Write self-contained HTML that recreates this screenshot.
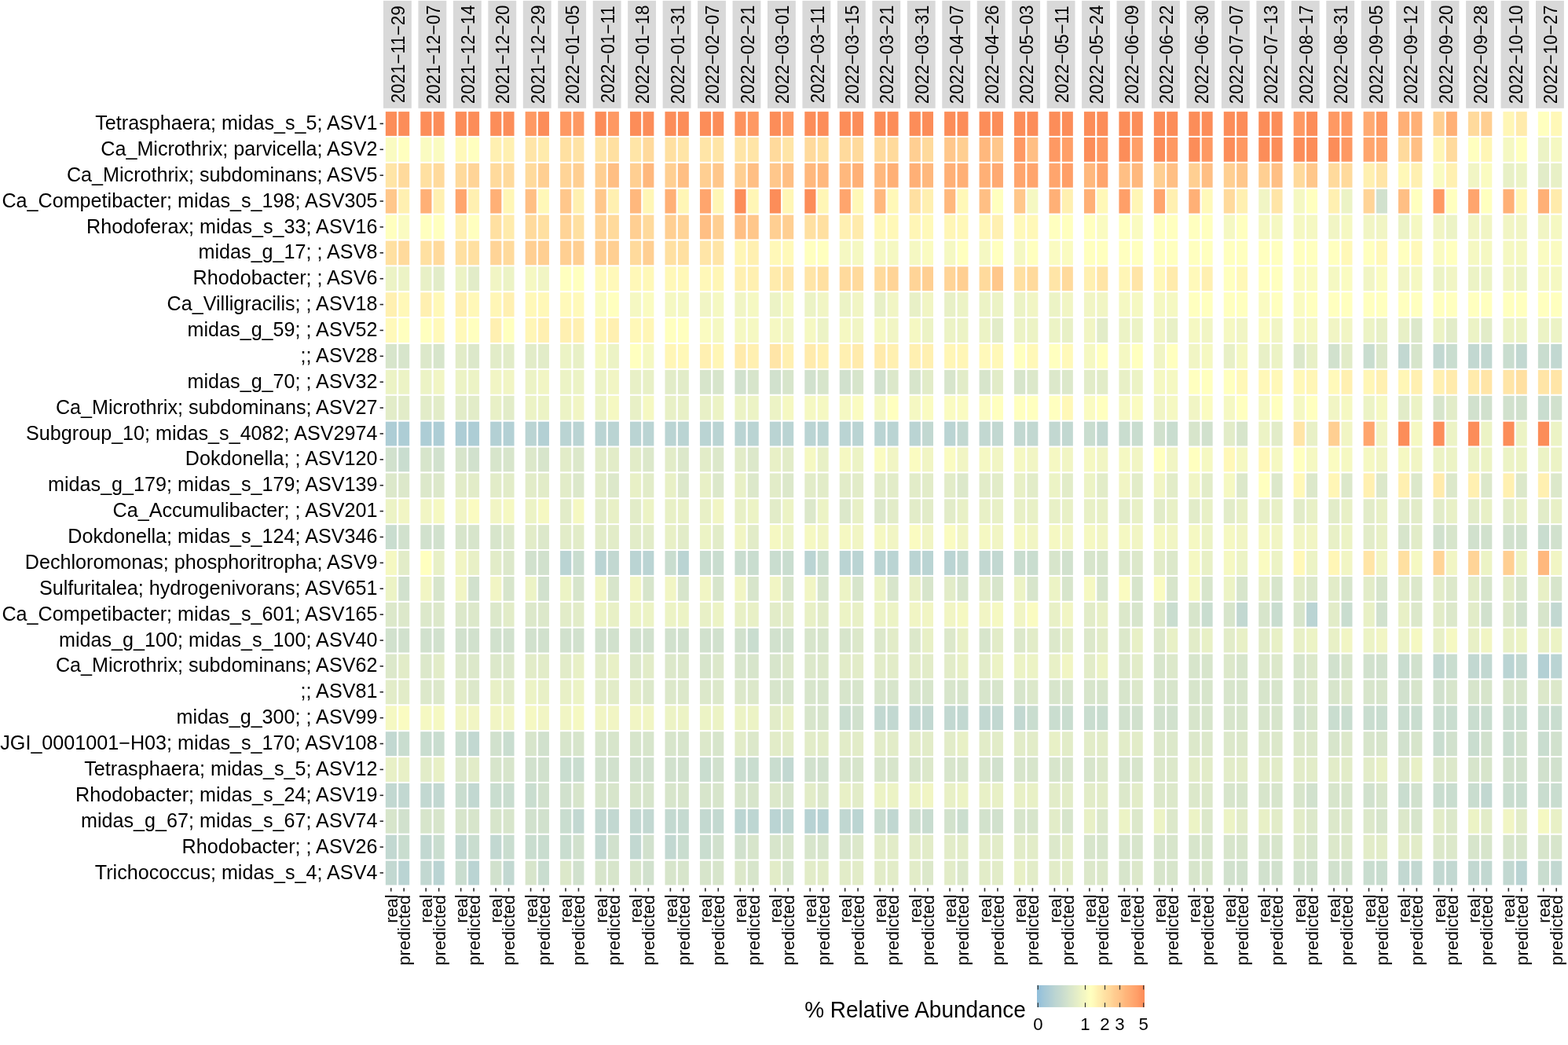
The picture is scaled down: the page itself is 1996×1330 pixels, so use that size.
<!DOCTYPE html><html><head><meta charset="utf-8"><title>Relative abundance heatmap</title><style>html,body{margin:0;padding:0;background:#fff;overflow:hidden;width:1996px;height:1330px;}svg{display:block;}text{font-family:"Liberation Sans",Arial,Helvetica,sans-serif;fill:#000;}</style></head><body>
<svg width="1996" height="1330" viewBox="0 0 1996 1330">
<rect x="0" y="0" width="1996" height="1330" fill="#fff"/>
<g fill="#d9d9d9">
<rect x="488" y="0.9" width="35.85" height="136.9"/>
<rect x="532.46" y="0.9" width="35.85" height="136.9"/>
<rect x="576.91" y="0.9" width="35.85" height="136.9"/>
<rect x="621.37" y="0.9" width="35.85" height="136.9"/>
<rect x="665.82" y="0.9" width="35.85" height="136.9"/>
<rect x="710.27" y="0.9" width="35.85" height="136.9"/>
<rect x="754.73" y="0.9" width="35.85" height="136.9"/>
<rect x="799.18" y="0.9" width="35.85" height="136.9"/>
<rect x="843.64" y="0.9" width="35.85" height="136.9"/>
<rect x="888.1" y="0.9" width="35.85" height="136.9"/>
<rect x="932.55" y="0.9" width="35.85" height="136.9"/>
<rect x="977" y="0.9" width="35.85" height="136.9"/>
<rect x="1021.46" y="0.9" width="35.85" height="136.9"/>
<rect x="1065.91" y="0.9" width="35.85" height="136.9"/>
<rect x="1110.37" y="0.9" width="35.85" height="136.9"/>
<rect x="1154.82" y="0.9" width="35.85" height="136.9"/>
<rect x="1199.28" y="0.9" width="35.85" height="136.9"/>
<rect x="1243.74" y="0.9" width="35.85" height="136.9"/>
<rect x="1288.19" y="0.9" width="35.85" height="136.9"/>
<rect x="1332.64" y="0.9" width="35.85" height="136.9"/>
<rect x="1377.1" y="0.9" width="35.85" height="136.9"/>
<rect x="1421.55" y="0.9" width="35.85" height="136.9"/>
<rect x="1466.01" y="0.9" width="35.85" height="136.9"/>
<rect x="1510.46" y="0.9" width="35.85" height="136.9"/>
<rect x="1554.92" y="0.9" width="35.85" height="136.9"/>
<rect x="1599.38" y="0.9" width="35.85" height="136.9"/>
<rect x="1643.83" y="0.9" width="35.85" height="136.9"/>
<rect x="1688.28" y="0.9" width="35.85" height="136.9"/>
<rect x="1732.74" y="0.9" width="35.85" height="136.9"/>
<rect x="1777.19" y="0.9" width="35.85" height="136.9"/>
<rect x="1821.65" y="0.9" width="35.85" height="136.9"/>
<rect x="1866.11" y="0.9" width="35.85" height="136.9"/>
<rect x="1910.56" y="0.9" width="35.85" height="136.9"/>
<rect x="1955.01" y="0.9" width="35.85" height="136.9"/>
</g>
<g font-size="22.4" text-anchor="middle">
<text transform="translate(515.1,69.3) rotate(-90) scale(1,1.035)">2021−11−29</text>
<text transform="translate(559.56,69.3) rotate(-90) scale(1,1.035)">2021−12−07</text>
<text transform="translate(604.01,69.3) rotate(-90) scale(1,1.035)">2021−12−14</text>
<text transform="translate(648.47,69.3) rotate(-90) scale(1,1.035)">2021−12−20</text>
<text transform="translate(692.92,69.3) rotate(-90) scale(1,1.035)">2021−12−29</text>
<text transform="translate(737.38,69.3) rotate(-90) scale(1,1.035)">2022−01−05</text>
<text transform="translate(781.83,69.3) rotate(-90) scale(1,1.035)">2022−01−11</text>
<text transform="translate(826.28,69.3) rotate(-90) scale(1,1.035)">2022−01−18</text>
<text transform="translate(870.74,69.3) rotate(-90) scale(1,1.035)">2022−01−31</text>
<text transform="translate(915.2,69.3) rotate(-90) scale(1,1.035)">2022−02−07</text>
<text transform="translate(959.65,69.3) rotate(-90) scale(1,1.035)">2022−02−21</text>
<text transform="translate(1004.11,69.3) rotate(-90) scale(1,1.035)">2022−03−01</text>
<text transform="translate(1048.56,69.3) rotate(-90) scale(1,1.035)">2022−03−11</text>
<text transform="translate(1093.01,69.3) rotate(-90) scale(1,1.035)">2022−03−15</text>
<text transform="translate(1137.47,69.3) rotate(-90) scale(1,1.035)">2022−03−21</text>
<text transform="translate(1181.92,69.3) rotate(-90) scale(1,1.035)">2022−03−31</text>
<text transform="translate(1226.38,69.3) rotate(-90) scale(1,1.035)">2022−04−07</text>
<text transform="translate(1270.84,69.3) rotate(-90) scale(1,1.035)">2022−04−26</text>
<text transform="translate(1315.29,69.3) rotate(-90) scale(1,1.035)">2022−05−03</text>
<text transform="translate(1359.74,69.3) rotate(-90) scale(1,1.035)">2022−05−11</text>
<text transform="translate(1404.2,69.3) rotate(-90) scale(1,1.035)">2022−05−24</text>
<text transform="translate(1448.65,69.3) rotate(-90) scale(1,1.035)">2022−06−09</text>
<text transform="translate(1493.11,69.3) rotate(-90) scale(1,1.035)">2022−06−22</text>
<text transform="translate(1537.57,69.3) rotate(-90) scale(1,1.035)">2022−06−30</text>
<text transform="translate(1582.02,69.3) rotate(-90) scale(1,1.035)">2022−07−07</text>
<text transform="translate(1626.47,69.3) rotate(-90) scale(1,1.035)">2022−07−13</text>
<text transform="translate(1670.93,69.3) rotate(-90) scale(1,1.035)">2022−08−17</text>
<text transform="translate(1715.38,69.3) rotate(-90) scale(1,1.035)">2022−08−31</text>
<text transform="translate(1759.84,69.3) rotate(-90) scale(1,1.035)">2022−09−05</text>
<text transform="translate(1804.3,69.3) rotate(-90) scale(1,1.035)">2022−09−12</text>
<text transform="translate(1848.75,69.3) rotate(-90) scale(1,1.035)">2022−09−20</text>
<text transform="translate(1893.2,69.3) rotate(-90) scale(1,1.035)">2022−09−28</text>
<text transform="translate(1937.66,69.3) rotate(-90) scale(1,1.035)">2022−10−10</text>
<text transform="translate(1982.11,69.3) rotate(-90) scale(1,1.035)">2022−10−27</text>
</g>
<g>
<rect x="490.85" y="142.1" width="14.15" height="30.8" fill="#fc8d59"/>
<rect x="507.25" y="142.1" width="13.95" height="30.8" fill="#fc8d59"/>
<rect x="535.31" y="142.1" width="14.15" height="30.8" fill="#fc8d59"/>
<rect x="551.71" y="142.1" width="13.95" height="30.8" fill="#fc8d59"/>
<rect x="579.76" y="142.1" width="14.15" height="30.8" fill="#fc8d59"/>
<rect x="596.16" y="142.1" width="13.95" height="30.8" fill="#fc8d59"/>
<rect x="624.22" y="142.1" width="14.15" height="30.8" fill="#fc8d59"/>
<rect x="640.62" y="142.1" width="13.95" height="30.8" fill="#fc8d59"/>
<rect x="668.67" y="142.1" width="14.15" height="30.8" fill="#fe9963"/>
<rect x="685.07" y="142.1" width="13.95" height="30.8" fill="#fc8d59"/>
<rect x="713.12" y="142.1" width="14.15" height="30.8" fill="#fe9963"/>
<rect x="729.52" y="142.1" width="13.95" height="30.8" fill="#fe9963"/>
<rect x="757.58" y="142.1" width="14.15" height="30.8" fill="#fc8d59"/>
<rect x="773.98" y="142.1" width="13.95" height="30.8" fill="#fe9963"/>
<rect x="802.03" y="142.1" width="14.15" height="30.8" fill="#fc8d59"/>
<rect x="818.43" y="142.1" width="13.95" height="30.8" fill="#fc8d59"/>
<rect x="846.49" y="142.1" width="14.15" height="30.8" fill="#fc8d59"/>
<rect x="862.89" y="142.1" width="13.95" height="30.8" fill="#fc8d59"/>
<rect x="890.95" y="142.1" width="14.15" height="30.8" fill="#fc8d59"/>
<rect x="907.35" y="142.1" width="13.95" height="30.8" fill="#fc8d59"/>
<rect x="935.4" y="142.1" width="14.15" height="30.8" fill="#fd935e"/>
<rect x="951.8" y="142.1" width="13.95" height="30.8" fill="#fe9963"/>
<rect x="979.86" y="142.1" width="14.15" height="30.8" fill="#fc8d59"/>
<rect x="996.25" y="142.1" width="13.95" height="30.8" fill="#fe9963"/>
<rect x="1024.31" y="142.1" width="14.15" height="30.8" fill="#fc8d59"/>
<rect x="1040.71" y="142.1" width="13.95" height="30.8" fill="#fc8d59"/>
<rect x="1068.76" y="142.1" width="14.15" height="30.8" fill="#fc8d59"/>
<rect x="1085.16" y="142.1" width="13.95" height="30.8" fill="#fc8d59"/>
<rect x="1113.22" y="142.1" width="14.15" height="30.8" fill="#fc8d59"/>
<rect x="1129.62" y="142.1" width="13.95" height="30.8" fill="#fc8d59"/>
<rect x="1157.67" y="142.1" width="14.15" height="30.8" fill="#fc8d59"/>
<rect x="1174.07" y="142.1" width="13.95" height="30.8" fill="#fc8d59"/>
<rect x="1202.13" y="142.1" width="14.15" height="30.8" fill="#fc8d59"/>
<rect x="1218.53" y="142.1" width="13.95" height="30.8" fill="#fc8d59"/>
<rect x="1246.59" y="142.1" width="14.15" height="30.8" fill="#fc8d59"/>
<rect x="1262.99" y="142.1" width="13.95" height="30.8" fill="#fc8d59"/>
<rect x="1291.04" y="142.1" width="14.15" height="30.8" fill="#fc8d59"/>
<rect x="1307.44" y="142.1" width="13.95" height="30.8" fill="#fc8d59"/>
<rect x="1335.49" y="142.1" width="14.15" height="30.8" fill="#fc8d59"/>
<rect x="1351.89" y="142.1" width="13.95" height="30.8" fill="#fc8d59"/>
<rect x="1379.95" y="142.1" width="14.15" height="30.8" fill="#fc8d59"/>
<rect x="1396.35" y="142.1" width="13.95" height="30.8" fill="#fc8d59"/>
<rect x="1424.4" y="142.1" width="14.15" height="30.8" fill="#fc8d59"/>
<rect x="1440.8" y="142.1" width="13.95" height="30.8" fill="#fc8d59"/>
<rect x="1468.86" y="142.1" width="14.15" height="30.8" fill="#fc8d59"/>
<rect x="1485.26" y="142.1" width="13.95" height="30.8" fill="#fc8d59"/>
<rect x="1513.31" y="142.1" width="14.15" height="30.8" fill="#fc8d59"/>
<rect x="1529.71" y="142.1" width="13.95" height="30.8" fill="#fc8d59"/>
<rect x="1557.77" y="142.1" width="14.15" height="30.8" fill="#fc8d59"/>
<rect x="1574.17" y="142.1" width="13.95" height="30.8" fill="#fc8d59"/>
<rect x="1602.22" y="142.1" width="14.15" height="30.8" fill="#fc8d59"/>
<rect x="1618.62" y="142.1" width="13.95" height="30.8" fill="#fc8d59"/>
<rect x="1646.68" y="142.1" width="14.15" height="30.8" fill="#fe9963"/>
<rect x="1663.08" y="142.1" width="13.95" height="30.8" fill="#fc8d59"/>
<rect x="1691.13" y="142.1" width="14.15" height="30.8" fill="#fe9963"/>
<rect x="1707.53" y="142.1" width="13.95" height="30.8" fill="#fe9963"/>
<rect x="1735.59" y="142.1" width="14.15" height="30.8" fill="#ffaa72"/>
<rect x="1751.99" y="142.1" width="13.95" height="30.8" fill="#fe9963"/>
<rect x="1780.04" y="142.1" width="14.15" height="30.8" fill="#ffb076"/>
<rect x="1796.44" y="142.1" width="13.95" height="30.8" fill="#ffb076"/>
<rect x="1824.5" y="142.1" width="14.15" height="30.8" fill="#ffcf92"/>
<rect x="1840.9" y="142.1" width="13.95" height="30.8" fill="#ffb076"/>
<rect x="1868.95" y="142.1" width="14.15" height="30.8" fill="#ffda9c"/>
<rect x="1885.36" y="142.1" width="13.95" height="30.8" fill="#ffcf92"/>
<rect x="1913.41" y="142.1" width="14.15" height="30.8" fill="#fff6b6"/>
<rect x="1929.81" y="142.1" width="13.95" height="30.8" fill="#ffebac"/>
<rect x="1957.86" y="142.1" width="14.15" height="30.8" fill="#ffffbf"/>
<rect x="1974.26" y="142.1" width="13.95" height="30.8" fill="#fff8b8"/>
<rect x="490.85" y="174.98" width="14.15" height="30.8" fill="#fafbc1"/>
<rect x="507.25" y="174.98" width="13.95" height="30.8" fill="#ffffbf"/>
<rect x="535.31" y="174.98" width="14.15" height="30.8" fill="#fafbc1"/>
<rect x="551.71" y="174.98" width="13.95" height="30.8" fill="#fafbc1"/>
<rect x="579.76" y="174.98" width="14.15" height="30.8" fill="#fff9ba"/>
<rect x="596.16" y="174.98" width="13.95" height="30.8" fill="#ffffbf"/>
<rect x="624.22" y="174.98" width="14.15" height="30.8" fill="#fff0b1"/>
<rect x="640.62" y="174.98" width="13.95" height="30.8" fill="#fff0b1"/>
<rect x="668.67" y="174.98" width="14.15" height="30.8" fill="#ffe5a7"/>
<rect x="685.07" y="174.98" width="13.95" height="30.8" fill="#ffebac"/>
<rect x="713.12" y="174.98" width="14.15" height="30.8" fill="#ffe0a1"/>
<rect x="729.52" y="174.98" width="13.95" height="30.8" fill="#ffe3a5"/>
<rect x="757.58" y="174.98" width="14.15" height="30.8" fill="#ffe5a7"/>
<rect x="773.98" y="174.98" width="13.95" height="30.8" fill="#ffe0a1"/>
<rect x="802.03" y="174.98" width="14.15" height="30.8" fill="#ffe5a7"/>
<rect x="818.43" y="174.98" width="13.95" height="30.8" fill="#ffda9c"/>
<rect x="846.49" y="174.98" width="14.15" height="30.8" fill="#ffe0a1"/>
<rect x="862.89" y="174.98" width="13.95" height="30.8" fill="#ffe5a7"/>
<rect x="890.95" y="174.98" width="14.15" height="30.8" fill="#ffe5a7"/>
<rect x="907.35" y="174.98" width="13.95" height="30.8" fill="#ffe5a7"/>
<rect x="935.4" y="174.98" width="14.15" height="30.8" fill="#ffe5a7"/>
<rect x="951.8" y="174.98" width="13.95" height="30.8" fill="#ffe5a7"/>
<rect x="979.86" y="174.98" width="14.15" height="30.8" fill="#ffda9c"/>
<rect x="996.25" y="174.98" width="13.95" height="30.8" fill="#ffe5a7"/>
<rect x="1024.31" y="174.98" width="14.15" height="30.8" fill="#ffda9c"/>
<rect x="1040.71" y="174.98" width="13.95" height="30.8" fill="#ffe0a1"/>
<rect x="1068.76" y="174.98" width="14.15" height="30.8" fill="#ffda9c"/>
<rect x="1085.16" y="174.98" width="13.95" height="30.8" fill="#ffda9c"/>
<rect x="1113.22" y="174.98" width="14.15" height="30.8" fill="#ffda9c"/>
<rect x="1129.62" y="174.98" width="13.95" height="30.8" fill="#ffda9c"/>
<rect x="1157.67" y="174.98" width="14.15" height="30.8" fill="#ffcf92"/>
<rect x="1174.07" y="174.98" width="13.95" height="30.8" fill="#ffda9c"/>
<rect x="1202.13" y="174.98" width="14.15" height="30.8" fill="#ffc78b"/>
<rect x="1218.53" y="174.98" width="13.95" height="30.8" fill="#ffcf92"/>
<rect x="1246.59" y="174.98" width="14.15" height="30.8" fill="#ffb87d"/>
<rect x="1262.99" y="174.98" width="13.95" height="30.8" fill="#ffc78b"/>
<rect x="1291.04" y="174.98" width="14.15" height="30.8" fill="#fe9963"/>
<rect x="1307.44" y="174.98" width="13.95" height="30.8" fill="#ffbf84"/>
<rect x="1335.49" y="174.98" width="14.15" height="30.8" fill="#fe9963"/>
<rect x="1351.89" y="174.98" width="13.95" height="30.8" fill="#ff9f68"/>
<rect x="1379.95" y="174.98" width="14.15" height="30.8" fill="#fc8d59"/>
<rect x="1396.35" y="174.98" width="13.95" height="30.8" fill="#fe9963"/>
<rect x="1424.4" y="174.98" width="14.15" height="30.8" fill="#fc8d59"/>
<rect x="1440.8" y="174.98" width="13.95" height="30.8" fill="#ff9f68"/>
<rect x="1468.86" y="174.98" width="14.15" height="30.8" fill="#fc8d59"/>
<rect x="1485.26" y="174.98" width="13.95" height="30.8" fill="#fe9963"/>
<rect x="1513.31" y="174.98" width="14.15" height="30.8" fill="#fc8d59"/>
<rect x="1529.71" y="174.98" width="13.95" height="30.8" fill="#fe9963"/>
<rect x="1557.77" y="174.98" width="14.15" height="30.8" fill="#fc8d59"/>
<rect x="1574.17" y="174.98" width="13.95" height="30.8" fill="#fe9963"/>
<rect x="1602.22" y="174.98" width="14.15" height="30.8" fill="#fc8d59"/>
<rect x="1618.62" y="174.98" width="13.95" height="30.8" fill="#fc8d59"/>
<rect x="1646.68" y="174.98" width="14.15" height="30.8" fill="#fc8d59"/>
<rect x="1663.08" y="174.98" width="13.95" height="30.8" fill="#fc8d59"/>
<rect x="1691.13" y="174.98" width="14.15" height="30.8" fill="#fc8d59"/>
<rect x="1707.53" y="174.98" width="13.95" height="30.8" fill="#fe9963"/>
<rect x="1735.59" y="174.98" width="14.15" height="30.8" fill="#ffa56d"/>
<rect x="1751.99" y="174.98" width="13.95" height="30.8" fill="#ffa56d"/>
<rect x="1780.04" y="174.98" width="14.15" height="30.8" fill="#ffda9c"/>
<rect x="1796.44" y="174.98" width="13.95" height="30.8" fill="#ffbf84"/>
<rect x="1824.5" y="174.98" width="14.15" height="30.8" fill="#fff6b6"/>
<rect x="1840.9" y="174.98" width="13.95" height="30.8" fill="#ffda9c"/>
<rect x="1868.95" y="174.98" width="14.15" height="30.8" fill="#ffffbf"/>
<rect x="1885.36" y="174.98" width="13.95" height="30.8" fill="#fff6b6"/>
<rect x="1913.41" y="174.98" width="14.15" height="30.8" fill="#f5f8c2"/>
<rect x="1929.81" y="174.98" width="13.95" height="30.8" fill="#ffffbf"/>
<rect x="1957.86" y="174.98" width="14.15" height="30.8" fill="#ecf3c5"/>
<rect x="1974.26" y="174.98" width="13.95" height="30.8" fill="#f5f8c2"/>
<rect x="490.85" y="207.86" width="14.15" height="30.8" fill="#ffe5a7"/>
<rect x="507.25" y="207.86" width="13.95" height="30.8" fill="#ffda9c"/>
<rect x="535.31" y="207.86" width="14.15" height="30.8" fill="#ffe0a1"/>
<rect x="551.71" y="207.86" width="13.95" height="30.8" fill="#ffda9c"/>
<rect x="579.76" y="207.86" width="14.15" height="30.8" fill="#ffda9c"/>
<rect x="596.16" y="207.86" width="13.95" height="30.8" fill="#ffd497"/>
<rect x="624.22" y="207.86" width="14.15" height="30.8" fill="#ffda9c"/>
<rect x="640.62" y="207.86" width="13.95" height="30.8" fill="#ffda9c"/>
<rect x="668.67" y="207.86" width="14.15" height="30.8" fill="#ffda9c"/>
<rect x="685.07" y="207.86" width="13.95" height="30.8" fill="#ffcf92"/>
<rect x="713.12" y="207.86" width="14.15" height="30.8" fill="#ffd497"/>
<rect x="729.52" y="207.86" width="13.95" height="30.8" fill="#ffcf92"/>
<rect x="757.58" y="207.86" width="14.15" height="30.8" fill="#ffcf92"/>
<rect x="773.98" y="207.86" width="13.95" height="30.8" fill="#ffbf84"/>
<rect x="802.03" y="207.86" width="14.15" height="30.8" fill="#ffcf92"/>
<rect x="818.43" y="207.86" width="13.95" height="30.8" fill="#ffb87d"/>
<rect x="846.49" y="207.86" width="14.15" height="30.8" fill="#ffcf92"/>
<rect x="862.89" y="207.86" width="13.95" height="30.8" fill="#ffbf84"/>
<rect x="890.95" y="207.86" width="14.15" height="30.8" fill="#ffcf92"/>
<rect x="907.35" y="207.86" width="13.95" height="30.8" fill="#ffc78b"/>
<rect x="935.4" y="207.86" width="14.15" height="30.8" fill="#ffcf92"/>
<rect x="951.8" y="207.86" width="13.95" height="30.8" fill="#ffbf84"/>
<rect x="979.86" y="207.86" width="14.15" height="30.8" fill="#ffc78b"/>
<rect x="996.25" y="207.86" width="13.95" height="30.8" fill="#ffbf84"/>
<rect x="1024.31" y="207.86" width="14.15" height="30.8" fill="#ffb87d"/>
<rect x="1040.71" y="207.86" width="13.95" height="30.8" fill="#ffb87d"/>
<rect x="1068.76" y="207.86" width="14.15" height="30.8" fill="#ffb87d"/>
<rect x="1085.16" y="207.86" width="13.95" height="30.8" fill="#ffb076"/>
<rect x="1113.22" y="207.86" width="14.15" height="30.8" fill="#ffb87d"/>
<rect x="1129.62" y="207.86" width="13.95" height="30.8" fill="#ffb076"/>
<rect x="1157.67" y="207.86" width="14.15" height="30.8" fill="#ffb076"/>
<rect x="1174.07" y="207.86" width="13.95" height="30.8" fill="#ffb87d"/>
<rect x="1202.13" y="207.86" width="14.15" height="30.8" fill="#ffb076"/>
<rect x="1218.53" y="207.86" width="13.95" height="30.8" fill="#ffb076"/>
<rect x="1246.59" y="207.86" width="14.15" height="30.8" fill="#ffb076"/>
<rect x="1262.99" y="207.86" width="13.95" height="30.8" fill="#ffaa72"/>
<rect x="1291.04" y="207.86" width="14.15" height="30.8" fill="#ffa56d"/>
<rect x="1307.44" y="207.86" width="13.95" height="30.8" fill="#ffa56d"/>
<rect x="1335.49" y="207.86" width="14.15" height="30.8" fill="#ffa56d"/>
<rect x="1351.89" y="207.86" width="13.95" height="30.8" fill="#ff9f68"/>
<rect x="1379.95" y="207.86" width="14.15" height="30.8" fill="#ffb87d"/>
<rect x="1396.35" y="207.86" width="13.95" height="30.8" fill="#ffa56d"/>
<rect x="1424.4" y="207.86" width="14.15" height="30.8" fill="#ffbf84"/>
<rect x="1440.8" y="207.86" width="13.95" height="30.8" fill="#ffb87d"/>
<rect x="1468.86" y="207.86" width="14.15" height="30.8" fill="#ffcf92"/>
<rect x="1485.26" y="207.86" width="13.95" height="30.8" fill="#ffbf84"/>
<rect x="1513.31" y="207.86" width="14.15" height="30.8" fill="#ffcf92"/>
<rect x="1529.71" y="207.86" width="13.95" height="30.8" fill="#ffbf84"/>
<rect x="1557.77" y="207.86" width="14.15" height="30.8" fill="#ffcf92"/>
<rect x="1574.17" y="207.86" width="13.95" height="30.8" fill="#ffc78b"/>
<rect x="1602.22" y="207.86" width="14.15" height="30.8" fill="#ffcf92"/>
<rect x="1618.62" y="207.86" width="13.95" height="30.8" fill="#ffbf84"/>
<rect x="1646.68" y="207.86" width="14.15" height="30.8" fill="#ffda9c"/>
<rect x="1663.08" y="207.86" width="13.95" height="30.8" fill="#ffc78b"/>
<rect x="1691.13" y="207.86" width="14.15" height="30.8" fill="#ffda9c"/>
<rect x="1707.53" y="207.86" width="13.95" height="30.8" fill="#ffda9c"/>
<rect x="1735.59" y="207.86" width="14.15" height="30.8" fill="#fff0b1"/>
<rect x="1751.99" y="207.86" width="13.95" height="30.8" fill="#ffe5a7"/>
<rect x="1780.04" y="207.86" width="14.15" height="30.8" fill="#fff8b8"/>
<rect x="1796.44" y="207.86" width="13.95" height="30.8" fill="#fff0b1"/>
<rect x="1824.5" y="207.86" width="14.15" height="30.8" fill="#fafbc1"/>
<rect x="1840.9" y="207.86" width="13.95" height="30.8" fill="#fff0b1"/>
<rect x="1868.95" y="207.86" width="14.15" height="30.8" fill="#f1f5c4"/>
<rect x="1885.36" y="207.86" width="13.95" height="30.8" fill="#fafbc1"/>
<rect x="1913.41" y="207.86" width="14.15" height="30.8" fill="#e8f0c6"/>
<rect x="1929.81" y="207.86" width="13.95" height="30.8" fill="#ecf3c5"/>
<rect x="1957.86" y="207.86" width="14.15" height="30.8" fill="#e2ecc8"/>
<rect x="1974.26" y="207.86" width="13.95" height="30.8" fill="#e8f0c6"/>
<rect x="490.85" y="240.74" width="14.15" height="30.8" fill="#ffc78b"/>
<rect x="507.25" y="240.74" width="13.95" height="30.8" fill="#fff0b1"/>
<rect x="535.31" y="240.74" width="14.15" height="30.8" fill="#ffb076"/>
<rect x="551.71" y="240.74" width="13.95" height="30.8" fill="#fff0b1"/>
<rect x="579.76" y="240.74" width="14.15" height="30.8" fill="#ffa56d"/>
<rect x="596.16" y="240.74" width="13.95" height="30.8" fill="#fff0b1"/>
<rect x="624.22" y="240.74" width="14.15" height="30.8" fill="#ffb076"/>
<rect x="640.62" y="240.74" width="13.95" height="30.8" fill="#fff6b6"/>
<rect x="668.67" y="240.74" width="14.15" height="30.8" fill="#ffbf84"/>
<rect x="685.07" y="240.74" width="13.95" height="30.8" fill="#fff8b8"/>
<rect x="713.12" y="240.74" width="14.15" height="30.8" fill="#ffc78b"/>
<rect x="729.52" y="240.74" width="13.95" height="30.8" fill="#fff0b1"/>
<rect x="757.58" y="240.74" width="14.15" height="30.8" fill="#ffc78b"/>
<rect x="773.98" y="240.74" width="13.95" height="30.8" fill="#fff0b1"/>
<rect x="802.03" y="240.74" width="14.15" height="30.8" fill="#ffb87d"/>
<rect x="818.43" y="240.74" width="13.95" height="30.8" fill="#fff6b6"/>
<rect x="846.49" y="240.74" width="14.15" height="30.8" fill="#ffb076"/>
<rect x="862.89" y="240.74" width="13.95" height="30.8" fill="#fff6b6"/>
<rect x="890.95" y="240.74" width="14.15" height="30.8" fill="#ffa56d"/>
<rect x="907.35" y="240.74" width="13.95" height="30.8" fill="#fff6b6"/>
<rect x="935.4" y="240.74" width="14.15" height="30.8" fill="#fc8d59"/>
<rect x="951.8" y="240.74" width="13.95" height="30.8" fill="#fff6b6"/>
<rect x="979.86" y="240.74" width="14.15" height="30.8" fill="#fc8d59"/>
<rect x="996.25" y="240.74" width="13.95" height="30.8" fill="#fff6b6"/>
<rect x="1024.31" y="240.74" width="14.15" height="30.8" fill="#fc8d59"/>
<rect x="1040.71" y="240.74" width="13.95" height="30.8" fill="#fff6b6"/>
<rect x="1068.76" y="240.74" width="14.15" height="30.8" fill="#ffa56d"/>
<rect x="1085.16" y="240.74" width="13.95" height="30.8" fill="#fff8b8"/>
<rect x="1113.22" y="240.74" width="14.15" height="30.8" fill="#ffb87d"/>
<rect x="1129.62" y="240.74" width="13.95" height="30.8" fill="#fff8b8"/>
<rect x="1157.67" y="240.74" width="14.15" height="30.8" fill="#ffe0a1"/>
<rect x="1174.07" y="240.74" width="13.95" height="30.8" fill="#fff0b1"/>
<rect x="1202.13" y="240.74" width="14.15" height="30.8" fill="#ffb87d"/>
<rect x="1218.53" y="240.74" width="13.95" height="30.8" fill="#fff8b8"/>
<rect x="1246.59" y="240.74" width="14.15" height="30.8" fill="#ffbf84"/>
<rect x="1262.99" y="240.74" width="13.95" height="30.8" fill="#ffffbf"/>
<rect x="1291.04" y="240.74" width="14.15" height="30.8" fill="#ffc78b"/>
<rect x="1307.44" y="240.74" width="13.95" height="30.8" fill="#f5f8c2"/>
<rect x="1335.49" y="240.74" width="14.15" height="30.8" fill="#ffb076"/>
<rect x="1351.89" y="240.74" width="13.95" height="30.8" fill="#fff0b1"/>
<rect x="1379.95" y="240.74" width="14.15" height="30.8" fill="#ffb076"/>
<rect x="1396.35" y="240.74" width="13.95" height="30.8" fill="#fff8b8"/>
<rect x="1424.4" y="240.74" width="14.15" height="30.8" fill="#ff9f68"/>
<rect x="1440.8" y="240.74" width="13.95" height="30.8" fill="#fff6b6"/>
<rect x="1468.86" y="240.74" width="14.15" height="30.8" fill="#ffa56d"/>
<rect x="1485.26" y="240.74" width="13.95" height="30.8" fill="#fff0b1"/>
<rect x="1513.31" y="240.74" width="14.15" height="30.8" fill="#ffb076"/>
<rect x="1529.71" y="240.74" width="13.95" height="30.8" fill="#fff9ba"/>
<rect x="1557.77" y="240.74" width="14.15" height="30.8" fill="#ffda9c"/>
<rect x="1574.17" y="240.74" width="13.95" height="30.8" fill="#fff0b1"/>
<rect x="1602.22" y="240.74" width="14.15" height="30.8" fill="#f1f5c4"/>
<rect x="1618.62" y="240.74" width="13.95" height="30.8" fill="#ffe5a7"/>
<rect x="1646.68" y="240.74" width="14.15" height="30.8" fill="#f5f8c2"/>
<rect x="1663.08" y="240.74" width="13.95" height="30.8" fill="#ffffbf"/>
<rect x="1691.13" y="240.74" width="14.15" height="30.8" fill="#fff0b1"/>
<rect x="1707.53" y="240.74" width="13.95" height="30.8" fill="#ecf3c5"/>
<rect x="1735.59" y="240.74" width="14.15" height="30.8" fill="#ffd497"/>
<rect x="1751.99" y="240.74" width="13.95" height="30.8" fill="#d1e1cd"/>
<rect x="1780.04" y="240.74" width="14.15" height="30.8" fill="#ffbf84"/>
<rect x="1796.44" y="240.74" width="13.95" height="30.8" fill="#ffffbf"/>
<rect x="1824.5" y="240.74" width="14.15" height="30.8" fill="#fe9963"/>
<rect x="1840.9" y="240.74" width="13.95" height="30.8" fill="#ffffbf"/>
<rect x="1868.95" y="240.74" width="14.15" height="30.8" fill="#ffa56d"/>
<rect x="1885.36" y="240.74" width="13.95" height="30.8" fill="#ffffbf"/>
<rect x="1913.41" y="240.74" width="14.15" height="30.8" fill="#ffb076"/>
<rect x="1929.81" y="240.74" width="13.95" height="30.8" fill="#fff8b8"/>
<rect x="1957.86" y="240.74" width="14.15" height="30.8" fill="#ffb076"/>
<rect x="1974.26" y="240.74" width="13.95" height="30.8" fill="#ffebac"/>
<rect x="490.85" y="273.62" width="14.15" height="30.8" fill="#ffffbf"/>
<rect x="507.25" y="273.62" width="13.95" height="30.8" fill="#fafbc1"/>
<rect x="535.31" y="273.62" width="14.15" height="30.8" fill="#ffffbf"/>
<rect x="551.71" y="273.62" width="13.95" height="30.8" fill="#ffffbf"/>
<rect x="579.76" y="273.62" width="14.15" height="30.8" fill="#fff0b1"/>
<rect x="596.16" y="273.62" width="13.95" height="30.8" fill="#ffffbf"/>
<rect x="624.22" y="273.62" width="14.15" height="30.8" fill="#ffe0a1"/>
<rect x="640.62" y="273.62" width="13.95" height="30.8" fill="#ffebac"/>
<rect x="668.67" y="273.62" width="14.15" height="30.8" fill="#ffda9c"/>
<rect x="685.07" y="273.62" width="13.95" height="30.8" fill="#ffe0a1"/>
<rect x="713.12" y="273.62" width="14.15" height="30.8" fill="#ffd497"/>
<rect x="729.52" y="273.62" width="13.95" height="30.8" fill="#ffe0a1"/>
<rect x="757.58" y="273.62" width="14.15" height="30.8" fill="#ffd497"/>
<rect x="773.98" y="273.62" width="13.95" height="30.8" fill="#ffda9c"/>
<rect x="802.03" y="273.62" width="14.15" height="30.8" fill="#ffcf92"/>
<rect x="818.43" y="273.62" width="13.95" height="30.8" fill="#ffda9c"/>
<rect x="846.49" y="273.62" width="14.15" height="30.8" fill="#ffcf92"/>
<rect x="862.89" y="273.62" width="13.95" height="30.8" fill="#ffd497"/>
<rect x="890.95" y="273.62" width="14.15" height="30.8" fill="#ffbf84"/>
<rect x="907.35" y="273.62" width="13.95" height="30.8" fill="#ffcf92"/>
<rect x="935.4" y="273.62" width="14.15" height="30.8" fill="#ffbf84"/>
<rect x="951.8" y="273.62" width="13.95" height="30.8" fill="#ffc78b"/>
<rect x="979.86" y="273.62" width="14.15" height="30.8" fill="#ffcf92"/>
<rect x="996.25" y="273.62" width="13.95" height="30.8" fill="#ffcf92"/>
<rect x="1024.31" y="273.62" width="14.15" height="30.8" fill="#ffe0a1"/>
<rect x="1040.71" y="273.62" width="13.95" height="30.8" fill="#ffe0a1"/>
<rect x="1068.76" y="273.62" width="14.15" height="30.8" fill="#fff0b1"/>
<rect x="1085.16" y="273.62" width="13.95" height="30.8" fill="#ffebac"/>
<rect x="1113.22" y="273.62" width="14.15" height="30.8" fill="#fff8b8"/>
<rect x="1129.62" y="273.62" width="13.95" height="30.8" fill="#fff8b8"/>
<rect x="1157.67" y="273.62" width="14.15" height="30.8" fill="#fff6b6"/>
<rect x="1174.07" y="273.62" width="13.95" height="30.8" fill="#fff9ba"/>
<rect x="1202.13" y="273.62" width="14.15" height="30.8" fill="#fff6b6"/>
<rect x="1218.53" y="273.62" width="13.95" height="30.8" fill="#fff8b8"/>
<rect x="1246.59" y="273.62" width="14.15" height="30.8" fill="#fff6b6"/>
<rect x="1262.99" y="273.62" width="13.95" height="30.8" fill="#fff0b1"/>
<rect x="1291.04" y="273.62" width="14.15" height="30.8" fill="#fff9ba"/>
<rect x="1307.44" y="273.62" width="13.95" height="30.8" fill="#fff8b8"/>
<rect x="1335.49" y="273.62" width="14.15" height="30.8" fill="#ffffbf"/>
<rect x="1351.89" y="273.62" width="13.95" height="30.8" fill="#ffffbf"/>
<rect x="1379.95" y="273.62" width="14.15" height="30.8" fill="#ffffbf"/>
<rect x="1396.35" y="273.62" width="13.95" height="30.8" fill="#fafbc1"/>
<rect x="1424.4" y="273.62" width="14.15" height="30.8" fill="#ffffbf"/>
<rect x="1440.8" y="273.62" width="13.95" height="30.8" fill="#fafbc1"/>
<rect x="1468.86" y="273.62" width="14.15" height="30.8" fill="#ffffbf"/>
<rect x="1485.26" y="273.62" width="13.95" height="30.8" fill="#ffffbf"/>
<rect x="1513.31" y="273.62" width="14.15" height="30.8" fill="#ffffbf"/>
<rect x="1529.71" y="273.62" width="13.95" height="30.8" fill="#ffffbf"/>
<rect x="1557.77" y="273.62" width="14.15" height="30.8" fill="#f5f8c2"/>
<rect x="1574.17" y="273.62" width="13.95" height="30.8" fill="#ffffbf"/>
<rect x="1602.22" y="273.62" width="14.15" height="30.8" fill="#f5f8c2"/>
<rect x="1618.62" y="273.62" width="13.95" height="30.8" fill="#f5f8c2"/>
<rect x="1646.68" y="273.62" width="14.15" height="30.8" fill="#f5f8c2"/>
<rect x="1663.08" y="273.62" width="13.95" height="30.8" fill="#f5f8c2"/>
<rect x="1691.13" y="273.62" width="14.15" height="30.8" fill="#f1f5c4"/>
<rect x="1707.53" y="273.62" width="13.95" height="30.8" fill="#f5f8c2"/>
<rect x="1735.59" y="273.62" width="14.15" height="30.8" fill="#f1f5c4"/>
<rect x="1751.99" y="273.62" width="13.95" height="30.8" fill="#f1f5c4"/>
<rect x="1780.04" y="273.62" width="14.15" height="30.8" fill="#ecf3c5"/>
<rect x="1796.44" y="273.62" width="13.95" height="30.8" fill="#f5f8c2"/>
<rect x="1824.5" y="273.62" width="14.15" height="30.8" fill="#f1f5c4"/>
<rect x="1840.9" y="273.62" width="13.95" height="30.8" fill="#ecf3c5"/>
<rect x="1868.95" y="273.62" width="14.15" height="30.8" fill="#f1f5c4"/>
<rect x="1885.36" y="273.62" width="13.95" height="30.8" fill="#f1f5c4"/>
<rect x="1913.41" y="273.62" width="14.15" height="30.8" fill="#f1f5c4"/>
<rect x="1929.81" y="273.62" width="13.95" height="30.8" fill="#f1f5c4"/>
<rect x="1957.86" y="273.62" width="14.15" height="30.8" fill="#f1f5c4"/>
<rect x="1974.26" y="273.62" width="13.95" height="30.8" fill="#f5f8c2"/>
<rect x="490.85" y="306.5" width="14.15" height="30.8" fill="#ffe0a1"/>
<rect x="507.25" y="306.5" width="13.95" height="30.8" fill="#ffda9c"/>
<rect x="535.31" y="306.5" width="14.15" height="30.8" fill="#ffe0a1"/>
<rect x="551.71" y="306.5" width="13.95" height="30.8" fill="#ffda9c"/>
<rect x="579.76" y="306.5" width="14.15" height="30.8" fill="#ffe0a1"/>
<rect x="596.16" y="306.5" width="13.95" height="30.8" fill="#ffe0a1"/>
<rect x="624.22" y="306.5" width="14.15" height="30.8" fill="#ffd497"/>
<rect x="640.62" y="306.5" width="13.95" height="30.8" fill="#ffda9c"/>
<rect x="668.67" y="306.5" width="14.15" height="30.8" fill="#ffcf92"/>
<rect x="685.07" y="306.5" width="13.95" height="30.8" fill="#ffcf92"/>
<rect x="713.12" y="306.5" width="14.15" height="30.8" fill="#ffcf92"/>
<rect x="729.52" y="306.5" width="13.95" height="30.8" fill="#ffcf92"/>
<rect x="757.58" y="306.5" width="14.15" height="30.8" fill="#ffcf92"/>
<rect x="773.98" y="306.5" width="13.95" height="30.8" fill="#ffcf92"/>
<rect x="802.03" y="306.5" width="14.15" height="30.8" fill="#ffda9c"/>
<rect x="818.43" y="306.5" width="13.95" height="30.8" fill="#ffcf92"/>
<rect x="846.49" y="306.5" width="14.15" height="30.8" fill="#ffe0a1"/>
<rect x="862.89" y="306.5" width="13.95" height="30.8" fill="#ffe0a1"/>
<rect x="890.95" y="306.5" width="14.15" height="30.8" fill="#ffe5a7"/>
<rect x="907.35" y="306.5" width="13.95" height="30.8" fill="#ffe5a7"/>
<rect x="935.4" y="306.5" width="14.15" height="30.8" fill="#fff6b6"/>
<rect x="951.8" y="306.5" width="13.95" height="30.8" fill="#fff0b1"/>
<rect x="979.86" y="306.5" width="14.15" height="30.8" fill="#fff8b8"/>
<rect x="996.25" y="306.5" width="13.95" height="30.8" fill="#fff9ba"/>
<rect x="1024.31" y="306.5" width="14.15" height="30.8" fill="#ffffbf"/>
<rect x="1040.71" y="306.5" width="13.95" height="30.8" fill="#ffffbf"/>
<rect x="1068.76" y="306.5" width="14.15" height="30.8" fill="#f5f8c2"/>
<rect x="1085.16" y="306.5" width="13.95" height="30.8" fill="#f5f8c2"/>
<rect x="1113.22" y="306.5" width="14.15" height="30.8" fill="#f5f8c2"/>
<rect x="1129.62" y="306.5" width="13.95" height="30.8" fill="#f5f8c2"/>
<rect x="1157.67" y="306.5" width="14.15" height="30.8" fill="#f5f8c2"/>
<rect x="1174.07" y="306.5" width="13.95" height="30.8" fill="#fafbc1"/>
<rect x="1202.13" y="306.5" width="14.15" height="30.8" fill="#f5f8c2"/>
<rect x="1218.53" y="306.5" width="13.95" height="30.8" fill="#ffffbf"/>
<rect x="1246.59" y="306.5" width="14.15" height="30.8" fill="#f5f8c2"/>
<rect x="1262.99" y="306.5" width="13.95" height="30.8" fill="#ffffbf"/>
<rect x="1291.04" y="306.5" width="14.15" height="30.8" fill="#f5f8c2"/>
<rect x="1307.44" y="306.5" width="13.95" height="30.8" fill="#ffffbf"/>
<rect x="1335.49" y="306.5" width="14.15" height="30.8" fill="#fafbc1"/>
<rect x="1351.89" y="306.5" width="13.95" height="30.8" fill="#fafbc1"/>
<rect x="1379.95" y="306.5" width="14.15" height="30.8" fill="#ffffbf"/>
<rect x="1396.35" y="306.5" width="13.95" height="30.8" fill="#ffffbf"/>
<rect x="1424.4" y="306.5" width="14.15" height="30.8" fill="#ffffbf"/>
<rect x="1440.8" y="306.5" width="13.95" height="30.8" fill="#ffffbf"/>
<rect x="1468.86" y="306.5" width="14.15" height="30.8" fill="#ffffbf"/>
<rect x="1485.26" y="306.5" width="13.95" height="30.8" fill="#ffffbf"/>
<rect x="1513.31" y="306.5" width="14.15" height="30.8" fill="#ffffbf"/>
<rect x="1529.71" y="306.5" width="13.95" height="30.8" fill="#ffffbf"/>
<rect x="1557.77" y="306.5" width="14.15" height="30.8" fill="#ffffbf"/>
<rect x="1574.17" y="306.5" width="13.95" height="30.8" fill="#ffffbf"/>
<rect x="1602.22" y="306.5" width="14.15" height="30.8" fill="#ffffbf"/>
<rect x="1618.62" y="306.5" width="13.95" height="30.8" fill="#ffffbf"/>
<rect x="1646.68" y="306.5" width="14.15" height="30.8" fill="#ffffbf"/>
<rect x="1663.08" y="306.5" width="13.95" height="30.8" fill="#ffffbf"/>
<rect x="1691.13" y="306.5" width="14.15" height="30.8" fill="#ffffbf"/>
<rect x="1707.53" y="306.5" width="13.95" height="30.8" fill="#fff8b8"/>
<rect x="1735.59" y="306.5" width="14.15" height="30.8" fill="#ffffbf"/>
<rect x="1751.99" y="306.5" width="13.95" height="30.8" fill="#fff8b8"/>
<rect x="1780.04" y="306.5" width="14.15" height="30.8" fill="#ffffbf"/>
<rect x="1796.44" y="306.5" width="13.95" height="30.8" fill="#fff9ba"/>
<rect x="1824.5" y="306.5" width="14.15" height="30.8" fill="#fafbc1"/>
<rect x="1840.9" y="306.5" width="13.95" height="30.8" fill="#ffffbf"/>
<rect x="1868.95" y="306.5" width="14.15" height="30.8" fill="#f5f8c2"/>
<rect x="1885.36" y="306.5" width="13.95" height="30.8" fill="#f5f8c2"/>
<rect x="1913.41" y="306.5" width="14.15" height="30.8" fill="#f5f8c2"/>
<rect x="1929.81" y="306.5" width="13.95" height="30.8" fill="#f5f8c2"/>
<rect x="1957.86" y="306.5" width="14.15" height="30.8" fill="#fafbc1"/>
<rect x="1974.26" y="306.5" width="13.95" height="30.8" fill="#fafbc1"/>
<rect x="490.85" y="339.38" width="14.15" height="30.8" fill="#ecf3c5"/>
<rect x="507.25" y="339.38" width="13.95" height="30.8" fill="#ecf3c5"/>
<rect x="535.31" y="339.38" width="14.15" height="30.8" fill="#e8f0c6"/>
<rect x="551.71" y="339.38" width="13.95" height="30.8" fill="#e2ecc8"/>
<rect x="579.76" y="339.38" width="14.15" height="30.8" fill="#ecf3c5"/>
<rect x="596.16" y="339.38" width="13.95" height="30.8" fill="#e2ecc8"/>
<rect x="624.22" y="339.38" width="14.15" height="30.8" fill="#f1f5c4"/>
<rect x="640.62" y="339.38" width="13.95" height="30.8" fill="#ecf3c5"/>
<rect x="668.67" y="339.38" width="14.15" height="30.8" fill="#f5f8c2"/>
<rect x="685.07" y="339.38" width="13.95" height="30.8" fill="#f1f5c4"/>
<rect x="713.12" y="339.38" width="14.15" height="30.8" fill="#ffffbf"/>
<rect x="729.52" y="339.38" width="13.95" height="30.8" fill="#ffffbf"/>
<rect x="757.58" y="339.38" width="14.15" height="30.8" fill="#fff9ba"/>
<rect x="773.98" y="339.38" width="13.95" height="30.8" fill="#fff9ba"/>
<rect x="802.03" y="339.38" width="14.15" height="30.8" fill="#fff8b8"/>
<rect x="818.43" y="339.38" width="13.95" height="30.8" fill="#fff8b8"/>
<rect x="846.49" y="339.38" width="14.15" height="30.8" fill="#fff8b8"/>
<rect x="862.89" y="339.38" width="13.95" height="30.8" fill="#fff8b8"/>
<rect x="890.95" y="339.38" width="14.15" height="30.8" fill="#fff8b8"/>
<rect x="907.35" y="339.38" width="13.95" height="30.8" fill="#fff6b6"/>
<rect x="935.4" y="339.38" width="14.15" height="30.8" fill="#fff0b1"/>
<rect x="951.8" y="339.38" width="13.95" height="30.8" fill="#fff0b1"/>
<rect x="979.86" y="339.38" width="14.15" height="30.8" fill="#ffebac"/>
<rect x="996.25" y="339.38" width="13.95" height="30.8" fill="#ffe5a7"/>
<rect x="1024.31" y="339.38" width="14.15" height="30.8" fill="#ffe5a7"/>
<rect x="1040.71" y="339.38" width="13.95" height="30.8" fill="#ffe0a1"/>
<rect x="1068.76" y="339.38" width="14.15" height="30.8" fill="#ffda9c"/>
<rect x="1085.16" y="339.38" width="13.95" height="30.8" fill="#ffda9c"/>
<rect x="1113.22" y="339.38" width="14.15" height="30.8" fill="#ffda9c"/>
<rect x="1129.62" y="339.38" width="13.95" height="30.8" fill="#ffd497"/>
<rect x="1157.67" y="339.38" width="14.15" height="30.8" fill="#ffd497"/>
<rect x="1174.07" y="339.38" width="13.95" height="30.8" fill="#ffcf92"/>
<rect x="1202.13" y="339.38" width="14.15" height="30.8" fill="#ffd497"/>
<rect x="1218.53" y="339.38" width="13.95" height="30.8" fill="#ffcf92"/>
<rect x="1246.59" y="339.38" width="14.15" height="30.8" fill="#ffda9c"/>
<rect x="1262.99" y="339.38" width="13.95" height="30.8" fill="#ffc78b"/>
<rect x="1291.04" y="339.38" width="14.15" height="30.8" fill="#ffe0a1"/>
<rect x="1307.44" y="339.38" width="13.95" height="30.8" fill="#ffda9c"/>
<rect x="1335.49" y="339.38" width="14.15" height="30.8" fill="#ffe5a7"/>
<rect x="1351.89" y="339.38" width="13.95" height="30.8" fill="#ffda9c"/>
<rect x="1379.95" y="339.38" width="14.15" height="30.8" fill="#fff0b1"/>
<rect x="1396.35" y="339.38" width="13.95" height="30.8" fill="#ffe5a7"/>
<rect x="1424.4" y="339.38" width="14.15" height="30.8" fill="#fff6b6"/>
<rect x="1440.8" y="339.38" width="13.95" height="30.8" fill="#ffe5a7"/>
<rect x="1468.86" y="339.38" width="14.15" height="30.8" fill="#fff8b8"/>
<rect x="1485.26" y="339.38" width="13.95" height="30.8" fill="#ffebac"/>
<rect x="1513.31" y="339.38" width="14.15" height="30.8" fill="#fff9ba"/>
<rect x="1529.71" y="339.38" width="13.95" height="30.8" fill="#fff0b1"/>
<rect x="1557.77" y="339.38" width="14.15" height="30.8" fill="#ffffbf"/>
<rect x="1574.17" y="339.38" width="13.95" height="30.8" fill="#fff8b8"/>
<rect x="1602.22" y="339.38" width="14.15" height="30.8" fill="#ffffbf"/>
<rect x="1618.62" y="339.38" width="13.95" height="30.8" fill="#ffffbf"/>
<rect x="1646.68" y="339.38" width="14.15" height="30.8" fill="#fafbc1"/>
<rect x="1663.08" y="339.38" width="13.95" height="30.8" fill="#fafbc1"/>
<rect x="1691.13" y="339.38" width="14.15" height="30.8" fill="#f5f8c2"/>
<rect x="1707.53" y="339.38" width="13.95" height="30.8" fill="#fafbc1"/>
<rect x="1735.59" y="339.38" width="14.15" height="30.8" fill="#f1f5c4"/>
<rect x="1751.99" y="339.38" width="13.95" height="30.8" fill="#fafbc1"/>
<rect x="1780.04" y="339.38" width="14.15" height="30.8" fill="#f1f5c4"/>
<rect x="1796.44" y="339.38" width="13.95" height="30.8" fill="#f5f8c2"/>
<rect x="1824.5" y="339.38" width="14.15" height="30.8" fill="#ecf3c5"/>
<rect x="1840.9" y="339.38" width="13.95" height="30.8" fill="#f1f5c4"/>
<rect x="1868.95" y="339.38" width="14.15" height="30.8" fill="#ecf3c5"/>
<rect x="1885.36" y="339.38" width="13.95" height="30.8" fill="#ecf3c5"/>
<rect x="1913.41" y="339.38" width="14.15" height="30.8" fill="#f1f5c4"/>
<rect x="1929.81" y="339.38" width="13.95" height="30.8" fill="#ecf3c5"/>
<rect x="1957.86" y="339.38" width="14.15" height="30.8" fill="#f5f8c2"/>
<rect x="1974.26" y="339.38" width="13.95" height="30.8" fill="#f5f8c2"/>
<rect x="490.85" y="372.26" width="14.15" height="30.8" fill="#fff0b1"/>
<rect x="507.25" y="372.26" width="13.95" height="30.8" fill="#fff8b8"/>
<rect x="535.31" y="372.26" width="14.15" height="30.8" fill="#fff0b1"/>
<rect x="551.71" y="372.26" width="13.95" height="30.8" fill="#fff8b8"/>
<rect x="579.76" y="372.26" width="14.15" height="30.8" fill="#fff0b1"/>
<rect x="596.16" y="372.26" width="13.95" height="30.8" fill="#fff8b8"/>
<rect x="624.22" y="372.26" width="14.15" height="30.8" fill="#fff6b6"/>
<rect x="640.62" y="372.26" width="13.95" height="30.8" fill="#fff0b1"/>
<rect x="668.67" y="372.26" width="14.15" height="30.8" fill="#fff8b8"/>
<rect x="685.07" y="372.26" width="13.95" height="30.8" fill="#fff8b8"/>
<rect x="713.12" y="372.26" width="14.15" height="30.8" fill="#fff9ba"/>
<rect x="729.52" y="372.26" width="13.95" height="30.8" fill="#fff9ba"/>
<rect x="757.58" y="372.26" width="14.15" height="30.8" fill="#fafbc1"/>
<rect x="773.98" y="372.26" width="13.95" height="30.8" fill="#ffffbf"/>
<rect x="802.03" y="372.26" width="14.15" height="30.8" fill="#f5f8c2"/>
<rect x="818.43" y="372.26" width="13.95" height="30.8" fill="#fafbc1"/>
<rect x="846.49" y="372.26" width="14.15" height="30.8" fill="#f5f8c2"/>
<rect x="862.89" y="372.26" width="13.95" height="30.8" fill="#f5f8c2"/>
<rect x="890.95" y="372.26" width="14.15" height="30.8" fill="#f1f5c4"/>
<rect x="907.35" y="372.26" width="13.95" height="30.8" fill="#f5f8c2"/>
<rect x="935.4" y="372.26" width="14.15" height="30.8" fill="#f1f5c4"/>
<rect x="951.8" y="372.26" width="13.95" height="30.8" fill="#f5f8c2"/>
<rect x="979.86" y="372.26" width="14.15" height="30.8" fill="#ecf3c5"/>
<rect x="996.25" y="372.26" width="13.95" height="30.8" fill="#f5f8c2"/>
<rect x="1024.31" y="372.26" width="14.15" height="30.8" fill="#ecf3c5"/>
<rect x="1040.71" y="372.26" width="13.95" height="30.8" fill="#f1f5c4"/>
<rect x="1068.76" y="372.26" width="14.15" height="30.8" fill="#ecf3c5"/>
<rect x="1085.16" y="372.26" width="13.95" height="30.8" fill="#f1f5c4"/>
<rect x="1113.22" y="372.26" width="14.15" height="30.8" fill="#e8f0c6"/>
<rect x="1129.62" y="372.26" width="13.95" height="30.8" fill="#f1f5c4"/>
<rect x="1157.67" y="372.26" width="14.15" height="30.8" fill="#e8f0c6"/>
<rect x="1174.07" y="372.26" width="13.95" height="30.8" fill="#f1f5c4"/>
<rect x="1202.13" y="372.26" width="14.15" height="30.8" fill="#e8f0c6"/>
<rect x="1218.53" y="372.26" width="13.95" height="30.8" fill="#ecf3c5"/>
<rect x="1246.59" y="372.26" width="14.15" height="30.8" fill="#ecf3c5"/>
<rect x="1262.99" y="372.26" width="13.95" height="30.8" fill="#ecf3c5"/>
<rect x="1291.04" y="372.26" width="14.15" height="30.8" fill="#ecf3c5"/>
<rect x="1307.44" y="372.26" width="13.95" height="30.8" fill="#f1f5c4"/>
<rect x="1335.49" y="372.26" width="14.15" height="30.8" fill="#ecf3c5"/>
<rect x="1351.89" y="372.26" width="13.95" height="30.8" fill="#f1f5c4"/>
<rect x="1379.95" y="372.26" width="14.15" height="30.8" fill="#f1f5c4"/>
<rect x="1396.35" y="372.26" width="13.95" height="30.8" fill="#f1f5c4"/>
<rect x="1424.4" y="372.26" width="14.15" height="30.8" fill="#f5f8c2"/>
<rect x="1440.8" y="372.26" width="13.95" height="30.8" fill="#f5f8c2"/>
<rect x="1468.86" y="372.26" width="14.15" height="30.8" fill="#f5f8c2"/>
<rect x="1485.26" y="372.26" width="13.95" height="30.8" fill="#f5f8c2"/>
<rect x="1513.31" y="372.26" width="14.15" height="30.8" fill="#ffffbf"/>
<rect x="1529.71" y="372.26" width="13.95" height="30.8" fill="#ffffbf"/>
<rect x="1557.77" y="372.26" width="14.15" height="30.8" fill="#ffffbf"/>
<rect x="1574.17" y="372.26" width="13.95" height="30.8" fill="#ffffbf"/>
<rect x="1602.22" y="372.26" width="14.15" height="30.8" fill="#fafbc1"/>
<rect x="1618.62" y="372.26" width="13.95" height="30.8" fill="#ffffbf"/>
<rect x="1646.68" y="372.26" width="14.15" height="30.8" fill="#fafbc1"/>
<rect x="1663.08" y="372.26" width="13.95" height="30.8" fill="#ffffbf"/>
<rect x="1691.13" y="372.26" width="14.15" height="30.8" fill="#ffffbf"/>
<rect x="1707.53" y="372.26" width="13.95" height="30.8" fill="#ffffbf"/>
<rect x="1735.59" y="372.26" width="14.15" height="30.8" fill="#ffffbf"/>
<rect x="1751.99" y="372.26" width="13.95" height="30.8" fill="#ffffbf"/>
<rect x="1780.04" y="372.26" width="14.15" height="30.8" fill="#ffffbf"/>
<rect x="1796.44" y="372.26" width="13.95" height="30.8" fill="#ffffbf"/>
<rect x="1824.5" y="372.26" width="14.15" height="30.8" fill="#ffffbf"/>
<rect x="1840.9" y="372.26" width="13.95" height="30.8" fill="#ffffbf"/>
<rect x="1868.95" y="372.26" width="14.15" height="30.8" fill="#ffffbf"/>
<rect x="1885.36" y="372.26" width="13.95" height="30.8" fill="#ffffbf"/>
<rect x="1913.41" y="372.26" width="14.15" height="30.8" fill="#ffffbf"/>
<rect x="1929.81" y="372.26" width="13.95" height="30.8" fill="#ffffbf"/>
<rect x="1957.86" y="372.26" width="14.15" height="30.8" fill="#ffffbf"/>
<rect x="1974.26" y="372.26" width="13.95" height="30.8" fill="#ffffbf"/>
<rect x="490.85" y="405.14" width="14.15" height="30.8" fill="#fff9ba"/>
<rect x="507.25" y="405.14" width="13.95" height="30.8" fill="#ffffbf"/>
<rect x="535.31" y="405.14" width="14.15" height="30.8" fill="#ffffbf"/>
<rect x="551.71" y="405.14" width="13.95" height="30.8" fill="#fff9ba"/>
<rect x="579.76" y="405.14" width="14.15" height="30.8" fill="#fff9ba"/>
<rect x="596.16" y="405.14" width="13.95" height="30.8" fill="#ffffbf"/>
<rect x="624.22" y="405.14" width="14.15" height="30.8" fill="#fff0b1"/>
<rect x="640.62" y="405.14" width="13.95" height="30.8" fill="#ffffbf"/>
<rect x="668.67" y="405.14" width="14.15" height="30.8" fill="#fff6b6"/>
<rect x="685.07" y="405.14" width="13.95" height="30.8" fill="#fff0b1"/>
<rect x="713.12" y="405.14" width="14.15" height="30.8" fill="#fff0b1"/>
<rect x="729.52" y="405.14" width="13.95" height="30.8" fill="#fff0b1"/>
<rect x="757.58" y="405.14" width="14.15" height="30.8" fill="#fff6b6"/>
<rect x="773.98" y="405.14" width="13.95" height="30.8" fill="#fff0b1"/>
<rect x="802.03" y="405.14" width="14.15" height="30.8" fill="#fff8b8"/>
<rect x="818.43" y="405.14" width="13.95" height="30.8" fill="#fff6b6"/>
<rect x="846.49" y="405.14" width="14.15" height="30.8" fill="#ffffbf"/>
<rect x="862.89" y="405.14" width="13.95" height="30.8" fill="#ffffbf"/>
<rect x="890.95" y="405.14" width="14.15" height="30.8" fill="#fafbc1"/>
<rect x="907.35" y="405.14" width="13.95" height="30.8" fill="#f5f8c2"/>
<rect x="935.4" y="405.14" width="14.15" height="30.8" fill="#f5f8c2"/>
<rect x="951.8" y="405.14" width="13.95" height="30.8" fill="#f5f8c2"/>
<rect x="979.86" y="405.14" width="14.15" height="30.8" fill="#f5f8c2"/>
<rect x="996.25" y="405.14" width="13.95" height="30.8" fill="#f1f5c4"/>
<rect x="1024.31" y="405.14" width="14.15" height="30.8" fill="#f5f8c2"/>
<rect x="1040.71" y="405.14" width="13.95" height="30.8" fill="#ecf3c5"/>
<rect x="1068.76" y="405.14" width="14.15" height="30.8" fill="#f5f8c2"/>
<rect x="1085.16" y="405.14" width="13.95" height="30.8" fill="#f1f5c4"/>
<rect x="1113.22" y="405.14" width="14.15" height="30.8" fill="#f5f8c2"/>
<rect x="1129.62" y="405.14" width="13.95" height="30.8" fill="#f1f5c4"/>
<rect x="1157.67" y="405.14" width="14.15" height="30.8" fill="#f5f8c2"/>
<rect x="1174.07" y="405.14" width="13.95" height="30.8" fill="#ecf3c5"/>
<rect x="1202.13" y="405.14" width="14.15" height="30.8" fill="#ecf3c5"/>
<rect x="1218.53" y="405.14" width="13.95" height="30.8" fill="#ecf3c5"/>
<rect x="1246.59" y="405.14" width="14.15" height="30.8" fill="#ecf3c5"/>
<rect x="1262.99" y="405.14" width="13.95" height="30.8" fill="#e2ecc8"/>
<rect x="1291.04" y="405.14" width="14.15" height="30.8" fill="#ecf3c5"/>
<rect x="1307.44" y="405.14" width="13.95" height="30.8" fill="#ecf3c5"/>
<rect x="1335.49" y="405.14" width="14.15" height="30.8" fill="#ecf3c5"/>
<rect x="1351.89" y="405.14" width="13.95" height="30.8" fill="#e8f0c6"/>
<rect x="1379.95" y="405.14" width="14.15" height="30.8" fill="#f1f5c4"/>
<rect x="1396.35" y="405.14" width="13.95" height="30.8" fill="#e2ecc8"/>
<rect x="1424.4" y="405.14" width="14.15" height="30.8" fill="#ecf3c5"/>
<rect x="1440.8" y="405.14" width="13.95" height="30.8" fill="#ecf3c5"/>
<rect x="1468.86" y="405.14" width="14.15" height="30.8" fill="#f1f5c4"/>
<rect x="1485.26" y="405.14" width="13.95" height="30.8" fill="#e8f0c6"/>
<rect x="1513.31" y="405.14" width="14.15" height="30.8" fill="#f5f8c2"/>
<rect x="1529.71" y="405.14" width="13.95" height="30.8" fill="#f1f5c4"/>
<rect x="1557.77" y="405.14" width="14.15" height="30.8" fill="#f5f8c2"/>
<rect x="1574.17" y="405.14" width="13.95" height="30.8" fill="#f1f5c4"/>
<rect x="1602.22" y="405.14" width="14.15" height="30.8" fill="#fafbc1"/>
<rect x="1618.62" y="405.14" width="13.95" height="30.8" fill="#f1f5c4"/>
<rect x="1646.68" y="405.14" width="14.15" height="30.8" fill="#f5f8c2"/>
<rect x="1663.08" y="405.14" width="13.95" height="30.8" fill="#f5f8c2"/>
<rect x="1691.13" y="405.14" width="14.15" height="30.8" fill="#f1f5c4"/>
<rect x="1707.53" y="405.14" width="13.95" height="30.8" fill="#f1f5c4"/>
<rect x="1735.59" y="405.14" width="14.15" height="30.8" fill="#ecf3c5"/>
<rect x="1751.99" y="405.14" width="13.95" height="30.8" fill="#e8f0c6"/>
<rect x="1780.04" y="405.14" width="14.15" height="30.8" fill="#e8f0c6"/>
<rect x="1796.44" y="405.14" width="13.95" height="30.8" fill="#dce8ca"/>
<rect x="1824.5" y="405.14" width="14.15" height="30.8" fill="#ecf3c5"/>
<rect x="1840.9" y="405.14" width="13.95" height="30.8" fill="#e2ecc8"/>
<rect x="1868.95" y="405.14" width="14.15" height="30.8" fill="#ecf3c5"/>
<rect x="1885.36" y="405.14" width="13.95" height="30.8" fill="#e2ecc8"/>
<rect x="1913.41" y="405.14" width="14.15" height="30.8" fill="#ecf3c5"/>
<rect x="1929.81" y="405.14" width="13.95" height="30.8" fill="#ecf3c5"/>
<rect x="1957.86" y="405.14" width="14.15" height="30.8" fill="#ecf3c5"/>
<rect x="1974.26" y="405.14" width="13.95" height="30.8" fill="#ecf3c5"/>
<rect x="490.85" y="438.02" width="14.15" height="30.8" fill="#d7e5cb"/>
<rect x="507.25" y="438.02" width="13.95" height="30.8" fill="#d7e5cb"/>
<rect x="535.31" y="438.02" width="14.15" height="30.8" fill="#dce8ca"/>
<rect x="551.71" y="438.02" width="13.95" height="30.8" fill="#d7e5cb"/>
<rect x="579.76" y="438.02" width="14.15" height="30.8" fill="#e2ecc8"/>
<rect x="596.16" y="438.02" width="13.95" height="30.8" fill="#dce8ca"/>
<rect x="624.22" y="438.02" width="14.15" height="30.8" fill="#e2ecc8"/>
<rect x="640.62" y="438.02" width="13.95" height="30.8" fill="#e2ecc8"/>
<rect x="668.67" y="438.02" width="14.15" height="30.8" fill="#e2ecc8"/>
<rect x="685.07" y="438.02" width="13.95" height="30.8" fill="#e2ecc8"/>
<rect x="713.12" y="438.02" width="14.15" height="30.8" fill="#ecf3c5"/>
<rect x="729.52" y="438.02" width="13.95" height="30.8" fill="#e8f0c6"/>
<rect x="757.58" y="438.02" width="14.15" height="30.8" fill="#f5f8c2"/>
<rect x="773.98" y="438.02" width="13.95" height="30.8" fill="#ecf3c5"/>
<rect x="802.03" y="438.02" width="14.15" height="30.8" fill="#ffffbf"/>
<rect x="818.43" y="438.02" width="13.95" height="30.8" fill="#f5f8c2"/>
<rect x="846.49" y="438.02" width="14.15" height="30.8" fill="#fff6b6"/>
<rect x="862.89" y="438.02" width="13.95" height="30.8" fill="#fff8b8"/>
<rect x="890.95" y="438.02" width="14.15" height="30.8" fill="#fff0b1"/>
<rect x="907.35" y="438.02" width="13.95" height="30.8" fill="#fff6b6"/>
<rect x="935.4" y="438.02" width="14.15" height="30.8" fill="#ffebac"/>
<rect x="951.8" y="438.02" width="13.95" height="30.8" fill="#fff0b1"/>
<rect x="979.86" y="438.02" width="14.15" height="30.8" fill="#ffe5a7"/>
<rect x="996.25" y="438.02" width="13.95" height="30.8" fill="#fff0b1"/>
<rect x="1024.31" y="438.02" width="14.15" height="30.8" fill="#ffebac"/>
<rect x="1040.71" y="438.02" width="13.95" height="30.8" fill="#fff0b1"/>
<rect x="1068.76" y="438.02" width="14.15" height="30.8" fill="#fff0b1"/>
<rect x="1085.16" y="438.02" width="13.95" height="30.8" fill="#ffebac"/>
<rect x="1113.22" y="438.02" width="14.15" height="30.8" fill="#ffebac"/>
<rect x="1129.62" y="438.02" width="13.95" height="30.8" fill="#fff0b1"/>
<rect x="1157.67" y="438.02" width="14.15" height="30.8" fill="#fff0b1"/>
<rect x="1174.07" y="438.02" width="13.95" height="30.8" fill="#fff0b1"/>
<rect x="1202.13" y="438.02" width="14.15" height="30.8" fill="#fff6b6"/>
<rect x="1218.53" y="438.02" width="13.95" height="30.8" fill="#fff6b6"/>
<rect x="1246.59" y="438.02" width="14.15" height="30.8" fill="#fff9ba"/>
<rect x="1262.99" y="438.02" width="13.95" height="30.8" fill="#fff8b8"/>
<rect x="1291.04" y="438.02" width="14.15" height="30.8" fill="#ffffbf"/>
<rect x="1307.44" y="438.02" width="13.95" height="30.8" fill="#fff8b8"/>
<rect x="1335.49" y="438.02" width="14.15" height="30.8" fill="#ffffbf"/>
<rect x="1351.89" y="438.02" width="13.95" height="30.8" fill="#fff9ba"/>
<rect x="1379.95" y="438.02" width="14.15" height="30.8" fill="#f5f8c2"/>
<rect x="1396.35" y="438.02" width="13.95" height="30.8" fill="#ffffbf"/>
<rect x="1424.4" y="438.02" width="14.15" height="30.8" fill="#f5f8c2"/>
<rect x="1440.8" y="438.02" width="13.95" height="30.8" fill="#ffffbf"/>
<rect x="1468.86" y="438.02" width="14.15" height="30.8" fill="#f1f5c4"/>
<rect x="1485.26" y="438.02" width="13.95" height="30.8" fill="#ffffbf"/>
<rect x="1513.31" y="438.02" width="14.15" height="30.8" fill="#f1f5c4"/>
<rect x="1529.71" y="438.02" width="13.95" height="30.8" fill="#f5f8c2"/>
<rect x="1557.77" y="438.02" width="14.15" height="30.8" fill="#e8f0c6"/>
<rect x="1574.17" y="438.02" width="13.95" height="30.8" fill="#f5f8c2"/>
<rect x="1602.22" y="438.02" width="14.15" height="30.8" fill="#e8f0c6"/>
<rect x="1618.62" y="438.02" width="13.95" height="30.8" fill="#ecf3c5"/>
<rect x="1646.68" y="438.02" width="14.15" height="30.8" fill="#dce8ca"/>
<rect x="1663.08" y="438.02" width="13.95" height="30.8" fill="#e8f0c6"/>
<rect x="1691.13" y="438.02" width="14.15" height="30.8" fill="#d1e1cd"/>
<rect x="1707.53" y="438.02" width="13.95" height="30.8" fill="#e2ecc8"/>
<rect x="1735.59" y="438.02" width="14.15" height="30.8" fill="#c9ddcf"/>
<rect x="1751.99" y="438.02" width="13.95" height="30.8" fill="#dce8ca"/>
<rect x="1780.04" y="438.02" width="14.15" height="30.8" fill="#c2d8d1"/>
<rect x="1796.44" y="438.02" width="13.95" height="30.8" fill="#d7e5cb"/>
<rect x="1824.5" y="438.02" width="14.15" height="30.8" fill="#c2d8d1"/>
<rect x="1840.9" y="438.02" width="13.95" height="30.8" fill="#c9ddcf"/>
<rect x="1868.95" y="438.02" width="14.15" height="30.8" fill="#c2d8d1"/>
<rect x="1885.36" y="438.02" width="13.95" height="30.8" fill="#c2d8d1"/>
<rect x="1913.41" y="438.02" width="14.15" height="30.8" fill="#c9ddcf"/>
<rect x="1929.81" y="438.02" width="13.95" height="30.8" fill="#c2d8d1"/>
<rect x="1957.86" y="438.02" width="14.15" height="30.8" fill="#c9ddcf"/>
<rect x="1974.26" y="438.02" width="13.95" height="30.8" fill="#c2d8d1"/>
<rect x="490.85" y="470.9" width="14.15" height="30.8" fill="#ecf3c5"/>
<rect x="507.25" y="470.9" width="13.95" height="30.8" fill="#ecf3c5"/>
<rect x="535.31" y="470.9" width="14.15" height="30.8" fill="#ecf3c5"/>
<rect x="551.71" y="470.9" width="13.95" height="30.8" fill="#f1f5c4"/>
<rect x="579.76" y="470.9" width="14.15" height="30.8" fill="#ecf3c5"/>
<rect x="596.16" y="470.9" width="13.95" height="30.8" fill="#ecf3c5"/>
<rect x="624.22" y="470.9" width="14.15" height="30.8" fill="#f1f5c4"/>
<rect x="640.62" y="470.9" width="13.95" height="30.8" fill="#f1f5c4"/>
<rect x="668.67" y="470.9" width="14.15" height="30.8" fill="#ecf3c5"/>
<rect x="685.07" y="470.9" width="13.95" height="30.8" fill="#f1f5c4"/>
<rect x="713.12" y="470.9" width="14.15" height="30.8" fill="#ecf3c5"/>
<rect x="729.52" y="470.9" width="13.95" height="30.8" fill="#ecf3c5"/>
<rect x="757.58" y="470.9" width="14.15" height="30.8" fill="#ecf3c5"/>
<rect x="773.98" y="470.9" width="13.95" height="30.8" fill="#f1f5c4"/>
<rect x="802.03" y="470.9" width="14.15" height="30.8" fill="#e8f0c6"/>
<rect x="818.43" y="470.9" width="13.95" height="30.8" fill="#e8f0c6"/>
<rect x="846.49" y="470.9" width="14.15" height="30.8" fill="#e2ecc8"/>
<rect x="862.89" y="470.9" width="13.95" height="30.8" fill="#e2ecc8"/>
<rect x="890.95" y="470.9" width="14.15" height="30.8" fill="#d7e5cb"/>
<rect x="907.35" y="470.9" width="13.95" height="30.8" fill="#d7e5cb"/>
<rect x="935.4" y="470.9" width="14.15" height="30.8" fill="#d1e1cd"/>
<rect x="951.8" y="470.9" width="13.95" height="30.8" fill="#d7e5cb"/>
<rect x="979.86" y="470.9" width="14.15" height="30.8" fill="#d1e1cd"/>
<rect x="996.25" y="470.9" width="13.95" height="30.8" fill="#d7e5cb"/>
<rect x="1024.31" y="470.9" width="14.15" height="30.8" fill="#d1e1cd"/>
<rect x="1040.71" y="470.9" width="13.95" height="30.8" fill="#d7e5cb"/>
<rect x="1068.76" y="470.9" width="14.15" height="30.8" fill="#d1e1cd"/>
<rect x="1085.16" y="470.9" width="13.95" height="30.8" fill="#d7e5cb"/>
<rect x="1113.22" y="470.9" width="14.15" height="30.8" fill="#d1e1cd"/>
<rect x="1129.62" y="470.9" width="13.95" height="30.8" fill="#dce8ca"/>
<rect x="1157.67" y="470.9" width="14.15" height="30.8" fill="#d7e5cb"/>
<rect x="1174.07" y="470.9" width="13.95" height="30.8" fill="#e2ecc8"/>
<rect x="1202.13" y="470.9" width="14.15" height="30.8" fill="#d7e5cb"/>
<rect x="1218.53" y="470.9" width="13.95" height="30.8" fill="#e2ecc8"/>
<rect x="1246.59" y="470.9" width="14.15" height="30.8" fill="#d7e5cb"/>
<rect x="1262.99" y="470.9" width="13.95" height="30.8" fill="#e2ecc8"/>
<rect x="1291.04" y="470.9" width="14.15" height="30.8" fill="#d7e5cb"/>
<rect x="1307.44" y="470.9" width="13.95" height="30.8" fill="#dce8ca"/>
<rect x="1335.49" y="470.9" width="14.15" height="30.8" fill="#dce8ca"/>
<rect x="1351.89" y="470.9" width="13.95" height="30.8" fill="#dce8ca"/>
<rect x="1379.95" y="470.9" width="14.15" height="30.8" fill="#e2ecc8"/>
<rect x="1396.35" y="470.9" width="13.95" height="30.8" fill="#e2ecc8"/>
<rect x="1424.4" y="470.9" width="14.15" height="30.8" fill="#e8f0c6"/>
<rect x="1440.8" y="470.9" width="13.95" height="30.8" fill="#ecf3c5"/>
<rect x="1468.86" y="470.9" width="14.15" height="30.8" fill="#f5f8c2"/>
<rect x="1485.26" y="470.9" width="13.95" height="30.8" fill="#f5f8c2"/>
<rect x="1513.31" y="470.9" width="14.15" height="30.8" fill="#ffffbf"/>
<rect x="1529.71" y="470.9" width="13.95" height="30.8" fill="#ffffbf"/>
<rect x="1557.77" y="470.9" width="14.15" height="30.8" fill="#ffffbf"/>
<rect x="1574.17" y="470.9" width="13.95" height="30.8" fill="#fff8b8"/>
<rect x="1602.22" y="470.9" width="14.15" height="30.8" fill="#fff8b8"/>
<rect x="1618.62" y="470.9" width="13.95" height="30.8" fill="#fff8b8"/>
<rect x="1646.68" y="470.9" width="14.15" height="30.8" fill="#fff8b8"/>
<rect x="1663.08" y="470.9" width="13.95" height="30.8" fill="#fff6b6"/>
<rect x="1691.13" y="470.9" width="14.15" height="30.8" fill="#fff9ba"/>
<rect x="1707.53" y="470.9" width="13.95" height="30.8" fill="#fff0b1"/>
<rect x="1735.59" y="470.9" width="14.15" height="30.8" fill="#fff6b6"/>
<rect x="1751.99" y="470.9" width="13.95" height="30.8" fill="#fff0b1"/>
<rect x="1780.04" y="470.9" width="14.15" height="30.8" fill="#fff6b6"/>
<rect x="1796.44" y="470.9" width="13.95" height="30.8" fill="#fff0b1"/>
<rect x="1824.5" y="470.9" width="14.15" height="30.8" fill="#fff0b1"/>
<rect x="1840.9" y="470.9" width="13.95" height="30.8" fill="#ffebac"/>
<rect x="1868.95" y="470.9" width="14.15" height="30.8" fill="#ffebac"/>
<rect x="1885.36" y="470.9" width="13.95" height="30.8" fill="#ffe5a7"/>
<rect x="1913.41" y="470.9" width="14.15" height="30.8" fill="#ffe5a7"/>
<rect x="1929.81" y="470.9" width="13.95" height="30.8" fill="#ffe0a1"/>
<rect x="1957.86" y="470.9" width="14.15" height="30.8" fill="#ffe5a7"/>
<rect x="1974.26" y="470.9" width="13.95" height="30.8" fill="#ffe5a7"/>
<rect x="490.85" y="503.78" width="14.15" height="30.8" fill="#e2ecc8"/>
<rect x="507.25" y="503.78" width="13.95" height="30.8" fill="#e2ecc8"/>
<rect x="535.31" y="503.78" width="14.15" height="30.8" fill="#e2ecc8"/>
<rect x="551.71" y="503.78" width="13.95" height="30.8" fill="#e2ecc8"/>
<rect x="579.76" y="503.78" width="14.15" height="30.8" fill="#e2ecc8"/>
<rect x="596.16" y="503.78" width="13.95" height="30.8" fill="#e2ecc8"/>
<rect x="624.22" y="503.78" width="14.15" height="30.8" fill="#e8f0c6"/>
<rect x="640.62" y="503.78" width="13.95" height="30.8" fill="#e2ecc8"/>
<rect x="668.67" y="503.78" width="14.15" height="30.8" fill="#ecf3c5"/>
<rect x="685.07" y="503.78" width="13.95" height="30.8" fill="#ecf3c5"/>
<rect x="713.12" y="503.78" width="14.15" height="30.8" fill="#ecf3c5"/>
<rect x="729.52" y="503.78" width="13.95" height="30.8" fill="#f1f5c4"/>
<rect x="757.58" y="503.78" width="14.15" height="30.8" fill="#ecf3c5"/>
<rect x="773.98" y="503.78" width="13.95" height="30.8" fill="#f5f8c2"/>
<rect x="802.03" y="503.78" width="14.15" height="30.8" fill="#e8f0c6"/>
<rect x="818.43" y="503.78" width="13.95" height="30.8" fill="#f5f8c2"/>
<rect x="846.49" y="503.78" width="14.15" height="30.8" fill="#e8f0c6"/>
<rect x="862.89" y="503.78" width="13.95" height="30.8" fill="#e8f0c6"/>
<rect x="890.95" y="503.78" width="14.15" height="30.8" fill="#e8f0c6"/>
<rect x="907.35" y="503.78" width="13.95" height="30.8" fill="#ecf3c5"/>
<rect x="935.4" y="503.78" width="14.15" height="30.8" fill="#ecf3c5"/>
<rect x="951.8" y="503.78" width="13.95" height="30.8" fill="#ecf3c5"/>
<rect x="979.86" y="503.78" width="14.15" height="30.8" fill="#ecf3c5"/>
<rect x="996.25" y="503.78" width="13.95" height="30.8" fill="#f5f8c2"/>
<rect x="1024.31" y="503.78" width="14.15" height="30.8" fill="#f5f8c2"/>
<rect x="1040.71" y="503.78" width="13.95" height="30.8" fill="#f5f8c2"/>
<rect x="1068.76" y="503.78" width="14.15" height="30.8" fill="#f5f8c2"/>
<rect x="1085.16" y="503.78" width="13.95" height="30.8" fill="#fafbc1"/>
<rect x="1113.22" y="503.78" width="14.15" height="30.8" fill="#f5f8c2"/>
<rect x="1129.62" y="503.78" width="13.95" height="30.8" fill="#ffffbf"/>
<rect x="1157.67" y="503.78" width="14.15" height="30.8" fill="#f5f8c2"/>
<rect x="1174.07" y="503.78" width="13.95" height="30.8" fill="#fafbc1"/>
<rect x="1202.13" y="503.78" width="14.15" height="30.8" fill="#fafbc1"/>
<rect x="1218.53" y="503.78" width="13.95" height="30.8" fill="#fafbc1"/>
<rect x="1246.59" y="503.78" width="14.15" height="30.8" fill="#fafbc1"/>
<rect x="1262.99" y="503.78" width="13.95" height="30.8" fill="#ffffbf"/>
<rect x="1291.04" y="503.78" width="14.15" height="30.8" fill="#ffffbf"/>
<rect x="1307.44" y="503.78" width="13.95" height="30.8" fill="#ffffbf"/>
<rect x="1335.49" y="503.78" width="14.15" height="30.8" fill="#ffffbf"/>
<rect x="1351.89" y="503.78" width="13.95" height="30.8" fill="#fff8b8"/>
<rect x="1379.95" y="503.78" width="14.15" height="30.8" fill="#fafbc1"/>
<rect x="1396.35" y="503.78" width="13.95" height="30.8" fill="#ffffbf"/>
<rect x="1424.4" y="503.78" width="14.15" height="30.8" fill="#f5f8c2"/>
<rect x="1440.8" y="503.78" width="13.95" height="30.8" fill="#fafbc1"/>
<rect x="1468.86" y="503.78" width="14.15" height="30.8" fill="#f1f5c4"/>
<rect x="1485.26" y="503.78" width="13.95" height="30.8" fill="#f5f8c2"/>
<rect x="1513.31" y="503.78" width="14.15" height="30.8" fill="#f1f5c4"/>
<rect x="1529.71" y="503.78" width="13.95" height="30.8" fill="#fafbc1"/>
<rect x="1557.77" y="503.78" width="14.15" height="30.8" fill="#f5f8c2"/>
<rect x="1574.17" y="503.78" width="13.95" height="30.8" fill="#ffffbf"/>
<rect x="1602.22" y="503.78" width="14.15" height="30.8" fill="#f5f8c2"/>
<rect x="1618.62" y="503.78" width="13.95" height="30.8" fill="#ffffbf"/>
<rect x="1646.68" y="503.78" width="14.15" height="30.8" fill="#f5f8c2"/>
<rect x="1663.08" y="503.78" width="13.95" height="30.8" fill="#ffffbf"/>
<rect x="1691.13" y="503.78" width="14.15" height="30.8" fill="#f1f5c4"/>
<rect x="1707.53" y="503.78" width="13.95" height="30.8" fill="#f5f8c2"/>
<rect x="1735.59" y="503.78" width="14.15" height="30.8" fill="#ecf3c5"/>
<rect x="1751.99" y="503.78" width="13.95" height="30.8" fill="#f5f8c2"/>
<rect x="1780.04" y="503.78" width="14.15" height="30.8" fill="#e2ecc8"/>
<rect x="1796.44" y="503.78" width="13.95" height="30.8" fill="#ecf3c5"/>
<rect x="1824.5" y="503.78" width="14.15" height="30.8" fill="#d7e5cb"/>
<rect x="1840.9" y="503.78" width="13.95" height="30.8" fill="#e2ecc8"/>
<rect x="1868.95" y="503.78" width="14.15" height="30.8" fill="#d1e1cd"/>
<rect x="1885.36" y="503.78" width="13.95" height="30.8" fill="#d1e1cd"/>
<rect x="1913.41" y="503.78" width="14.15" height="30.8" fill="#d1e1cd"/>
<rect x="1929.81" y="503.78" width="13.95" height="30.8" fill="#d1e1cd"/>
<rect x="1957.86" y="503.78" width="14.15" height="30.8" fill="#c9ddcf"/>
<rect x="1974.26" y="503.78" width="13.95" height="30.8" fill="#d1e1cd"/>
<rect x="490.85" y="536.66" width="14.15" height="30.8" fill="#adcdd5"/>
<rect x="507.25" y="536.66" width="13.95" height="30.8" fill="#adcdd5"/>
<rect x="535.31" y="536.66" width="14.15" height="30.8" fill="#adcdd5"/>
<rect x="551.71" y="536.66" width="13.95" height="30.8" fill="#adcdd5"/>
<rect x="579.76" y="536.66" width="14.15" height="30.8" fill="#adcdd5"/>
<rect x="596.16" y="536.66" width="13.95" height="30.8" fill="#adcdd5"/>
<rect x="624.22" y="536.66" width="14.15" height="30.8" fill="#b3d0d4"/>
<rect x="640.62" y="536.66" width="13.95" height="30.8" fill="#b3d0d4"/>
<rect x="668.67" y="536.66" width="14.15" height="30.8" fill="#bad4d3"/>
<rect x="685.07" y="536.66" width="13.95" height="30.8" fill="#b3d0d4"/>
<rect x="713.12" y="536.66" width="14.15" height="30.8" fill="#bad4d3"/>
<rect x="729.52" y="536.66" width="13.95" height="30.8" fill="#bad4d3"/>
<rect x="757.58" y="536.66" width="14.15" height="30.8" fill="#bad4d3"/>
<rect x="773.98" y="536.66" width="13.95" height="30.8" fill="#bad4d3"/>
<rect x="802.03" y="536.66" width="14.15" height="30.8" fill="#bad4d3"/>
<rect x="818.43" y="536.66" width="13.95" height="30.8" fill="#bad4d3"/>
<rect x="846.49" y="536.66" width="14.15" height="30.8" fill="#bad4d3"/>
<rect x="862.89" y="536.66" width="13.95" height="30.8" fill="#bad4d3"/>
<rect x="890.95" y="536.66" width="14.15" height="30.8" fill="#bad4d3"/>
<rect x="907.35" y="536.66" width="13.95" height="30.8" fill="#bad4d3"/>
<rect x="935.4" y="536.66" width="14.15" height="30.8" fill="#bad4d3"/>
<rect x="951.8" y="536.66" width="13.95" height="30.8" fill="#bad4d3"/>
<rect x="979.86" y="536.66" width="14.15" height="30.8" fill="#bad4d3"/>
<rect x="996.25" y="536.66" width="13.95" height="30.8" fill="#bad4d3"/>
<rect x="1024.31" y="536.66" width="14.15" height="30.8" fill="#bad4d3"/>
<rect x="1040.71" y="536.66" width="13.95" height="30.8" fill="#bad4d3"/>
<rect x="1068.76" y="536.66" width="14.15" height="30.8" fill="#bad4d3"/>
<rect x="1085.16" y="536.66" width="13.95" height="30.8" fill="#bad4d3"/>
<rect x="1113.22" y="536.66" width="14.15" height="30.8" fill="#bad4d3"/>
<rect x="1129.62" y="536.66" width="13.95" height="30.8" fill="#bad4d3"/>
<rect x="1157.67" y="536.66" width="14.15" height="30.8" fill="#bad4d3"/>
<rect x="1174.07" y="536.66" width="13.95" height="30.8" fill="#c2d8d1"/>
<rect x="1202.13" y="536.66" width="14.15" height="30.8" fill="#bad4d3"/>
<rect x="1218.53" y="536.66" width="13.95" height="30.8" fill="#c2d8d1"/>
<rect x="1246.59" y="536.66" width="14.15" height="30.8" fill="#c2d8d1"/>
<rect x="1262.99" y="536.66" width="13.95" height="30.8" fill="#c2d8d1"/>
<rect x="1291.04" y="536.66" width="14.15" height="30.8" fill="#c2d8d1"/>
<rect x="1307.44" y="536.66" width="13.95" height="30.8" fill="#c2d8d1"/>
<rect x="1335.49" y="536.66" width="14.15" height="30.8" fill="#c2d8d1"/>
<rect x="1351.89" y="536.66" width="13.95" height="30.8" fill="#c2d8d1"/>
<rect x="1379.95" y="536.66" width="14.15" height="30.8" fill="#c9ddcf"/>
<rect x="1396.35" y="536.66" width="13.95" height="30.8" fill="#c2d8d1"/>
<rect x="1424.4" y="536.66" width="14.15" height="30.8" fill="#c9ddcf"/>
<rect x="1440.8" y="536.66" width="13.95" height="30.8" fill="#c9ddcf"/>
<rect x="1468.86" y="536.66" width="14.15" height="30.8" fill="#d1e1cd"/>
<rect x="1485.26" y="536.66" width="13.95" height="30.8" fill="#c9ddcf"/>
<rect x="1513.31" y="536.66" width="14.15" height="30.8" fill="#d7e5cb"/>
<rect x="1529.71" y="536.66" width="13.95" height="30.8" fill="#d1e1cd"/>
<rect x="1557.77" y="536.66" width="14.15" height="30.8" fill="#e2ecc8"/>
<rect x="1574.17" y="536.66" width="13.95" height="30.8" fill="#d7e5cb"/>
<rect x="1602.22" y="536.66" width="14.15" height="30.8" fill="#ecf3c5"/>
<rect x="1618.62" y="536.66" width="13.95" height="30.8" fill="#e2ecc8"/>
<rect x="1646.68" y="536.66" width="14.15" height="30.8" fill="#ffe5a7"/>
<rect x="1663.08" y="536.66" width="13.95" height="30.8" fill="#e8f0c6"/>
<rect x="1691.13" y="536.66" width="14.15" height="30.8" fill="#ffcf92"/>
<rect x="1707.53" y="536.66" width="13.95" height="30.8" fill="#f1f5c4"/>
<rect x="1735.59" y="536.66" width="14.15" height="30.8" fill="#ffa56d"/>
<rect x="1751.99" y="536.66" width="13.95" height="30.8" fill="#f1f5c4"/>
<rect x="1780.04" y="536.66" width="14.15" height="30.8" fill="#fc8d59"/>
<rect x="1796.44" y="536.66" width="13.95" height="30.8" fill="#f5f8c2"/>
<rect x="1824.5" y="536.66" width="14.15" height="30.8" fill="#fc8d59"/>
<rect x="1840.9" y="536.66" width="13.95" height="30.8" fill="#ecf3c5"/>
<rect x="1868.95" y="536.66" width="14.15" height="30.8" fill="#fc8d59"/>
<rect x="1885.36" y="536.66" width="13.95" height="30.8" fill="#ecf3c5"/>
<rect x="1913.41" y="536.66" width="14.15" height="30.8" fill="#fc8d59"/>
<rect x="1929.81" y="536.66" width="13.95" height="30.8" fill="#ecf3c5"/>
<rect x="1957.86" y="536.66" width="14.15" height="30.8" fill="#fc8d59"/>
<rect x="1974.26" y="536.66" width="13.95" height="30.8" fill="#ecf3c5"/>
<rect x="490.85" y="569.54" width="14.15" height="30.8" fill="#d1e1cd"/>
<rect x="507.25" y="569.54" width="13.95" height="30.8" fill="#c9ddcf"/>
<rect x="535.31" y="569.54" width="14.15" height="30.8" fill="#d7e5cb"/>
<rect x="551.71" y="569.54" width="13.95" height="30.8" fill="#d1e1cd"/>
<rect x="579.76" y="569.54" width="14.15" height="30.8" fill="#d7e5cb"/>
<rect x="596.16" y="569.54" width="13.95" height="30.8" fill="#d1e1cd"/>
<rect x="624.22" y="569.54" width="14.15" height="30.8" fill="#d7e5cb"/>
<rect x="640.62" y="569.54" width="13.95" height="30.8" fill="#d7e5cb"/>
<rect x="668.67" y="569.54" width="14.15" height="30.8" fill="#dce8ca"/>
<rect x="685.07" y="569.54" width="13.95" height="30.8" fill="#d7e5cb"/>
<rect x="713.12" y="569.54" width="14.15" height="30.8" fill="#e2ecc8"/>
<rect x="729.52" y="569.54" width="13.95" height="30.8" fill="#dce8ca"/>
<rect x="757.58" y="569.54" width="14.15" height="30.8" fill="#e2ecc8"/>
<rect x="773.98" y="569.54" width="13.95" height="30.8" fill="#e2ecc8"/>
<rect x="802.03" y="569.54" width="14.15" height="30.8" fill="#e2ecc8"/>
<rect x="818.43" y="569.54" width="13.95" height="30.8" fill="#dce8ca"/>
<rect x="846.49" y="569.54" width="14.15" height="30.8" fill="#e2ecc8"/>
<rect x="862.89" y="569.54" width="13.95" height="30.8" fill="#dce8ca"/>
<rect x="890.95" y="569.54" width="14.15" height="30.8" fill="#e2ecc8"/>
<rect x="907.35" y="569.54" width="13.95" height="30.8" fill="#dce8ca"/>
<rect x="935.4" y="569.54" width="14.15" height="30.8" fill="#e2ecc8"/>
<rect x="951.8" y="569.54" width="13.95" height="30.8" fill="#dce8ca"/>
<rect x="979.86" y="569.54" width="14.15" height="30.8" fill="#e8f0c6"/>
<rect x="996.25" y="569.54" width="13.95" height="30.8" fill="#e2ecc8"/>
<rect x="1024.31" y="569.54" width="14.15" height="30.8" fill="#f5f8c2"/>
<rect x="1040.71" y="569.54" width="13.95" height="30.8" fill="#e8f0c6"/>
<rect x="1068.76" y="569.54" width="14.15" height="30.8" fill="#f5f8c2"/>
<rect x="1085.16" y="569.54" width="13.95" height="30.8" fill="#ecf3c5"/>
<rect x="1113.22" y="569.54" width="14.15" height="30.8" fill="#fafbc1"/>
<rect x="1129.62" y="569.54" width="13.95" height="30.8" fill="#f1f5c4"/>
<rect x="1157.67" y="569.54" width="14.15" height="30.8" fill="#fafbc1"/>
<rect x="1174.07" y="569.54" width="13.95" height="30.8" fill="#f1f5c4"/>
<rect x="1202.13" y="569.54" width="14.15" height="30.8" fill="#fafbc1"/>
<rect x="1218.53" y="569.54" width="13.95" height="30.8" fill="#f1f5c4"/>
<rect x="1246.59" y="569.54" width="14.15" height="30.8" fill="#f5f8c2"/>
<rect x="1262.99" y="569.54" width="13.95" height="30.8" fill="#f1f5c4"/>
<rect x="1291.04" y="569.54" width="14.15" height="30.8" fill="#f5f8c2"/>
<rect x="1307.44" y="569.54" width="13.95" height="30.8" fill="#f1f5c4"/>
<rect x="1335.49" y="569.54" width="14.15" height="30.8" fill="#f5f8c2"/>
<rect x="1351.89" y="569.54" width="13.95" height="30.8" fill="#f1f5c4"/>
<rect x="1379.95" y="569.54" width="14.15" height="30.8" fill="#f5f8c2"/>
<rect x="1396.35" y="569.54" width="13.95" height="30.8" fill="#f1f5c4"/>
<rect x="1424.4" y="569.54" width="14.15" height="30.8" fill="#f5f8c2"/>
<rect x="1440.8" y="569.54" width="13.95" height="30.8" fill="#f1f5c4"/>
<rect x="1468.86" y="569.54" width="14.15" height="30.8" fill="#ffffbf"/>
<rect x="1485.26" y="569.54" width="13.95" height="30.8" fill="#f1f5c4"/>
<rect x="1513.31" y="569.54" width="14.15" height="30.8" fill="#ffffbf"/>
<rect x="1529.71" y="569.54" width="13.95" height="30.8" fill="#f5f8c2"/>
<rect x="1557.77" y="569.54" width="14.15" height="30.8" fill="#fff8b8"/>
<rect x="1574.17" y="569.54" width="13.95" height="30.8" fill="#f5f8c2"/>
<rect x="1602.22" y="569.54" width="14.15" height="30.8" fill="#fff8b8"/>
<rect x="1618.62" y="569.54" width="13.95" height="30.8" fill="#f5f8c2"/>
<rect x="1646.68" y="569.54" width="14.15" height="30.8" fill="#ffffbf"/>
<rect x="1663.08" y="569.54" width="13.95" height="30.8" fill="#f5f8c2"/>
<rect x="1691.13" y="569.54" width="14.15" height="30.8" fill="#fafbc1"/>
<rect x="1707.53" y="569.54" width="13.95" height="30.8" fill="#f5f8c2"/>
<rect x="1735.59" y="569.54" width="14.15" height="30.8" fill="#f5f8c2"/>
<rect x="1751.99" y="569.54" width="13.95" height="30.8" fill="#f1f5c4"/>
<rect x="1780.04" y="569.54" width="14.15" height="30.8" fill="#f5f8c2"/>
<rect x="1796.44" y="569.54" width="13.95" height="30.8" fill="#f1f5c4"/>
<rect x="1824.5" y="569.54" width="14.15" height="30.8" fill="#ecf3c5"/>
<rect x="1840.9" y="569.54" width="13.95" height="30.8" fill="#ecf3c5"/>
<rect x="1868.95" y="569.54" width="14.15" height="30.8" fill="#ecf3c5"/>
<rect x="1885.36" y="569.54" width="13.95" height="30.8" fill="#ecf3c5"/>
<rect x="1913.41" y="569.54" width="14.15" height="30.8" fill="#ecf3c5"/>
<rect x="1929.81" y="569.54" width="13.95" height="30.8" fill="#ecf3c5"/>
<rect x="1957.86" y="569.54" width="14.15" height="30.8" fill="#ecf3c5"/>
<rect x="1974.26" y="569.54" width="13.95" height="30.8" fill="#ecf3c5"/>
<rect x="490.85" y="602.42" width="14.15" height="30.8" fill="#dce8ca"/>
<rect x="507.25" y="602.42" width="13.95" height="30.8" fill="#dce8ca"/>
<rect x="535.31" y="602.42" width="14.15" height="30.8" fill="#dce8ca"/>
<rect x="551.71" y="602.42" width="13.95" height="30.8" fill="#dce8ca"/>
<rect x="579.76" y="602.42" width="14.15" height="30.8" fill="#e2ecc8"/>
<rect x="596.16" y="602.42" width="13.95" height="30.8" fill="#e2ecc8"/>
<rect x="624.22" y="602.42" width="14.15" height="30.8" fill="#e2ecc8"/>
<rect x="640.62" y="602.42" width="13.95" height="30.8" fill="#e2ecc8"/>
<rect x="668.67" y="602.42" width="14.15" height="30.8" fill="#e2ecc8"/>
<rect x="685.07" y="602.42" width="13.95" height="30.8" fill="#e2ecc8"/>
<rect x="713.12" y="602.42" width="14.15" height="30.8" fill="#e2ecc8"/>
<rect x="729.52" y="602.42" width="13.95" height="30.8" fill="#dce8ca"/>
<rect x="757.58" y="602.42" width="14.15" height="30.8" fill="#e2ecc8"/>
<rect x="773.98" y="602.42" width="13.95" height="30.8" fill="#dce8ca"/>
<rect x="802.03" y="602.42" width="14.15" height="30.8" fill="#e8f0c6"/>
<rect x="818.43" y="602.42" width="13.95" height="30.8" fill="#e2ecc8"/>
<rect x="846.49" y="602.42" width="14.15" height="30.8" fill="#e8f0c6"/>
<rect x="862.89" y="602.42" width="13.95" height="30.8" fill="#dce8ca"/>
<rect x="890.95" y="602.42" width="14.15" height="30.8" fill="#e8f0c6"/>
<rect x="907.35" y="602.42" width="13.95" height="30.8" fill="#dce8ca"/>
<rect x="935.4" y="602.42" width="14.15" height="30.8" fill="#e8f0c6"/>
<rect x="951.8" y="602.42" width="13.95" height="30.8" fill="#dce8ca"/>
<rect x="979.86" y="602.42" width="14.15" height="30.8" fill="#e2ecc8"/>
<rect x="996.25" y="602.42" width="13.95" height="30.8" fill="#dce8ca"/>
<rect x="1024.31" y="602.42" width="14.15" height="30.8" fill="#e2ecc8"/>
<rect x="1040.71" y="602.42" width="13.95" height="30.8" fill="#e2ecc8"/>
<rect x="1068.76" y="602.42" width="14.15" height="30.8" fill="#e2ecc8"/>
<rect x="1085.16" y="602.42" width="13.95" height="30.8" fill="#e2ecc8"/>
<rect x="1113.22" y="602.42" width="14.15" height="30.8" fill="#e2ecc8"/>
<rect x="1129.62" y="602.42" width="13.95" height="30.8" fill="#e2ecc8"/>
<rect x="1157.67" y="602.42" width="14.15" height="30.8" fill="#e2ecc8"/>
<rect x="1174.07" y="602.42" width="13.95" height="30.8" fill="#e2ecc8"/>
<rect x="1202.13" y="602.42" width="14.15" height="30.8" fill="#e2ecc8"/>
<rect x="1218.53" y="602.42" width="13.95" height="30.8" fill="#dce8ca"/>
<rect x="1246.59" y="602.42" width="14.15" height="30.8" fill="#e2ecc8"/>
<rect x="1262.99" y="602.42" width="13.95" height="30.8" fill="#e2ecc8"/>
<rect x="1291.04" y="602.42" width="14.15" height="30.8" fill="#e8f0c6"/>
<rect x="1307.44" y="602.42" width="13.95" height="30.8" fill="#e2ecc8"/>
<rect x="1335.49" y="602.42" width="14.15" height="30.8" fill="#ecf3c5"/>
<rect x="1351.89" y="602.42" width="13.95" height="30.8" fill="#e2ecc8"/>
<rect x="1379.95" y="602.42" width="14.15" height="30.8" fill="#ecf3c5"/>
<rect x="1396.35" y="602.42" width="13.95" height="30.8" fill="#e2ecc8"/>
<rect x="1424.4" y="602.42" width="14.15" height="30.8" fill="#f1f5c4"/>
<rect x="1440.8" y="602.42" width="13.95" height="30.8" fill="#e2ecc8"/>
<rect x="1468.86" y="602.42" width="14.15" height="30.8" fill="#f1f5c4"/>
<rect x="1485.26" y="602.42" width="13.95" height="30.8" fill="#e2ecc8"/>
<rect x="1513.31" y="602.42" width="14.15" height="30.8" fill="#f1f5c4"/>
<rect x="1529.71" y="602.42" width="13.95" height="30.8" fill="#e2ecc8"/>
<rect x="1557.77" y="602.42" width="14.15" height="30.8" fill="#f5f8c2"/>
<rect x="1574.17" y="602.42" width="13.95" height="30.8" fill="#dce8ca"/>
<rect x="1602.22" y="602.42" width="14.15" height="30.8" fill="#ffffbf"/>
<rect x="1618.62" y="602.42" width="13.95" height="30.8" fill="#dce8ca"/>
<rect x="1646.68" y="602.42" width="14.15" height="30.8" fill="#fff8b8"/>
<rect x="1663.08" y="602.42" width="13.95" height="30.8" fill="#dce8ca"/>
<rect x="1691.13" y="602.42" width="14.15" height="30.8" fill="#fff6b6"/>
<rect x="1707.53" y="602.42" width="13.95" height="30.8" fill="#dce8ca"/>
<rect x="1735.59" y="602.42" width="14.15" height="30.8" fill="#fff0b1"/>
<rect x="1751.99" y="602.42" width="13.95" height="30.8" fill="#dce8ca"/>
<rect x="1780.04" y="602.42" width="14.15" height="30.8" fill="#fff0b1"/>
<rect x="1796.44" y="602.42" width="13.95" height="30.8" fill="#dce8ca"/>
<rect x="1824.5" y="602.42" width="14.15" height="30.8" fill="#ffebac"/>
<rect x="1840.9" y="602.42" width="13.95" height="30.8" fill="#dce8ca"/>
<rect x="1868.95" y="602.42" width="14.15" height="30.8" fill="#fff0b1"/>
<rect x="1885.36" y="602.42" width="13.95" height="30.8" fill="#dce8ca"/>
<rect x="1913.41" y="602.42" width="14.15" height="30.8" fill="#fff0b1"/>
<rect x="1929.81" y="602.42" width="13.95" height="30.8" fill="#dce8ca"/>
<rect x="1957.86" y="602.42" width="14.15" height="30.8" fill="#fff0b1"/>
<rect x="1974.26" y="602.42" width="13.95" height="30.8" fill="#dce8ca"/>
<rect x="490.85" y="635.3" width="14.15" height="30.8" fill="#ecf3c5"/>
<rect x="507.25" y="635.3" width="13.95" height="30.8" fill="#f1f5c4"/>
<rect x="535.31" y="635.3" width="14.15" height="30.8" fill="#f1f5c4"/>
<rect x="551.71" y="635.3" width="13.95" height="30.8" fill="#f5f8c2"/>
<rect x="579.76" y="635.3" width="14.15" height="30.8" fill="#f1f5c4"/>
<rect x="596.16" y="635.3" width="13.95" height="30.8" fill="#fafbc1"/>
<rect x="624.22" y="635.3" width="14.15" height="30.8" fill="#f1f5c4"/>
<rect x="640.62" y="635.3" width="13.95" height="30.8" fill="#f5f8c2"/>
<rect x="668.67" y="635.3" width="14.15" height="30.8" fill="#ecf3c5"/>
<rect x="685.07" y="635.3" width="13.95" height="30.8" fill="#f5f8c2"/>
<rect x="713.12" y="635.3" width="14.15" height="30.8" fill="#e2ecc8"/>
<rect x="729.52" y="635.3" width="13.95" height="30.8" fill="#f5f8c2"/>
<rect x="757.58" y="635.3" width="14.15" height="30.8" fill="#e2ecc8"/>
<rect x="773.98" y="635.3" width="13.95" height="30.8" fill="#e8f0c6"/>
<rect x="802.03" y="635.3" width="14.15" height="30.8" fill="#e2ecc8"/>
<rect x="818.43" y="635.3" width="13.95" height="30.8" fill="#ecf3c5"/>
<rect x="846.49" y="635.3" width="14.15" height="30.8" fill="#e8f0c6"/>
<rect x="862.89" y="635.3" width="13.95" height="30.8" fill="#e8f0c6"/>
<rect x="890.95" y="635.3" width="14.15" height="30.8" fill="#e8f0c6"/>
<rect x="907.35" y="635.3" width="13.95" height="30.8" fill="#f1f5c4"/>
<rect x="935.4" y="635.3" width="14.15" height="30.8" fill="#e8f0c6"/>
<rect x="951.8" y="635.3" width="13.95" height="30.8" fill="#ecf3c5"/>
<rect x="979.86" y="635.3" width="14.15" height="30.8" fill="#e2ecc8"/>
<rect x="996.25" y="635.3" width="13.95" height="30.8" fill="#ecf3c5"/>
<rect x="1024.31" y="635.3" width="14.15" height="30.8" fill="#dce8ca"/>
<rect x="1040.71" y="635.3" width="13.95" height="30.8" fill="#ecf3c5"/>
<rect x="1068.76" y="635.3" width="14.15" height="30.8" fill="#dce8ca"/>
<rect x="1085.16" y="635.3" width="13.95" height="30.8" fill="#e8f0c6"/>
<rect x="1113.22" y="635.3" width="14.15" height="30.8" fill="#dce8ca"/>
<rect x="1129.62" y="635.3" width="13.95" height="30.8" fill="#e2ecc8"/>
<rect x="1157.67" y="635.3" width="14.15" height="30.8" fill="#e2ecc8"/>
<rect x="1174.07" y="635.3" width="13.95" height="30.8" fill="#e2ecc8"/>
<rect x="1202.13" y="635.3" width="14.15" height="30.8" fill="#e2ecc8"/>
<rect x="1218.53" y="635.3" width="13.95" height="30.8" fill="#e8f0c6"/>
<rect x="1246.59" y="635.3" width="14.15" height="30.8" fill="#e8f0c6"/>
<rect x="1262.99" y="635.3" width="13.95" height="30.8" fill="#e8f0c6"/>
<rect x="1291.04" y="635.3" width="14.15" height="30.8" fill="#e8f0c6"/>
<rect x="1307.44" y="635.3" width="13.95" height="30.8" fill="#e8f0c6"/>
<rect x="1335.49" y="635.3" width="14.15" height="30.8" fill="#e8f0c6"/>
<rect x="1351.89" y="635.3" width="13.95" height="30.8" fill="#e8f0c6"/>
<rect x="1379.95" y="635.3" width="14.15" height="30.8" fill="#e8f0c6"/>
<rect x="1396.35" y="635.3" width="13.95" height="30.8" fill="#e8f0c6"/>
<rect x="1424.4" y="635.3" width="14.15" height="30.8" fill="#e2ecc8"/>
<rect x="1440.8" y="635.3" width="13.95" height="30.8" fill="#e8f0c6"/>
<rect x="1468.86" y="635.3" width="14.15" height="30.8" fill="#e2ecc8"/>
<rect x="1485.26" y="635.3" width="13.95" height="30.8" fill="#e8f0c6"/>
<rect x="1513.31" y="635.3" width="14.15" height="30.8" fill="#e2ecc8"/>
<rect x="1529.71" y="635.3" width="13.95" height="30.8" fill="#e8f0c6"/>
<rect x="1557.77" y="635.3" width="14.15" height="30.8" fill="#e2ecc8"/>
<rect x="1574.17" y="635.3" width="13.95" height="30.8" fill="#e8f0c6"/>
<rect x="1602.22" y="635.3" width="14.15" height="30.8" fill="#e8f0c6"/>
<rect x="1618.62" y="635.3" width="13.95" height="30.8" fill="#e8f0c6"/>
<rect x="1646.68" y="635.3" width="14.15" height="30.8" fill="#e2ecc8"/>
<rect x="1663.08" y="635.3" width="13.95" height="30.8" fill="#e8f0c6"/>
<rect x="1691.13" y="635.3" width="14.15" height="30.8" fill="#e2ecc8"/>
<rect x="1707.53" y="635.3" width="13.95" height="30.8" fill="#e8f0c6"/>
<rect x="1735.59" y="635.3" width="14.15" height="30.8" fill="#e2ecc8"/>
<rect x="1751.99" y="635.3" width="13.95" height="30.8" fill="#e8f0c6"/>
<rect x="1780.04" y="635.3" width="14.15" height="30.8" fill="#e2ecc8"/>
<rect x="1796.44" y="635.3" width="13.95" height="30.8" fill="#e2ecc8"/>
<rect x="1824.5" y="635.3" width="14.15" height="30.8" fill="#e2ecc8"/>
<rect x="1840.9" y="635.3" width="13.95" height="30.8" fill="#e8f0c6"/>
<rect x="1868.95" y="635.3" width="14.15" height="30.8" fill="#e2ecc8"/>
<rect x="1885.36" y="635.3" width="13.95" height="30.8" fill="#e8f0c6"/>
<rect x="1913.41" y="635.3" width="14.15" height="30.8" fill="#e2ecc8"/>
<rect x="1929.81" y="635.3" width="13.95" height="30.8" fill="#e8f0c6"/>
<rect x="1957.86" y="635.3" width="14.15" height="30.8" fill="#e2ecc8"/>
<rect x="1974.26" y="635.3" width="13.95" height="30.8" fill="#e8f0c6"/>
<rect x="490.85" y="668.18" width="14.15" height="30.8" fill="#c9ddcf"/>
<rect x="507.25" y="668.18" width="13.95" height="30.8" fill="#d1e1cd"/>
<rect x="535.31" y="668.18" width="14.15" height="30.8" fill="#d1e1cd"/>
<rect x="551.71" y="668.18" width="13.95" height="30.8" fill="#d1e1cd"/>
<rect x="579.76" y="668.18" width="14.15" height="30.8" fill="#d7e5cb"/>
<rect x="596.16" y="668.18" width="13.95" height="30.8" fill="#d7e5cb"/>
<rect x="624.22" y="668.18" width="14.15" height="30.8" fill="#d7e5cb"/>
<rect x="640.62" y="668.18" width="13.95" height="30.8" fill="#dce8ca"/>
<rect x="668.67" y="668.18" width="14.15" height="30.8" fill="#e2ecc8"/>
<rect x="685.07" y="668.18" width="13.95" height="30.8" fill="#dce8ca"/>
<rect x="713.12" y="668.18" width="14.15" height="30.8" fill="#e2ecc8"/>
<rect x="729.52" y="668.18" width="13.95" height="30.8" fill="#e2ecc8"/>
<rect x="757.58" y="668.18" width="14.15" height="30.8" fill="#e2ecc8"/>
<rect x="773.98" y="668.18" width="13.95" height="30.8" fill="#e2ecc8"/>
<rect x="802.03" y="668.18" width="14.15" height="30.8" fill="#e2ecc8"/>
<rect x="818.43" y="668.18" width="13.95" height="30.8" fill="#e2ecc8"/>
<rect x="846.49" y="668.18" width="14.15" height="30.8" fill="#e8f0c6"/>
<rect x="862.89" y="668.18" width="13.95" height="30.8" fill="#e2ecc8"/>
<rect x="890.95" y="668.18" width="14.15" height="30.8" fill="#ecf3c5"/>
<rect x="907.35" y="668.18" width="13.95" height="30.8" fill="#e2ecc8"/>
<rect x="935.4" y="668.18" width="14.15" height="30.8" fill="#f1f5c4"/>
<rect x="951.8" y="668.18" width="13.95" height="30.8" fill="#e2ecc8"/>
<rect x="979.86" y="668.18" width="14.15" height="30.8" fill="#f5f8c2"/>
<rect x="996.25" y="668.18" width="13.95" height="30.8" fill="#ecf3c5"/>
<rect x="1024.31" y="668.18" width="14.15" height="30.8" fill="#f5f8c2"/>
<rect x="1040.71" y="668.18" width="13.95" height="30.8" fill="#f1f5c4"/>
<rect x="1068.76" y="668.18" width="14.15" height="30.8" fill="#f5f8c2"/>
<rect x="1085.16" y="668.18" width="13.95" height="30.8" fill="#f1f5c4"/>
<rect x="1113.22" y="668.18" width="14.15" height="30.8" fill="#f5f8c2"/>
<rect x="1129.62" y="668.18" width="13.95" height="30.8" fill="#f1f5c4"/>
<rect x="1157.67" y="668.18" width="14.15" height="30.8" fill="#fafbc1"/>
<rect x="1174.07" y="668.18" width="13.95" height="30.8" fill="#f1f5c4"/>
<rect x="1202.13" y="668.18" width="14.15" height="30.8" fill="#fafbc1"/>
<rect x="1218.53" y="668.18" width="13.95" height="30.8" fill="#f1f5c4"/>
<rect x="1246.59" y="668.18" width="14.15" height="30.8" fill="#f5f8c2"/>
<rect x="1262.99" y="668.18" width="13.95" height="30.8" fill="#f1f5c4"/>
<rect x="1291.04" y="668.18" width="14.15" height="30.8" fill="#f5f8c2"/>
<rect x="1307.44" y="668.18" width="13.95" height="30.8" fill="#f1f5c4"/>
<rect x="1335.49" y="668.18" width="14.15" height="30.8" fill="#f5f8c2"/>
<rect x="1351.89" y="668.18" width="13.95" height="30.8" fill="#f1f5c4"/>
<rect x="1379.95" y="668.18" width="14.15" height="30.8" fill="#f5f8c2"/>
<rect x="1396.35" y="668.18" width="13.95" height="30.8" fill="#f1f5c4"/>
<rect x="1424.4" y="668.18" width="14.15" height="30.8" fill="#f5f8c2"/>
<rect x="1440.8" y="668.18" width="13.95" height="30.8" fill="#f1f5c4"/>
<rect x="1468.86" y="668.18" width="14.15" height="30.8" fill="#f5f8c2"/>
<rect x="1485.26" y="668.18" width="13.95" height="30.8" fill="#f1f5c4"/>
<rect x="1513.31" y="668.18" width="14.15" height="30.8" fill="#f5f8c2"/>
<rect x="1529.71" y="668.18" width="13.95" height="30.8" fill="#ecf3c5"/>
<rect x="1557.77" y="668.18" width="14.15" height="30.8" fill="#f5f8c2"/>
<rect x="1574.17" y="668.18" width="13.95" height="30.8" fill="#f1f5c4"/>
<rect x="1602.22" y="668.18" width="14.15" height="30.8" fill="#f5f8c2"/>
<rect x="1618.62" y="668.18" width="13.95" height="30.8" fill="#f1f5c4"/>
<rect x="1646.68" y="668.18" width="14.15" height="30.8" fill="#f1f5c4"/>
<rect x="1663.08" y="668.18" width="13.95" height="30.8" fill="#f1f5c4"/>
<rect x="1691.13" y="668.18" width="14.15" height="30.8" fill="#e8f0c6"/>
<rect x="1707.53" y="668.18" width="13.95" height="30.8" fill="#ecf3c5"/>
<rect x="1735.59" y="668.18" width="14.15" height="30.8" fill="#e2ecc8"/>
<rect x="1751.99" y="668.18" width="13.95" height="30.8" fill="#e8f0c6"/>
<rect x="1780.04" y="668.18" width="14.15" height="30.8" fill="#d7e5cb"/>
<rect x="1796.44" y="668.18" width="13.95" height="30.8" fill="#e2ecc8"/>
<rect x="1824.5" y="668.18" width="14.15" height="30.8" fill="#d1e1cd"/>
<rect x="1840.9" y="668.18" width="13.95" height="30.8" fill="#d7e5cb"/>
<rect x="1868.95" y="668.18" width="14.15" height="30.8" fill="#d1e1cd"/>
<rect x="1885.36" y="668.18" width="13.95" height="30.8" fill="#d1e1cd"/>
<rect x="1913.41" y="668.18" width="14.15" height="30.8" fill="#d1e1cd"/>
<rect x="1929.81" y="668.18" width="13.95" height="30.8" fill="#d1e1cd"/>
<rect x="1957.86" y="668.18" width="14.15" height="30.8" fill="#c9ddcf"/>
<rect x="1974.26" y="668.18" width="13.95" height="30.8" fill="#d1e1cd"/>
<rect x="490.85" y="701.06" width="14.15" height="30.8" fill="#f5f8c2"/>
<rect x="507.25" y="701.06" width="13.95" height="30.8" fill="#e2ecc8"/>
<rect x="535.31" y="701.06" width="14.15" height="30.8" fill="#ffffbf"/>
<rect x="551.71" y="701.06" width="13.95" height="30.8" fill="#e8f0c6"/>
<rect x="579.76" y="701.06" width="14.15" height="30.8" fill="#f1f5c4"/>
<rect x="596.16" y="701.06" width="13.95" height="30.8" fill="#e8f0c6"/>
<rect x="624.22" y="701.06" width="14.15" height="30.8" fill="#e2ecc8"/>
<rect x="640.62" y="701.06" width="13.95" height="30.8" fill="#dce8ca"/>
<rect x="668.67" y="701.06" width="14.15" height="30.8" fill="#d1e1cd"/>
<rect x="685.07" y="701.06" width="13.95" height="30.8" fill="#d1e1cd"/>
<rect x="713.12" y="701.06" width="14.15" height="30.8" fill="#bad4d3"/>
<rect x="729.52" y="701.06" width="13.95" height="30.8" fill="#c9ddcf"/>
<rect x="757.58" y="701.06" width="14.15" height="30.8" fill="#bad4d3"/>
<rect x="773.98" y="701.06" width="13.95" height="30.8" fill="#c2d8d1"/>
<rect x="802.03" y="701.06" width="14.15" height="30.8" fill="#bad4d3"/>
<rect x="818.43" y="701.06" width="13.95" height="30.8" fill="#bad4d3"/>
<rect x="846.49" y="701.06" width="14.15" height="30.8" fill="#c9ddcf"/>
<rect x="862.89" y="701.06" width="13.95" height="30.8" fill="#bad4d3"/>
<rect x="890.95" y="701.06" width="14.15" height="30.8" fill="#c9ddcf"/>
<rect x="907.35" y="701.06" width="13.95" height="30.8" fill="#c9ddcf"/>
<rect x="935.4" y="701.06" width="14.15" height="30.8" fill="#c9ddcf"/>
<rect x="951.8" y="701.06" width="13.95" height="30.8" fill="#c9ddcf"/>
<rect x="979.86" y="701.06" width="14.15" height="30.8" fill="#c9ddcf"/>
<rect x="996.25" y="701.06" width="13.95" height="30.8" fill="#c9ddcf"/>
<rect x="1024.31" y="701.06" width="14.15" height="30.8" fill="#bad4d3"/>
<rect x="1040.71" y="701.06" width="13.95" height="30.8" fill="#c9ddcf"/>
<rect x="1068.76" y="701.06" width="14.15" height="30.8" fill="#bad4d3"/>
<rect x="1085.16" y="701.06" width="13.95" height="30.8" fill="#bad4d3"/>
<rect x="1113.22" y="701.06" width="14.15" height="30.8" fill="#bad4d3"/>
<rect x="1129.62" y="701.06" width="13.95" height="30.8" fill="#bad4d3"/>
<rect x="1157.67" y="701.06" width="14.15" height="30.8" fill="#bad4d3"/>
<rect x="1174.07" y="701.06" width="13.95" height="30.8" fill="#bad4d3"/>
<rect x="1202.13" y="701.06" width="14.15" height="30.8" fill="#bad4d3"/>
<rect x="1218.53" y="701.06" width="13.95" height="30.8" fill="#c2d8d1"/>
<rect x="1246.59" y="701.06" width="14.15" height="30.8" fill="#c2d8d1"/>
<rect x="1262.99" y="701.06" width="13.95" height="30.8" fill="#c2d8d1"/>
<rect x="1291.04" y="701.06" width="14.15" height="30.8" fill="#c9ddcf"/>
<rect x="1307.44" y="701.06" width="13.95" height="30.8" fill="#c9ddcf"/>
<rect x="1335.49" y="701.06" width="14.15" height="30.8" fill="#d7e5cb"/>
<rect x="1351.89" y="701.06" width="13.95" height="30.8" fill="#d1e1cd"/>
<rect x="1379.95" y="701.06" width="14.15" height="30.8" fill="#d7e5cb"/>
<rect x="1396.35" y="701.06" width="13.95" height="30.8" fill="#d7e5cb"/>
<rect x="1424.4" y="701.06" width="14.15" height="30.8" fill="#dce8ca"/>
<rect x="1440.8" y="701.06" width="13.95" height="30.8" fill="#dce8ca"/>
<rect x="1468.86" y="701.06" width="14.15" height="30.8" fill="#e2ecc8"/>
<rect x="1485.26" y="701.06" width="13.95" height="30.8" fill="#dce8ca"/>
<rect x="1513.31" y="701.06" width="14.15" height="30.8" fill="#f5f8c2"/>
<rect x="1529.71" y="701.06" width="13.95" height="30.8" fill="#e8f0c6"/>
<rect x="1557.77" y="701.06" width="14.15" height="30.8" fill="#f5f8c2"/>
<rect x="1574.17" y="701.06" width="13.95" height="30.8" fill="#ecf3c5"/>
<rect x="1602.22" y="701.06" width="14.15" height="30.8" fill="#fafbc1"/>
<rect x="1618.62" y="701.06" width="13.95" height="30.8" fill="#ecf3c5"/>
<rect x="1646.68" y="701.06" width="14.15" height="30.8" fill="#fff8b8"/>
<rect x="1663.08" y="701.06" width="13.95" height="30.8" fill="#ecf3c5"/>
<rect x="1691.13" y="701.06" width="14.15" height="30.8" fill="#fff6b6"/>
<rect x="1707.53" y="701.06" width="13.95" height="30.8" fill="#f1f5c4"/>
<rect x="1735.59" y="701.06" width="14.15" height="30.8" fill="#ffe5a7"/>
<rect x="1751.99" y="701.06" width="13.95" height="30.8" fill="#f1f5c4"/>
<rect x="1780.04" y="701.06" width="14.15" height="30.8" fill="#ffe0a1"/>
<rect x="1796.44" y="701.06" width="13.95" height="30.8" fill="#f5f8c2"/>
<rect x="1824.5" y="701.06" width="14.15" height="30.8" fill="#ffd497"/>
<rect x="1840.9" y="701.06" width="13.95" height="30.8" fill="#f1f5c4"/>
<rect x="1868.95" y="701.06" width="14.15" height="30.8" fill="#ffd497"/>
<rect x="1885.36" y="701.06" width="13.95" height="30.8" fill="#ecf3c5"/>
<rect x="1913.41" y="701.06" width="14.15" height="30.8" fill="#ffcf92"/>
<rect x="1929.81" y="701.06" width="13.95" height="30.8" fill="#ecf3c5"/>
<rect x="1957.86" y="701.06" width="14.15" height="30.8" fill="#ffb87d"/>
<rect x="1974.26" y="701.06" width="13.95" height="30.8" fill="#f1f5c4"/>
<rect x="490.85" y="733.94" width="14.15" height="30.8" fill="#ecf3c5"/>
<rect x="507.25" y="733.94" width="13.95" height="30.8" fill="#d1e1cd"/>
<rect x="535.31" y="733.94" width="14.15" height="30.8" fill="#f1f5c4"/>
<rect x="551.71" y="733.94" width="13.95" height="30.8" fill="#d7e5cb"/>
<rect x="579.76" y="733.94" width="14.15" height="30.8" fill="#f1f5c4"/>
<rect x="596.16" y="733.94" width="13.95" height="30.8" fill="#d1e1cd"/>
<rect x="624.22" y="733.94" width="14.15" height="30.8" fill="#f1f5c4"/>
<rect x="640.62" y="733.94" width="13.95" height="30.8" fill="#d7e5cb"/>
<rect x="668.67" y="733.94" width="14.15" height="30.8" fill="#ecf3c5"/>
<rect x="685.07" y="733.94" width="13.95" height="30.8" fill="#d1e1cd"/>
<rect x="713.12" y="733.94" width="14.15" height="30.8" fill="#ecf3c5"/>
<rect x="729.52" y="733.94" width="13.95" height="30.8" fill="#d7e5cb"/>
<rect x="757.58" y="733.94" width="14.15" height="30.8" fill="#f1f5c4"/>
<rect x="773.98" y="733.94" width="13.95" height="30.8" fill="#d7e5cb"/>
<rect x="802.03" y="733.94" width="14.15" height="30.8" fill="#f1f5c4"/>
<rect x="818.43" y="733.94" width="13.95" height="30.8" fill="#d7e5cb"/>
<rect x="846.49" y="733.94" width="14.15" height="30.8" fill="#f1f5c4"/>
<rect x="862.89" y="733.94" width="13.95" height="30.8" fill="#d7e5cb"/>
<rect x="890.95" y="733.94" width="14.15" height="30.8" fill="#f1f5c4"/>
<rect x="907.35" y="733.94" width="13.95" height="30.8" fill="#d7e5cb"/>
<rect x="935.4" y="733.94" width="14.15" height="30.8" fill="#f1f5c4"/>
<rect x="951.8" y="733.94" width="13.95" height="30.8" fill="#d7e5cb"/>
<rect x="979.86" y="733.94" width="14.15" height="30.8" fill="#f1f5c4"/>
<rect x="996.25" y="733.94" width="13.95" height="30.8" fill="#d7e5cb"/>
<rect x="1024.31" y="733.94" width="14.15" height="30.8" fill="#f1f5c4"/>
<rect x="1040.71" y="733.94" width="13.95" height="30.8" fill="#d7e5cb"/>
<rect x="1068.76" y="733.94" width="14.15" height="30.8" fill="#ecf3c5"/>
<rect x="1085.16" y="733.94" width="13.95" height="30.8" fill="#d7e5cb"/>
<rect x="1113.22" y="733.94" width="14.15" height="30.8" fill="#ecf3c5"/>
<rect x="1129.62" y="733.94" width="13.95" height="30.8" fill="#d7e5cb"/>
<rect x="1157.67" y="733.94" width="14.15" height="30.8" fill="#e8f0c6"/>
<rect x="1174.07" y="733.94" width="13.95" height="30.8" fill="#d7e5cb"/>
<rect x="1202.13" y="733.94" width="14.15" height="30.8" fill="#e2ecc8"/>
<rect x="1218.53" y="733.94" width="13.95" height="30.8" fill="#d7e5cb"/>
<rect x="1246.59" y="733.94" width="14.15" height="30.8" fill="#e2ecc8"/>
<rect x="1262.99" y="733.94" width="13.95" height="30.8" fill="#d7e5cb"/>
<rect x="1291.04" y="733.94" width="14.15" height="30.8" fill="#ecf3c5"/>
<rect x="1307.44" y="733.94" width="13.95" height="30.8" fill="#d7e5cb"/>
<rect x="1335.49" y="733.94" width="14.15" height="30.8" fill="#ecf3c5"/>
<rect x="1351.89" y="733.94" width="13.95" height="30.8" fill="#d7e5cb"/>
<rect x="1379.95" y="733.94" width="14.15" height="30.8" fill="#f5f8c2"/>
<rect x="1396.35" y="733.94" width="13.95" height="30.8" fill="#d7e5cb"/>
<rect x="1424.4" y="733.94" width="14.15" height="30.8" fill="#fafbc1"/>
<rect x="1440.8" y="733.94" width="13.95" height="30.8" fill="#d7e5cb"/>
<rect x="1468.86" y="733.94" width="14.15" height="30.8" fill="#fafbc1"/>
<rect x="1485.26" y="733.94" width="13.95" height="30.8" fill="#d7e5cb"/>
<rect x="1513.31" y="733.94" width="14.15" height="30.8" fill="#f5f8c2"/>
<rect x="1529.71" y="733.94" width="13.95" height="30.8" fill="#d7e5cb"/>
<rect x="1557.77" y="733.94" width="14.15" height="30.8" fill="#ecf3c5"/>
<rect x="1574.17" y="733.94" width="13.95" height="30.8" fill="#d7e5cb"/>
<rect x="1602.22" y="733.94" width="14.15" height="30.8" fill="#e8f0c6"/>
<rect x="1618.62" y="733.94" width="13.95" height="30.8" fill="#d7e5cb"/>
<rect x="1646.68" y="733.94" width="14.15" height="30.8" fill="#e2ecc8"/>
<rect x="1663.08" y="733.94" width="13.95" height="30.8" fill="#dce8ca"/>
<rect x="1691.13" y="733.94" width="14.15" height="30.8" fill="#e2ecc8"/>
<rect x="1707.53" y="733.94" width="13.95" height="30.8" fill="#d7e5cb"/>
<rect x="1735.59" y="733.94" width="14.15" height="30.8" fill="#e2ecc8"/>
<rect x="1751.99" y="733.94" width="13.95" height="30.8" fill="#d7e5cb"/>
<rect x="1780.04" y="733.94" width="14.15" height="30.8" fill="#e2ecc8"/>
<rect x="1796.44" y="733.94" width="13.95" height="30.8" fill="#dce8ca"/>
<rect x="1824.5" y="733.94" width="14.15" height="30.8" fill="#e2ecc8"/>
<rect x="1840.9" y="733.94" width="13.95" height="30.8" fill="#dce8ca"/>
<rect x="1868.95" y="733.94" width="14.15" height="30.8" fill="#e2ecc8"/>
<rect x="1885.36" y="733.94" width="13.95" height="30.8" fill="#d7e5cb"/>
<rect x="1913.41" y="733.94" width="14.15" height="30.8" fill="#e2ecc8"/>
<rect x="1929.81" y="733.94" width="13.95" height="30.8" fill="#d7e5cb"/>
<rect x="1957.86" y="733.94" width="14.15" height="30.8" fill="#e8f0c6"/>
<rect x="1974.26" y="733.94" width="13.95" height="30.8" fill="#d7e5cb"/>
<rect x="490.85" y="766.82" width="14.15" height="30.8" fill="#dce8ca"/>
<rect x="507.25" y="766.82" width="13.95" height="30.8" fill="#dce8ca"/>
<rect x="535.31" y="766.82" width="14.15" height="30.8" fill="#dce8ca"/>
<rect x="551.71" y="766.82" width="13.95" height="30.8" fill="#dce8ca"/>
<rect x="579.76" y="766.82" width="14.15" height="30.8" fill="#dce8ca"/>
<rect x="596.16" y="766.82" width="13.95" height="30.8" fill="#dce8ca"/>
<rect x="624.22" y="766.82" width="14.15" height="30.8" fill="#dce8ca"/>
<rect x="640.62" y="766.82" width="13.95" height="30.8" fill="#e2ecc8"/>
<rect x="668.67" y="766.82" width="14.15" height="30.8" fill="#dce8ca"/>
<rect x="685.07" y="766.82" width="13.95" height="30.8" fill="#dce8ca"/>
<rect x="713.12" y="766.82" width="14.15" height="30.8" fill="#e2ecc8"/>
<rect x="729.52" y="766.82" width="13.95" height="30.8" fill="#e2ecc8"/>
<rect x="757.58" y="766.82" width="14.15" height="30.8" fill="#ecf3c5"/>
<rect x="773.98" y="766.82" width="13.95" height="30.8" fill="#e8f0c6"/>
<rect x="802.03" y="766.82" width="14.15" height="30.8" fill="#ecf3c5"/>
<rect x="818.43" y="766.82" width="13.95" height="30.8" fill="#ecf3c5"/>
<rect x="846.49" y="766.82" width="14.15" height="30.8" fill="#ecf3c5"/>
<rect x="862.89" y="766.82" width="13.95" height="30.8" fill="#ecf3c5"/>
<rect x="890.95" y="766.82" width="14.15" height="30.8" fill="#e8f0c6"/>
<rect x="907.35" y="766.82" width="13.95" height="30.8" fill="#ecf3c5"/>
<rect x="935.4" y="766.82" width="14.15" height="30.8" fill="#e8f0c6"/>
<rect x="951.8" y="766.82" width="13.95" height="30.8" fill="#e8f0c6"/>
<rect x="979.86" y="766.82" width="14.15" height="30.8" fill="#e2ecc8"/>
<rect x="996.25" y="766.82" width="13.95" height="30.8" fill="#e2ecc8"/>
<rect x="1024.31" y="766.82" width="14.15" height="30.8" fill="#e8f0c6"/>
<rect x="1040.71" y="766.82" width="13.95" height="30.8" fill="#e2ecc8"/>
<rect x="1068.76" y="766.82" width="14.15" height="30.8" fill="#ecf3c5"/>
<rect x="1085.16" y="766.82" width="13.95" height="30.8" fill="#e8f0c6"/>
<rect x="1113.22" y="766.82" width="14.15" height="30.8" fill="#ecf3c5"/>
<rect x="1129.62" y="766.82" width="13.95" height="30.8" fill="#ecf3c5"/>
<rect x="1157.67" y="766.82" width="14.15" height="30.8" fill="#f1f5c4"/>
<rect x="1174.07" y="766.82" width="13.95" height="30.8" fill="#f1f5c4"/>
<rect x="1202.13" y="766.82" width="14.15" height="30.8" fill="#f1f5c4"/>
<rect x="1218.53" y="766.82" width="13.95" height="30.8" fill="#f5f8c2"/>
<rect x="1246.59" y="766.82" width="14.15" height="30.8" fill="#f1f5c4"/>
<rect x="1262.99" y="766.82" width="13.95" height="30.8" fill="#f5f8c2"/>
<rect x="1291.04" y="766.82" width="14.15" height="30.8" fill="#f1f5c4"/>
<rect x="1307.44" y="766.82" width="13.95" height="30.8" fill="#fafbc1"/>
<rect x="1335.49" y="766.82" width="14.15" height="30.8" fill="#e8f0c6"/>
<rect x="1351.89" y="766.82" width="13.95" height="30.8" fill="#f1f5c4"/>
<rect x="1379.95" y="766.82" width="14.15" height="30.8" fill="#e2ecc8"/>
<rect x="1396.35" y="766.82" width="13.95" height="30.8" fill="#e8f0c6"/>
<rect x="1424.4" y="766.82" width="14.15" height="30.8" fill="#dce8ca"/>
<rect x="1440.8" y="766.82" width="13.95" height="30.8" fill="#d7e5cb"/>
<rect x="1468.86" y="766.82" width="14.15" height="30.8" fill="#dce8ca"/>
<rect x="1485.26" y="766.82" width="13.95" height="30.8" fill="#c9ddcf"/>
<rect x="1513.31" y="766.82" width="14.15" height="30.8" fill="#d7e5cb"/>
<rect x="1529.71" y="766.82" width="13.95" height="30.8" fill="#c9ddcf"/>
<rect x="1557.77" y="766.82" width="14.15" height="30.8" fill="#d7e5cb"/>
<rect x="1574.17" y="766.82" width="13.95" height="30.8" fill="#c2d8d1"/>
<rect x="1602.22" y="766.82" width="14.15" height="30.8" fill="#d7e5cb"/>
<rect x="1618.62" y="766.82" width="13.95" height="30.8" fill="#c9ddcf"/>
<rect x="1646.68" y="766.82" width="14.15" height="30.8" fill="#d7e5cb"/>
<rect x="1663.08" y="766.82" width="13.95" height="30.8" fill="#bad4d3"/>
<rect x="1691.13" y="766.82" width="14.15" height="30.8" fill="#e2ecc8"/>
<rect x="1707.53" y="766.82" width="13.95" height="30.8" fill="#c9ddcf"/>
<rect x="1735.59" y="766.82" width="14.15" height="30.8" fill="#e8f0c6"/>
<rect x="1751.99" y="766.82" width="13.95" height="30.8" fill="#d1e1cd"/>
<rect x="1780.04" y="766.82" width="14.15" height="30.8" fill="#e8f0c6"/>
<rect x="1796.44" y="766.82" width="13.95" height="30.8" fill="#dce8ca"/>
<rect x="1824.5" y="766.82" width="14.15" height="30.8" fill="#e2ecc8"/>
<rect x="1840.9" y="766.82" width="13.95" height="30.8" fill="#dce8ca"/>
<rect x="1868.95" y="766.82" width="14.15" height="30.8" fill="#e2ecc8"/>
<rect x="1885.36" y="766.82" width="13.95" height="30.8" fill="#d1e1cd"/>
<rect x="1913.41" y="766.82" width="14.15" height="30.8" fill="#dce8ca"/>
<rect x="1929.81" y="766.82" width="13.95" height="30.8" fill="#d1e1cd"/>
<rect x="1957.86" y="766.82" width="14.15" height="30.8" fill="#d7e5cb"/>
<rect x="1974.26" y="766.82" width="13.95" height="30.8" fill="#c2d8d1"/>
<rect x="490.85" y="799.7" width="14.15" height="30.8" fill="#d1e1cd"/>
<rect x="507.25" y="799.7" width="13.95" height="30.8" fill="#d1e1cd"/>
<rect x="535.31" y="799.7" width="14.15" height="30.8" fill="#d1e1cd"/>
<rect x="551.71" y="799.7" width="13.95" height="30.8" fill="#d1e1cd"/>
<rect x="579.76" y="799.7" width="14.15" height="30.8" fill="#d1e1cd"/>
<rect x="596.16" y="799.7" width="13.95" height="30.8" fill="#d1e1cd"/>
<rect x="624.22" y="799.7" width="14.15" height="30.8" fill="#d1e1cd"/>
<rect x="640.62" y="799.7" width="13.95" height="30.8" fill="#d1e1cd"/>
<rect x="668.67" y="799.7" width="14.15" height="30.8" fill="#d1e1cd"/>
<rect x="685.07" y="799.7" width="13.95" height="30.8" fill="#d1e1cd"/>
<rect x="713.12" y="799.7" width="14.15" height="30.8" fill="#d1e1cd"/>
<rect x="729.52" y="799.7" width="13.95" height="30.8" fill="#d1e1cd"/>
<rect x="757.58" y="799.7" width="14.15" height="30.8" fill="#d1e1cd"/>
<rect x="773.98" y="799.7" width="13.95" height="30.8" fill="#d1e1cd"/>
<rect x="802.03" y="799.7" width="14.15" height="30.8" fill="#d1e1cd"/>
<rect x="818.43" y="799.7" width="13.95" height="30.8" fill="#d1e1cd"/>
<rect x="846.49" y="799.7" width="14.15" height="30.8" fill="#d1e1cd"/>
<rect x="862.89" y="799.7" width="13.95" height="30.8" fill="#d1e1cd"/>
<rect x="890.95" y="799.7" width="14.15" height="30.8" fill="#d1e1cd"/>
<rect x="907.35" y="799.7" width="13.95" height="30.8" fill="#d1e1cd"/>
<rect x="935.4" y="799.7" width="14.15" height="30.8" fill="#d1e1cd"/>
<rect x="951.8" y="799.7" width="13.95" height="30.8" fill="#c9ddcf"/>
<rect x="979.86" y="799.7" width="14.15" height="30.8" fill="#d1e1cd"/>
<rect x="996.25" y="799.7" width="13.95" height="30.8" fill="#d1e1cd"/>
<rect x="1024.31" y="799.7" width="14.15" height="30.8" fill="#d7e5cb"/>
<rect x="1040.71" y="799.7" width="13.95" height="30.8" fill="#d7e5cb"/>
<rect x="1068.76" y="799.7" width="14.15" height="30.8" fill="#d7e5cb"/>
<rect x="1085.16" y="799.7" width="13.95" height="30.8" fill="#dce8ca"/>
<rect x="1113.22" y="799.7" width="14.15" height="30.8" fill="#dce8ca"/>
<rect x="1129.62" y="799.7" width="13.95" height="30.8" fill="#e2ecc8"/>
<rect x="1157.67" y="799.7" width="14.15" height="30.8" fill="#dce8ca"/>
<rect x="1174.07" y="799.7" width="13.95" height="30.8" fill="#e8f0c6"/>
<rect x="1202.13" y="799.7" width="14.15" height="30.8" fill="#dce8ca"/>
<rect x="1218.53" y="799.7" width="13.95" height="30.8" fill="#e8f0c6"/>
<rect x="1246.59" y="799.7" width="14.15" height="30.8" fill="#d7e5cb"/>
<rect x="1262.99" y="799.7" width="13.95" height="30.8" fill="#e2ecc8"/>
<rect x="1291.04" y="799.7" width="14.15" height="30.8" fill="#dce8ca"/>
<rect x="1307.44" y="799.7" width="13.95" height="30.8" fill="#e2ecc8"/>
<rect x="1335.49" y="799.7" width="14.15" height="30.8" fill="#dce8ca"/>
<rect x="1351.89" y="799.7" width="13.95" height="30.8" fill="#e2ecc8"/>
<rect x="1379.95" y="799.7" width="14.15" height="30.8" fill="#dce8ca"/>
<rect x="1396.35" y="799.7" width="13.95" height="30.8" fill="#e2ecc8"/>
<rect x="1424.4" y="799.7" width="14.15" height="30.8" fill="#dce8ca"/>
<rect x="1440.8" y="799.7" width="13.95" height="30.8" fill="#e8f0c6"/>
<rect x="1468.86" y="799.7" width="14.15" height="30.8" fill="#dce8ca"/>
<rect x="1485.26" y="799.7" width="13.95" height="30.8" fill="#e8f0c6"/>
<rect x="1513.31" y="799.7" width="14.15" height="30.8" fill="#e2ecc8"/>
<rect x="1529.71" y="799.7" width="13.95" height="30.8" fill="#e8f0c6"/>
<rect x="1557.77" y="799.7" width="14.15" height="30.8" fill="#e2ecc8"/>
<rect x="1574.17" y="799.7" width="13.95" height="30.8" fill="#e8f0c6"/>
<rect x="1602.22" y="799.7" width="14.15" height="30.8" fill="#e2ecc8"/>
<rect x="1618.62" y="799.7" width="13.95" height="30.8" fill="#e8f0c6"/>
<rect x="1646.68" y="799.7" width="14.15" height="30.8" fill="#e8f0c6"/>
<rect x="1663.08" y="799.7" width="13.95" height="30.8" fill="#ecf3c5"/>
<rect x="1691.13" y="799.7" width="14.15" height="30.8" fill="#e8f0c6"/>
<rect x="1707.53" y="799.7" width="13.95" height="30.8" fill="#f1f5c4"/>
<rect x="1735.59" y="799.7" width="14.15" height="30.8" fill="#ecf3c5"/>
<rect x="1751.99" y="799.7" width="13.95" height="30.8" fill="#f1f5c4"/>
<rect x="1780.04" y="799.7" width="14.15" height="30.8" fill="#ecf3c5"/>
<rect x="1796.44" y="799.7" width="13.95" height="30.8" fill="#f5f8c2"/>
<rect x="1824.5" y="799.7" width="14.15" height="30.8" fill="#e8f0c6"/>
<rect x="1840.9" y="799.7" width="13.95" height="30.8" fill="#f5f8c2"/>
<rect x="1868.95" y="799.7" width="14.15" height="30.8" fill="#e8f0c6"/>
<rect x="1885.36" y="799.7" width="13.95" height="30.8" fill="#f1f5c4"/>
<rect x="1913.41" y="799.7" width="14.15" height="30.8" fill="#e8f0c6"/>
<rect x="1929.81" y="799.7" width="13.95" height="30.8" fill="#ecf3c5"/>
<rect x="1957.86" y="799.7" width="14.15" height="30.8" fill="#e8f0c6"/>
<rect x="1974.26" y="799.7" width="13.95" height="30.8" fill="#ecf3c5"/>
<rect x="490.85" y="832.58" width="14.15" height="30.8" fill="#dce8ca"/>
<rect x="507.25" y="832.58" width="13.95" height="30.8" fill="#e2ecc8"/>
<rect x="535.31" y="832.58" width="14.15" height="30.8" fill="#dce8ca"/>
<rect x="551.71" y="832.58" width="13.95" height="30.8" fill="#e2ecc8"/>
<rect x="579.76" y="832.58" width="14.15" height="30.8" fill="#dce8ca"/>
<rect x="596.16" y="832.58" width="13.95" height="30.8" fill="#dce8ca"/>
<rect x="624.22" y="832.58" width="14.15" height="30.8" fill="#dce8ca"/>
<rect x="640.62" y="832.58" width="13.95" height="30.8" fill="#dce8ca"/>
<rect x="668.67" y="832.58" width="14.15" height="30.8" fill="#e2ecc8"/>
<rect x="685.07" y="832.58" width="13.95" height="30.8" fill="#e2ecc8"/>
<rect x="713.12" y="832.58" width="14.15" height="30.8" fill="#e2ecc8"/>
<rect x="729.52" y="832.58" width="13.95" height="30.8" fill="#e8f0c6"/>
<rect x="757.58" y="832.58" width="14.15" height="30.8" fill="#e2ecc8"/>
<rect x="773.98" y="832.58" width="13.95" height="30.8" fill="#e8f0c6"/>
<rect x="802.03" y="832.58" width="14.15" height="30.8" fill="#dce8ca"/>
<rect x="818.43" y="832.58" width="13.95" height="30.8" fill="#e2ecc8"/>
<rect x="846.49" y="832.58" width="14.15" height="30.8" fill="#dce8ca"/>
<rect x="862.89" y="832.58" width="13.95" height="30.8" fill="#dce8ca"/>
<rect x="890.95" y="832.58" width="14.15" height="30.8" fill="#d7e5cb"/>
<rect x="907.35" y="832.58" width="13.95" height="30.8" fill="#dce8ca"/>
<rect x="935.4" y="832.58" width="14.15" height="30.8" fill="#d7e5cb"/>
<rect x="951.8" y="832.58" width="13.95" height="30.8" fill="#d7e5cb"/>
<rect x="979.86" y="832.58" width="14.15" height="30.8" fill="#d7e5cb"/>
<rect x="996.25" y="832.58" width="13.95" height="30.8" fill="#dce8ca"/>
<rect x="1024.31" y="832.58" width="14.15" height="30.8" fill="#dce8ca"/>
<rect x="1040.71" y="832.58" width="13.95" height="30.8" fill="#dce8ca"/>
<rect x="1068.76" y="832.58" width="14.15" height="30.8" fill="#e2ecc8"/>
<rect x="1085.16" y="832.58" width="13.95" height="30.8" fill="#e2ecc8"/>
<rect x="1113.22" y="832.58" width="14.15" height="30.8" fill="#e2ecc8"/>
<rect x="1129.62" y="832.58" width="13.95" height="30.8" fill="#e2ecc8"/>
<rect x="1157.67" y="832.58" width="14.15" height="30.8" fill="#e2ecc8"/>
<rect x="1174.07" y="832.58" width="13.95" height="30.8" fill="#e2ecc8"/>
<rect x="1202.13" y="832.58" width="14.15" height="30.8" fill="#e2ecc8"/>
<rect x="1218.53" y="832.58" width="13.95" height="30.8" fill="#e8f0c6"/>
<rect x="1246.59" y="832.58" width="14.15" height="30.8" fill="#e2ecc8"/>
<rect x="1262.99" y="832.58" width="13.95" height="30.8" fill="#ecf3c5"/>
<rect x="1291.04" y="832.58" width="14.15" height="30.8" fill="#ecf3c5"/>
<rect x="1307.44" y="832.58" width="13.95" height="30.8" fill="#ecf3c5"/>
<rect x="1335.49" y="832.58" width="14.15" height="30.8" fill="#e8f0c6"/>
<rect x="1351.89" y="832.58" width="13.95" height="30.8" fill="#f1f5c4"/>
<rect x="1379.95" y="832.58" width="14.15" height="30.8" fill="#e2ecc8"/>
<rect x="1396.35" y="832.58" width="13.95" height="30.8" fill="#ecf3c5"/>
<rect x="1424.4" y="832.58" width="14.15" height="30.8" fill="#dce8ca"/>
<rect x="1440.8" y="832.58" width="13.95" height="30.8" fill="#e2ecc8"/>
<rect x="1468.86" y="832.58" width="14.15" height="30.8" fill="#d7e5cb"/>
<rect x="1485.26" y="832.58" width="13.95" height="30.8" fill="#dce8ca"/>
<rect x="1513.31" y="832.58" width="14.15" height="30.8" fill="#d7e5cb"/>
<rect x="1529.71" y="832.58" width="13.95" height="30.8" fill="#d7e5cb"/>
<rect x="1557.77" y="832.58" width="14.15" height="30.8" fill="#dce8ca"/>
<rect x="1574.17" y="832.58" width="13.95" height="30.8" fill="#d7e5cb"/>
<rect x="1602.22" y="832.58" width="14.15" height="30.8" fill="#dce8ca"/>
<rect x="1618.62" y="832.58" width="13.95" height="30.8" fill="#dce8ca"/>
<rect x="1646.68" y="832.58" width="14.15" height="30.8" fill="#d7e5cb"/>
<rect x="1663.08" y="832.58" width="13.95" height="30.8" fill="#dce8ca"/>
<rect x="1691.13" y="832.58" width="14.15" height="30.8" fill="#d1e1cd"/>
<rect x="1707.53" y="832.58" width="13.95" height="30.8" fill="#d7e5cb"/>
<rect x="1735.59" y="832.58" width="14.15" height="30.8" fill="#d1e1cd"/>
<rect x="1751.99" y="832.58" width="13.95" height="30.8" fill="#d1e1cd"/>
<rect x="1780.04" y="832.58" width="14.15" height="30.8" fill="#c9ddcf"/>
<rect x="1796.44" y="832.58" width="13.95" height="30.8" fill="#d1e1cd"/>
<rect x="1824.5" y="832.58" width="14.15" height="30.8" fill="#c2d8d1"/>
<rect x="1840.9" y="832.58" width="13.95" height="30.8" fill="#c9ddcf"/>
<rect x="1868.95" y="832.58" width="14.15" height="30.8" fill="#c2d8d1"/>
<rect x="1885.36" y="832.58" width="13.95" height="30.8" fill="#c2d8d1"/>
<rect x="1913.41" y="832.58" width="14.15" height="30.8" fill="#bad4d3"/>
<rect x="1929.81" y="832.58" width="13.95" height="30.8" fill="#c2d8d1"/>
<rect x="1957.86" y="832.58" width="14.15" height="30.8" fill="#b3d0d4"/>
<rect x="1974.26" y="832.58" width="13.95" height="30.8" fill="#bad4d3"/>
<rect x="490.85" y="865.46" width="14.15" height="30.8" fill="#e2ecc8"/>
<rect x="507.25" y="865.46" width="13.95" height="30.8" fill="#e2ecc8"/>
<rect x="535.31" y="865.46" width="14.15" height="30.8" fill="#dce8ca"/>
<rect x="551.71" y="865.46" width="13.95" height="30.8" fill="#dce8ca"/>
<rect x="579.76" y="865.46" width="14.15" height="30.8" fill="#e2ecc8"/>
<rect x="596.16" y="865.46" width="13.95" height="30.8" fill="#dce8ca"/>
<rect x="624.22" y="865.46" width="14.15" height="30.8" fill="#e8f0c6"/>
<rect x="640.62" y="865.46" width="13.95" height="30.8" fill="#e2ecc8"/>
<rect x="668.67" y="865.46" width="14.15" height="30.8" fill="#ecf3c5"/>
<rect x="685.07" y="865.46" width="13.95" height="30.8" fill="#e8f0c6"/>
<rect x="713.12" y="865.46" width="14.15" height="30.8" fill="#e8f0c6"/>
<rect x="729.52" y="865.46" width="13.95" height="30.8" fill="#ecf3c5"/>
<rect x="757.58" y="865.46" width="14.15" height="30.8" fill="#e2ecc8"/>
<rect x="773.98" y="865.46" width="13.95" height="30.8" fill="#e2ecc8"/>
<rect x="802.03" y="865.46" width="14.15" height="30.8" fill="#e2ecc8"/>
<rect x="818.43" y="865.46" width="13.95" height="30.8" fill="#dce8ca"/>
<rect x="846.49" y="865.46" width="14.15" height="30.8" fill="#dce8ca"/>
<rect x="862.89" y="865.46" width="13.95" height="30.8" fill="#dce8ca"/>
<rect x="890.95" y="865.46" width="14.15" height="30.8" fill="#dce8ca"/>
<rect x="907.35" y="865.46" width="13.95" height="30.8" fill="#dce8ca"/>
<rect x="935.4" y="865.46" width="14.15" height="30.8" fill="#dce8ca"/>
<rect x="951.8" y="865.46" width="13.95" height="30.8" fill="#dce8ca"/>
<rect x="979.86" y="865.46" width="14.15" height="30.8" fill="#d7e5cb"/>
<rect x="996.25" y="865.46" width="13.95" height="30.8" fill="#d7e5cb"/>
<rect x="1024.31" y="865.46" width="14.15" height="30.8" fill="#d7e5cb"/>
<rect x="1040.71" y="865.46" width="13.95" height="30.8" fill="#d7e5cb"/>
<rect x="1068.76" y="865.46" width="14.15" height="30.8" fill="#d7e5cb"/>
<rect x="1085.16" y="865.46" width="13.95" height="30.8" fill="#d7e5cb"/>
<rect x="1113.22" y="865.46" width="14.15" height="30.8" fill="#d7e5cb"/>
<rect x="1129.62" y="865.46" width="13.95" height="30.8" fill="#d7e5cb"/>
<rect x="1157.67" y="865.46" width="14.15" height="30.8" fill="#d7e5cb"/>
<rect x="1174.07" y="865.46" width="13.95" height="30.8" fill="#d7e5cb"/>
<rect x="1202.13" y="865.46" width="14.15" height="30.8" fill="#d7e5cb"/>
<rect x="1218.53" y="865.46" width="13.95" height="30.8" fill="#d7e5cb"/>
<rect x="1246.59" y="865.46" width="14.15" height="30.8" fill="#d7e5cb"/>
<rect x="1262.99" y="865.46" width="13.95" height="30.8" fill="#d7e5cb"/>
<rect x="1291.04" y="865.46" width="14.15" height="30.8" fill="#d7e5cb"/>
<rect x="1307.44" y="865.46" width="13.95" height="30.8" fill="#dce8ca"/>
<rect x="1335.49" y="865.46" width="14.15" height="30.8" fill="#d7e5cb"/>
<rect x="1351.89" y="865.46" width="13.95" height="30.8" fill="#d7e5cb"/>
<rect x="1379.95" y="865.46" width="14.15" height="30.8" fill="#d7e5cb"/>
<rect x="1396.35" y="865.46" width="13.95" height="30.8" fill="#d7e5cb"/>
<rect x="1424.4" y="865.46" width="14.15" height="30.8" fill="#d7e5cb"/>
<rect x="1440.8" y="865.46" width="13.95" height="30.8" fill="#dce8ca"/>
<rect x="1468.86" y="865.46" width="14.15" height="30.8" fill="#d7e5cb"/>
<rect x="1485.26" y="865.46" width="13.95" height="30.8" fill="#d7e5cb"/>
<rect x="1513.31" y="865.46" width="14.15" height="30.8" fill="#d7e5cb"/>
<rect x="1529.71" y="865.46" width="13.95" height="30.8" fill="#d7e5cb"/>
<rect x="1557.77" y="865.46" width="14.15" height="30.8" fill="#d7e5cb"/>
<rect x="1574.17" y="865.46" width="13.95" height="30.8" fill="#d7e5cb"/>
<rect x="1602.22" y="865.46" width="14.15" height="30.8" fill="#d7e5cb"/>
<rect x="1618.62" y="865.46" width="13.95" height="30.8" fill="#d7e5cb"/>
<rect x="1646.68" y="865.46" width="14.15" height="30.8" fill="#d7e5cb"/>
<rect x="1663.08" y="865.46" width="13.95" height="30.8" fill="#dce8ca"/>
<rect x="1691.13" y="865.46" width="14.15" height="30.8" fill="#d7e5cb"/>
<rect x="1707.53" y="865.46" width="13.95" height="30.8" fill="#dce8ca"/>
<rect x="1735.59" y="865.46" width="14.15" height="30.8" fill="#d7e5cb"/>
<rect x="1751.99" y="865.46" width="13.95" height="30.8" fill="#d7e5cb"/>
<rect x="1780.04" y="865.46" width="14.15" height="30.8" fill="#d1e1cd"/>
<rect x="1796.44" y="865.46" width="13.95" height="30.8" fill="#d7e5cb"/>
<rect x="1824.5" y="865.46" width="14.15" height="30.8" fill="#d1e1cd"/>
<rect x="1840.9" y="865.46" width="13.95" height="30.8" fill="#d7e5cb"/>
<rect x="1868.95" y="865.46" width="14.15" height="30.8" fill="#d7e5cb"/>
<rect x="1885.36" y="865.46" width="13.95" height="30.8" fill="#d7e5cb"/>
<rect x="1913.41" y="865.46" width="14.15" height="30.8" fill="#d7e5cb"/>
<rect x="1929.81" y="865.46" width="13.95" height="30.8" fill="#d7e5cb"/>
<rect x="1957.86" y="865.46" width="14.15" height="30.8" fill="#dce8ca"/>
<rect x="1974.26" y="865.46" width="13.95" height="30.8" fill="#dce8ca"/>
<rect x="490.85" y="898.34" width="14.15" height="30.8" fill="#f5f8c2"/>
<rect x="507.25" y="898.34" width="13.95" height="30.8" fill="#fafbc1"/>
<rect x="535.31" y="898.34" width="14.15" height="30.8" fill="#f5f8c2"/>
<rect x="551.71" y="898.34" width="13.95" height="30.8" fill="#f5f8c2"/>
<rect x="579.76" y="898.34" width="14.15" height="30.8" fill="#f1f5c4"/>
<rect x="596.16" y="898.34" width="13.95" height="30.8" fill="#f1f5c4"/>
<rect x="624.22" y="898.34" width="14.15" height="30.8" fill="#f1f5c4"/>
<rect x="640.62" y="898.34" width="13.95" height="30.8" fill="#f1f5c4"/>
<rect x="668.67" y="898.34" width="14.15" height="30.8" fill="#f5f8c2"/>
<rect x="685.07" y="898.34" width="13.95" height="30.8" fill="#f1f5c4"/>
<rect x="713.12" y="898.34" width="14.15" height="30.8" fill="#f1f5c4"/>
<rect x="729.52" y="898.34" width="13.95" height="30.8" fill="#f5f8c2"/>
<rect x="757.58" y="898.34" width="14.15" height="30.8" fill="#f1f5c4"/>
<rect x="773.98" y="898.34" width="13.95" height="30.8" fill="#f1f5c4"/>
<rect x="802.03" y="898.34" width="14.15" height="30.8" fill="#f1f5c4"/>
<rect x="818.43" y="898.34" width="13.95" height="30.8" fill="#f1f5c4"/>
<rect x="846.49" y="898.34" width="14.15" height="30.8" fill="#ecf3c5"/>
<rect x="862.89" y="898.34" width="13.95" height="30.8" fill="#ecf3c5"/>
<rect x="890.95" y="898.34" width="14.15" height="30.8" fill="#ecf3c5"/>
<rect x="907.35" y="898.34" width="13.95" height="30.8" fill="#ecf3c5"/>
<rect x="935.4" y="898.34" width="14.15" height="30.8" fill="#ecf3c5"/>
<rect x="951.8" y="898.34" width="13.95" height="30.8" fill="#ecf3c5"/>
<rect x="979.86" y="898.34" width="14.15" height="30.8" fill="#e2ecc8"/>
<rect x="996.25" y="898.34" width="13.95" height="30.8" fill="#e8f0c6"/>
<rect x="1024.31" y="898.34" width="14.15" height="30.8" fill="#d7e5cb"/>
<rect x="1040.71" y="898.34" width="13.95" height="30.8" fill="#d7e5cb"/>
<rect x="1068.76" y="898.34" width="14.15" height="30.8" fill="#c9ddcf"/>
<rect x="1085.16" y="898.34" width="13.95" height="30.8" fill="#d1e1cd"/>
<rect x="1113.22" y="898.34" width="14.15" height="30.8" fill="#c2d8d1"/>
<rect x="1129.62" y="898.34" width="13.95" height="30.8" fill="#c2d8d1"/>
<rect x="1157.67" y="898.34" width="14.15" height="30.8" fill="#c2d8d1"/>
<rect x="1174.07" y="898.34" width="13.95" height="30.8" fill="#c2d8d1"/>
<rect x="1202.13" y="898.34" width="14.15" height="30.8" fill="#c2d8d1"/>
<rect x="1218.53" y="898.34" width="13.95" height="30.8" fill="#c2d8d1"/>
<rect x="1246.59" y="898.34" width="14.15" height="30.8" fill="#c2d8d1"/>
<rect x="1262.99" y="898.34" width="13.95" height="30.8" fill="#c2d8d1"/>
<rect x="1291.04" y="898.34" width="14.15" height="30.8" fill="#c2d8d1"/>
<rect x="1307.44" y="898.34" width="13.95" height="30.8" fill="#c9ddcf"/>
<rect x="1335.49" y="898.34" width="14.15" height="30.8" fill="#c9ddcf"/>
<rect x="1351.89" y="898.34" width="13.95" height="30.8" fill="#c9ddcf"/>
<rect x="1379.95" y="898.34" width="14.15" height="30.8" fill="#c9ddcf"/>
<rect x="1396.35" y="898.34" width="13.95" height="30.8" fill="#c9ddcf"/>
<rect x="1424.4" y="898.34" width="14.15" height="30.8" fill="#d1e1cd"/>
<rect x="1440.8" y="898.34" width="13.95" height="30.8" fill="#d1e1cd"/>
<rect x="1468.86" y="898.34" width="14.15" height="30.8" fill="#d1e1cd"/>
<rect x="1485.26" y="898.34" width="13.95" height="30.8" fill="#d1e1cd"/>
<rect x="1513.31" y="898.34" width="14.15" height="30.8" fill="#d7e5cb"/>
<rect x="1529.71" y="898.34" width="13.95" height="30.8" fill="#d7e5cb"/>
<rect x="1557.77" y="898.34" width="14.15" height="30.8" fill="#d7e5cb"/>
<rect x="1574.17" y="898.34" width="13.95" height="30.8" fill="#d7e5cb"/>
<rect x="1602.22" y="898.34" width="14.15" height="30.8" fill="#d7e5cb"/>
<rect x="1618.62" y="898.34" width="13.95" height="30.8" fill="#d7e5cb"/>
<rect x="1646.68" y="898.34" width="14.15" height="30.8" fill="#d1e1cd"/>
<rect x="1663.08" y="898.34" width="13.95" height="30.8" fill="#d7e5cb"/>
<rect x="1691.13" y="898.34" width="14.15" height="30.8" fill="#c9ddcf"/>
<rect x="1707.53" y="898.34" width="13.95" height="30.8" fill="#c9ddcf"/>
<rect x="1735.59" y="898.34" width="14.15" height="30.8" fill="#c9ddcf"/>
<rect x="1751.99" y="898.34" width="13.95" height="30.8" fill="#c9ddcf"/>
<rect x="1780.04" y="898.34" width="14.15" height="30.8" fill="#c9ddcf"/>
<rect x="1796.44" y="898.34" width="13.95" height="30.8" fill="#c9ddcf"/>
<rect x="1824.5" y="898.34" width="14.15" height="30.8" fill="#c9ddcf"/>
<rect x="1840.9" y="898.34" width="13.95" height="30.8" fill="#c9ddcf"/>
<rect x="1868.95" y="898.34" width="14.15" height="30.8" fill="#c9ddcf"/>
<rect x="1885.36" y="898.34" width="13.95" height="30.8" fill="#c9ddcf"/>
<rect x="1913.41" y="898.34" width="14.15" height="30.8" fill="#c9ddcf"/>
<rect x="1929.81" y="898.34" width="13.95" height="30.8" fill="#c9ddcf"/>
<rect x="1957.86" y="898.34" width="14.15" height="30.8" fill="#c9ddcf"/>
<rect x="1974.26" y="898.34" width="13.95" height="30.8" fill="#c9ddcf"/>
<rect x="490.85" y="931.22" width="14.15" height="30.8" fill="#c2d8d1"/>
<rect x="507.25" y="931.22" width="13.95" height="30.8" fill="#c9ddcf"/>
<rect x="535.31" y="931.22" width="14.15" height="30.8" fill="#c9ddcf"/>
<rect x="551.71" y="931.22" width="13.95" height="30.8" fill="#c9ddcf"/>
<rect x="579.76" y="931.22" width="14.15" height="30.8" fill="#c9ddcf"/>
<rect x="596.16" y="931.22" width="13.95" height="30.8" fill="#c2d8d1"/>
<rect x="624.22" y="931.22" width="14.15" height="30.8" fill="#d1e1cd"/>
<rect x="640.62" y="931.22" width="13.95" height="30.8" fill="#c9ddcf"/>
<rect x="668.67" y="931.22" width="14.15" height="30.8" fill="#d7e5cb"/>
<rect x="685.07" y="931.22" width="13.95" height="30.8" fill="#d1e1cd"/>
<rect x="713.12" y="931.22" width="14.15" height="30.8" fill="#d7e5cb"/>
<rect x="729.52" y="931.22" width="13.95" height="30.8" fill="#d7e5cb"/>
<rect x="757.58" y="931.22" width="14.15" height="30.8" fill="#d7e5cb"/>
<rect x="773.98" y="931.22" width="13.95" height="30.8" fill="#d7e5cb"/>
<rect x="802.03" y="931.22" width="14.15" height="30.8" fill="#d7e5cb"/>
<rect x="818.43" y="931.22" width="13.95" height="30.8" fill="#d7e5cb"/>
<rect x="846.49" y="931.22" width="14.15" height="30.8" fill="#d7e5cb"/>
<rect x="862.89" y="931.22" width="13.95" height="30.8" fill="#d7e5cb"/>
<rect x="890.95" y="931.22" width="14.15" height="30.8" fill="#dce8ca"/>
<rect x="907.35" y="931.22" width="13.95" height="30.8" fill="#d7e5cb"/>
<rect x="935.4" y="931.22" width="14.15" height="30.8" fill="#e2ecc8"/>
<rect x="951.8" y="931.22" width="13.95" height="30.8" fill="#dce8ca"/>
<rect x="979.86" y="931.22" width="14.15" height="30.8" fill="#e2ecc8"/>
<rect x="996.25" y="931.22" width="13.95" height="30.8" fill="#e2ecc8"/>
<rect x="1024.31" y="931.22" width="14.15" height="30.8" fill="#e2ecc8"/>
<rect x="1040.71" y="931.22" width="13.95" height="30.8" fill="#e2ecc8"/>
<rect x="1068.76" y="931.22" width="14.15" height="30.8" fill="#e2ecc8"/>
<rect x="1085.16" y="931.22" width="13.95" height="30.8" fill="#e2ecc8"/>
<rect x="1113.22" y="931.22" width="14.15" height="30.8" fill="#e2ecc8"/>
<rect x="1129.62" y="931.22" width="13.95" height="30.8" fill="#e2ecc8"/>
<rect x="1157.67" y="931.22" width="14.15" height="30.8" fill="#e2ecc8"/>
<rect x="1174.07" y="931.22" width="13.95" height="30.8" fill="#e2ecc8"/>
<rect x="1202.13" y="931.22" width="14.15" height="30.8" fill="#e2ecc8"/>
<rect x="1218.53" y="931.22" width="13.95" height="30.8" fill="#e8f0c6"/>
<rect x="1246.59" y="931.22" width="14.15" height="30.8" fill="#e2ecc8"/>
<rect x="1262.99" y="931.22" width="13.95" height="30.8" fill="#e2ecc8"/>
<rect x="1291.04" y="931.22" width="14.15" height="30.8" fill="#e2ecc8"/>
<rect x="1307.44" y="931.22" width="13.95" height="30.8" fill="#e2ecc8"/>
<rect x="1335.49" y="931.22" width="14.15" height="30.8" fill="#e8f0c6"/>
<rect x="1351.89" y="931.22" width="13.95" height="30.8" fill="#e2ecc8"/>
<rect x="1379.95" y="931.22" width="14.15" height="30.8" fill="#e2ecc8"/>
<rect x="1396.35" y="931.22" width="13.95" height="30.8" fill="#e2ecc8"/>
<rect x="1424.4" y="931.22" width="14.15" height="30.8" fill="#e2ecc8"/>
<rect x="1440.8" y="931.22" width="13.95" height="30.8" fill="#e2ecc8"/>
<rect x="1468.86" y="931.22" width="14.15" height="30.8" fill="#dce8ca"/>
<rect x="1485.26" y="931.22" width="13.95" height="30.8" fill="#dce8ca"/>
<rect x="1513.31" y="931.22" width="14.15" height="30.8" fill="#dce8ca"/>
<rect x="1529.71" y="931.22" width="13.95" height="30.8" fill="#dce8ca"/>
<rect x="1557.77" y="931.22" width="14.15" height="30.8" fill="#dce8ca"/>
<rect x="1574.17" y="931.22" width="13.95" height="30.8" fill="#dce8ca"/>
<rect x="1602.22" y="931.22" width="14.15" height="30.8" fill="#dce8ca"/>
<rect x="1618.62" y="931.22" width="13.95" height="30.8" fill="#dce8ca"/>
<rect x="1646.68" y="931.22" width="14.15" height="30.8" fill="#dce8ca"/>
<rect x="1663.08" y="931.22" width="13.95" height="30.8" fill="#dce8ca"/>
<rect x="1691.13" y="931.22" width="14.15" height="30.8" fill="#d7e5cb"/>
<rect x="1707.53" y="931.22" width="13.95" height="30.8" fill="#dce8ca"/>
<rect x="1735.59" y="931.22" width="14.15" height="30.8" fill="#d7e5cb"/>
<rect x="1751.99" y="931.22" width="13.95" height="30.8" fill="#d7e5cb"/>
<rect x="1780.04" y="931.22" width="14.15" height="30.8" fill="#d1e1cd"/>
<rect x="1796.44" y="931.22" width="13.95" height="30.8" fill="#d7e5cb"/>
<rect x="1824.5" y="931.22" width="14.15" height="30.8" fill="#c9ddcf"/>
<rect x="1840.9" y="931.22" width="13.95" height="30.8" fill="#d1e1cd"/>
<rect x="1868.95" y="931.22" width="14.15" height="30.8" fill="#c9ddcf"/>
<rect x="1885.36" y="931.22" width="13.95" height="30.8" fill="#d1e1cd"/>
<rect x="1913.41" y="931.22" width="14.15" height="30.8" fill="#c9ddcf"/>
<rect x="1929.81" y="931.22" width="13.95" height="30.8" fill="#d1e1cd"/>
<rect x="1957.86" y="931.22" width="14.15" height="30.8" fill="#c9ddcf"/>
<rect x="1974.26" y="931.22" width="13.95" height="30.8" fill="#d1e1cd"/>
<rect x="490.85" y="964.1" width="14.15" height="30.8" fill="#e8f0c6"/>
<rect x="507.25" y="964.1" width="13.95" height="30.8" fill="#e8f0c6"/>
<rect x="535.31" y="964.1" width="14.15" height="30.8" fill="#e2ecc8"/>
<rect x="551.71" y="964.1" width="13.95" height="30.8" fill="#e8f0c6"/>
<rect x="579.76" y="964.1" width="14.15" height="30.8" fill="#dce8ca"/>
<rect x="596.16" y="964.1" width="13.95" height="30.8" fill="#e2ecc8"/>
<rect x="624.22" y="964.1" width="14.15" height="30.8" fill="#d7e5cb"/>
<rect x="640.62" y="964.1" width="13.95" height="30.8" fill="#d7e5cb"/>
<rect x="668.67" y="964.1" width="14.15" height="30.8" fill="#d1e1cd"/>
<rect x="685.07" y="964.1" width="13.95" height="30.8" fill="#d1e1cd"/>
<rect x="713.12" y="964.1" width="14.15" height="30.8" fill="#c9ddcf"/>
<rect x="729.52" y="964.1" width="13.95" height="30.8" fill="#c9ddcf"/>
<rect x="757.58" y="964.1" width="14.15" height="30.8" fill="#d1e1cd"/>
<rect x="773.98" y="964.1" width="13.95" height="30.8" fill="#d1e1cd"/>
<rect x="802.03" y="964.1" width="14.15" height="30.8" fill="#d1e1cd"/>
<rect x="818.43" y="964.1" width="13.95" height="30.8" fill="#d1e1cd"/>
<rect x="846.49" y="964.1" width="14.15" height="30.8" fill="#d1e1cd"/>
<rect x="862.89" y="964.1" width="13.95" height="30.8" fill="#d1e1cd"/>
<rect x="890.95" y="964.1" width="14.15" height="30.8" fill="#c9ddcf"/>
<rect x="907.35" y="964.1" width="13.95" height="30.8" fill="#d1e1cd"/>
<rect x="935.4" y="964.1" width="14.15" height="30.8" fill="#c9ddcf"/>
<rect x="951.8" y="964.1" width="13.95" height="30.8" fill="#c9ddcf"/>
<rect x="979.86" y="964.1" width="14.15" height="30.8" fill="#c9ddcf"/>
<rect x="996.25" y="964.1" width="13.95" height="30.8" fill="#c2d8d1"/>
<rect x="1024.31" y="964.1" width="14.15" height="30.8" fill="#d1e1cd"/>
<rect x="1040.71" y="964.1" width="13.95" height="30.8" fill="#d1e1cd"/>
<rect x="1068.76" y="964.1" width="14.15" height="30.8" fill="#d7e5cb"/>
<rect x="1085.16" y="964.1" width="13.95" height="30.8" fill="#d7e5cb"/>
<rect x="1113.22" y="964.1" width="14.15" height="30.8" fill="#d7e5cb"/>
<rect x="1129.62" y="964.1" width="13.95" height="30.8" fill="#d7e5cb"/>
<rect x="1157.67" y="964.1" width="14.15" height="30.8" fill="#d7e5cb"/>
<rect x="1174.07" y="964.1" width="13.95" height="30.8" fill="#dce8ca"/>
<rect x="1202.13" y="964.1" width="14.15" height="30.8" fill="#d7e5cb"/>
<rect x="1218.53" y="964.1" width="13.95" height="30.8" fill="#d7e5cb"/>
<rect x="1246.59" y="964.1" width="14.15" height="30.8" fill="#d7e5cb"/>
<rect x="1262.99" y="964.1" width="13.95" height="30.8" fill="#d1e1cd"/>
<rect x="1291.04" y="964.1" width="14.15" height="30.8" fill="#d7e5cb"/>
<rect x="1307.44" y="964.1" width="13.95" height="30.8" fill="#d7e5cb"/>
<rect x="1335.49" y="964.1" width="14.15" height="30.8" fill="#d7e5cb"/>
<rect x="1351.89" y="964.1" width="13.95" height="30.8" fill="#d7e5cb"/>
<rect x="1379.95" y="964.1" width="14.15" height="30.8" fill="#d7e5cb"/>
<rect x="1396.35" y="964.1" width="13.95" height="30.8" fill="#dce8ca"/>
<rect x="1424.4" y="964.1" width="14.15" height="30.8" fill="#d7e5cb"/>
<rect x="1440.8" y="964.1" width="13.95" height="30.8" fill="#d7e5cb"/>
<rect x="1468.86" y="964.1" width="14.15" height="30.8" fill="#dce8ca"/>
<rect x="1485.26" y="964.1" width="13.95" height="30.8" fill="#dce8ca"/>
<rect x="1513.31" y="964.1" width="14.15" height="30.8" fill="#e2ecc8"/>
<rect x="1529.71" y="964.1" width="13.95" height="30.8" fill="#e2ecc8"/>
<rect x="1557.77" y="964.1" width="14.15" height="30.8" fill="#e2ecc8"/>
<rect x="1574.17" y="964.1" width="13.95" height="30.8" fill="#e2ecc8"/>
<rect x="1602.22" y="964.1" width="14.15" height="30.8" fill="#e2ecc8"/>
<rect x="1618.62" y="964.1" width="13.95" height="30.8" fill="#e2ecc8"/>
<rect x="1646.68" y="964.1" width="14.15" height="30.8" fill="#e2ecc8"/>
<rect x="1663.08" y="964.1" width="13.95" height="30.8" fill="#e2ecc8"/>
<rect x="1691.13" y="964.1" width="14.15" height="30.8" fill="#e2ecc8"/>
<rect x="1707.53" y="964.1" width="13.95" height="30.8" fill="#e2ecc8"/>
<rect x="1735.59" y="964.1" width="14.15" height="30.8" fill="#e2ecc8"/>
<rect x="1751.99" y="964.1" width="13.95" height="30.8" fill="#e8f0c6"/>
<rect x="1780.04" y="964.1" width="14.15" height="30.8" fill="#dce8ca"/>
<rect x="1796.44" y="964.1" width="13.95" height="30.8" fill="#e8f0c6"/>
<rect x="1824.5" y="964.1" width="14.15" height="30.8" fill="#dce8ca"/>
<rect x="1840.9" y="964.1" width="13.95" height="30.8" fill="#dce8ca"/>
<rect x="1868.95" y="964.1" width="14.15" height="30.8" fill="#d7e5cb"/>
<rect x="1885.36" y="964.1" width="13.95" height="30.8" fill="#d7e5cb"/>
<rect x="1913.41" y="964.1" width="14.15" height="30.8" fill="#d1e1cd"/>
<rect x="1929.81" y="964.1" width="13.95" height="30.8" fill="#d1e1cd"/>
<rect x="1957.86" y="964.1" width="14.15" height="30.8" fill="#d1e1cd"/>
<rect x="1974.26" y="964.1" width="13.95" height="30.8" fill="#d1e1cd"/>
<rect x="490.85" y="996.98" width="14.15" height="30.8" fill="#c2d8d1"/>
<rect x="507.25" y="996.98" width="13.95" height="30.8" fill="#c2d8d1"/>
<rect x="535.31" y="996.98" width="14.15" height="30.8" fill="#c2d8d1"/>
<rect x="551.71" y="996.98" width="13.95" height="30.8" fill="#c2d8d1"/>
<rect x="579.76" y="996.98" width="14.15" height="30.8" fill="#c9ddcf"/>
<rect x="596.16" y="996.98" width="13.95" height="30.8" fill="#c2d8d1"/>
<rect x="624.22" y="996.98" width="14.15" height="30.8" fill="#c9ddcf"/>
<rect x="640.62" y="996.98" width="13.95" height="30.8" fill="#c9ddcf"/>
<rect x="668.67" y="996.98" width="14.15" height="30.8" fill="#c9ddcf"/>
<rect x="685.07" y="996.98" width="13.95" height="30.8" fill="#d1e1cd"/>
<rect x="713.12" y="996.98" width="14.15" height="30.8" fill="#d1e1cd"/>
<rect x="729.52" y="996.98" width="13.95" height="30.8" fill="#d7e5cb"/>
<rect x="757.58" y="996.98" width="14.15" height="30.8" fill="#d7e5cb"/>
<rect x="773.98" y="996.98" width="13.95" height="30.8" fill="#d7e5cb"/>
<rect x="802.03" y="996.98" width="14.15" height="30.8" fill="#d7e5cb"/>
<rect x="818.43" y="996.98" width="13.95" height="30.8" fill="#d7e5cb"/>
<rect x="846.49" y="996.98" width="14.15" height="30.8" fill="#d7e5cb"/>
<rect x="862.89" y="996.98" width="13.95" height="30.8" fill="#d7e5cb"/>
<rect x="890.95" y="996.98" width="14.15" height="30.8" fill="#d7e5cb"/>
<rect x="907.35" y="996.98" width="13.95" height="30.8" fill="#d7e5cb"/>
<rect x="935.4" y="996.98" width="14.15" height="30.8" fill="#d7e5cb"/>
<rect x="951.8" y="996.98" width="13.95" height="30.8" fill="#d7e5cb"/>
<rect x="979.86" y="996.98" width="14.15" height="30.8" fill="#dce8ca"/>
<rect x="996.25" y="996.98" width="13.95" height="30.8" fill="#d7e5cb"/>
<rect x="1024.31" y="996.98" width="14.15" height="30.8" fill="#e2ecc8"/>
<rect x="1040.71" y="996.98" width="13.95" height="30.8" fill="#dce8ca"/>
<rect x="1068.76" y="996.98" width="14.15" height="30.8" fill="#e8f0c6"/>
<rect x="1085.16" y="996.98" width="13.95" height="30.8" fill="#e2ecc8"/>
<rect x="1113.22" y="996.98" width="14.15" height="30.8" fill="#ecf3c5"/>
<rect x="1129.62" y="996.98" width="13.95" height="30.8" fill="#ecf3c5"/>
<rect x="1157.67" y="996.98" width="14.15" height="30.8" fill="#ecf3c5"/>
<rect x="1174.07" y="996.98" width="13.95" height="30.8" fill="#f1f5c4"/>
<rect x="1202.13" y="996.98" width="14.15" height="30.8" fill="#e8f0c6"/>
<rect x="1218.53" y="996.98" width="13.95" height="30.8" fill="#ecf3c5"/>
<rect x="1246.59" y="996.98" width="14.15" height="30.8" fill="#e8f0c6"/>
<rect x="1262.99" y="996.98" width="13.95" height="30.8" fill="#e8f0c6"/>
<rect x="1291.04" y="996.98" width="14.15" height="30.8" fill="#e8f0c6"/>
<rect x="1307.44" y="996.98" width="13.95" height="30.8" fill="#e8f0c6"/>
<rect x="1335.49" y="996.98" width="14.15" height="30.8" fill="#e2ecc8"/>
<rect x="1351.89" y="996.98" width="13.95" height="30.8" fill="#e2ecc8"/>
<rect x="1379.95" y="996.98" width="14.15" height="30.8" fill="#e2ecc8"/>
<rect x="1396.35" y="996.98" width="13.95" height="30.8" fill="#e2ecc8"/>
<rect x="1424.4" y="996.98" width="14.15" height="30.8" fill="#dce8ca"/>
<rect x="1440.8" y="996.98" width="13.95" height="30.8" fill="#e2ecc8"/>
<rect x="1468.86" y="996.98" width="14.15" height="30.8" fill="#dce8ca"/>
<rect x="1485.26" y="996.98" width="13.95" height="30.8" fill="#dce8ca"/>
<rect x="1513.31" y="996.98" width="14.15" height="30.8" fill="#dce8ca"/>
<rect x="1529.71" y="996.98" width="13.95" height="30.8" fill="#dce8ca"/>
<rect x="1557.77" y="996.98" width="14.15" height="30.8" fill="#d7e5cb"/>
<rect x="1574.17" y="996.98" width="13.95" height="30.8" fill="#d7e5cb"/>
<rect x="1602.22" y="996.98" width="14.15" height="30.8" fill="#d7e5cb"/>
<rect x="1618.62" y="996.98" width="13.95" height="30.8" fill="#d7e5cb"/>
<rect x="1646.68" y="996.98" width="14.15" height="30.8" fill="#d7e5cb"/>
<rect x="1663.08" y="996.98" width="13.95" height="30.8" fill="#d1e1cd"/>
<rect x="1691.13" y="996.98" width="14.15" height="30.8" fill="#d7e5cb"/>
<rect x="1707.53" y="996.98" width="13.95" height="30.8" fill="#d7e5cb"/>
<rect x="1735.59" y="996.98" width="14.15" height="30.8" fill="#d1e1cd"/>
<rect x="1751.99" y="996.98" width="13.95" height="30.8" fill="#d7e5cb"/>
<rect x="1780.04" y="996.98" width="14.15" height="30.8" fill="#c9ddcf"/>
<rect x="1796.44" y="996.98" width="13.95" height="30.8" fill="#d1e1cd"/>
<rect x="1824.5" y="996.98" width="14.15" height="30.8" fill="#c9ddcf"/>
<rect x="1840.9" y="996.98" width="13.95" height="30.8" fill="#c9ddcf"/>
<rect x="1868.95" y="996.98" width="14.15" height="30.8" fill="#c9ddcf"/>
<rect x="1885.36" y="996.98" width="13.95" height="30.8" fill="#c2d8d1"/>
<rect x="1913.41" y="996.98" width="14.15" height="30.8" fill="#c9ddcf"/>
<rect x="1929.81" y="996.98" width="13.95" height="30.8" fill="#c9ddcf"/>
<rect x="1957.86" y="996.98" width="14.15" height="30.8" fill="#c9ddcf"/>
<rect x="1974.26" y="996.98" width="13.95" height="30.8" fill="#c9ddcf"/>
<rect x="490.85" y="1029.86" width="14.15" height="30.8" fill="#d7e5cb"/>
<rect x="507.25" y="1029.86" width="13.95" height="30.8" fill="#d1e1cd"/>
<rect x="535.31" y="1029.86" width="14.15" height="30.8" fill="#d7e5cb"/>
<rect x="551.71" y="1029.86" width="13.95" height="30.8" fill="#d7e5cb"/>
<rect x="579.76" y="1029.86" width="14.15" height="30.8" fill="#d7e5cb"/>
<rect x="596.16" y="1029.86" width="13.95" height="30.8" fill="#d7e5cb"/>
<rect x="624.22" y="1029.86" width="14.15" height="30.8" fill="#d7e5cb"/>
<rect x="640.62" y="1029.86" width="13.95" height="30.8" fill="#d7e5cb"/>
<rect x="668.67" y="1029.86" width="14.15" height="30.8" fill="#d1e1cd"/>
<rect x="685.07" y="1029.86" width="13.95" height="30.8" fill="#d1e1cd"/>
<rect x="713.12" y="1029.86" width="14.15" height="30.8" fill="#c9ddcf"/>
<rect x="729.52" y="1029.86" width="13.95" height="30.8" fill="#c2d8d1"/>
<rect x="757.58" y="1029.86" width="14.15" height="30.8" fill="#c2d8d1"/>
<rect x="773.98" y="1029.86" width="13.95" height="30.8" fill="#c2d8d1"/>
<rect x="802.03" y="1029.86" width="14.15" height="30.8" fill="#c2d8d1"/>
<rect x="818.43" y="1029.86" width="13.95" height="30.8" fill="#c2d8d1"/>
<rect x="846.49" y="1029.86" width="14.15" height="30.8" fill="#c3d9d0"/>
<rect x="862.89" y="1029.86" width="13.95" height="30.8" fill="#c5dad0"/>
<rect x="890.95" y="1029.86" width="14.15" height="30.8" fill="#c3d9d0"/>
<rect x="907.35" y="1029.86" width="13.95" height="30.8" fill="#c3d9d0"/>
<rect x="935.4" y="1029.86" width="14.15" height="30.8" fill="#bbd5d2"/>
<rect x="951.8" y="1029.86" width="13.95" height="30.8" fill="#bdd6d2"/>
<rect x="979.86" y="1029.86" width="14.15" height="30.8" fill="#bad4d3"/>
<rect x="996.25" y="1029.86" width="13.95" height="30.8" fill="#bdd6d2"/>
<rect x="1024.31" y="1029.86" width="14.15" height="30.8" fill="#b7d2d3"/>
<rect x="1040.71" y="1029.86" width="13.95" height="30.8" fill="#b7d2d3"/>
<rect x="1068.76" y="1029.86" width="14.15" height="30.8" fill="#c0d7d1"/>
<rect x="1085.16" y="1029.86" width="13.95" height="30.8" fill="#bbd5d2"/>
<rect x="1113.22" y="1029.86" width="14.15" height="30.8" fill="#c8dccf"/>
<rect x="1129.62" y="1029.86" width="13.95" height="30.8" fill="#c0d7d1"/>
<rect x="1157.67" y="1029.86" width="14.15" height="30.8" fill="#ccdece"/>
<rect x="1174.07" y="1029.86" width="13.95" height="30.8" fill="#c8dccf"/>
<rect x="1202.13" y="1029.86" width="14.15" height="30.8" fill="#d2e2cc"/>
<rect x="1218.53" y="1029.86" width="13.95" height="30.8" fill="#cbdece"/>
<rect x="1246.59" y="1029.86" width="14.15" height="30.8" fill="#d2e2cc"/>
<rect x="1262.99" y="1029.86" width="13.95" height="30.8" fill="#d1e1cd"/>
<rect x="1291.04" y="1029.86" width="14.15" height="30.8" fill="#d7e5cb"/>
<rect x="1307.44" y="1029.86" width="13.95" height="30.8" fill="#d7e5cb"/>
<rect x="1335.49" y="1029.86" width="14.15" height="30.8" fill="#e2ecc8"/>
<rect x="1351.89" y="1029.86" width="13.95" height="30.8" fill="#d7e5cb"/>
<rect x="1379.95" y="1029.86" width="14.15" height="30.8" fill="#e8f0c6"/>
<rect x="1396.35" y="1029.86" width="13.95" height="30.8" fill="#dce8ca"/>
<rect x="1424.4" y="1029.86" width="14.15" height="30.8" fill="#ecf3c5"/>
<rect x="1440.8" y="1029.86" width="13.95" height="30.8" fill="#dce8ca"/>
<rect x="1468.86" y="1029.86" width="14.15" height="30.8" fill="#ecf3c5"/>
<rect x="1485.26" y="1029.86" width="13.95" height="30.8" fill="#dce8ca"/>
<rect x="1513.31" y="1029.86" width="14.15" height="30.8" fill="#ecf3c5"/>
<rect x="1529.71" y="1029.86" width="13.95" height="30.8" fill="#dce8ca"/>
<rect x="1557.77" y="1029.86" width="14.15" height="30.8" fill="#ecf3c5"/>
<rect x="1574.17" y="1029.86" width="13.95" height="30.8" fill="#e2ecc8"/>
<rect x="1602.22" y="1029.86" width="14.15" height="30.8" fill="#e8f0c6"/>
<rect x="1618.62" y="1029.86" width="13.95" height="30.8" fill="#e2ecc8"/>
<rect x="1646.68" y="1029.86" width="14.15" height="30.8" fill="#e2ecc8"/>
<rect x="1663.08" y="1029.86" width="13.95" height="30.8" fill="#dce8ca"/>
<rect x="1691.13" y="1029.86" width="14.15" height="30.8" fill="#dce8ca"/>
<rect x="1707.53" y="1029.86" width="13.95" height="30.8" fill="#dce8ca"/>
<rect x="1735.59" y="1029.86" width="14.15" height="30.8" fill="#dce8ca"/>
<rect x="1751.99" y="1029.86" width="13.95" height="30.8" fill="#d7e5cb"/>
<rect x="1780.04" y="1029.86" width="14.15" height="30.8" fill="#dce8ca"/>
<rect x="1796.44" y="1029.86" width="13.95" height="30.8" fill="#d7e5cb"/>
<rect x="1824.5" y="1029.86" width="14.15" height="30.8" fill="#e2ecc8"/>
<rect x="1840.9" y="1029.86" width="13.95" height="30.8" fill="#dce8ca"/>
<rect x="1868.95" y="1029.86" width="14.15" height="30.8" fill="#ecf3c5"/>
<rect x="1885.36" y="1029.86" width="13.95" height="30.8" fill="#e2ecc8"/>
<rect x="1913.41" y="1029.86" width="14.15" height="30.8" fill="#f1f5c4"/>
<rect x="1929.81" y="1029.86" width="13.95" height="30.8" fill="#e2ecc8"/>
<rect x="1957.86" y="1029.86" width="14.15" height="30.8" fill="#f5f8c2"/>
<rect x="1974.26" y="1029.86" width="13.95" height="30.8" fill="#e8f0c6"/>
<rect x="490.85" y="1062.74" width="14.15" height="30.8" fill="#c2d8d1"/>
<rect x="507.25" y="1062.74" width="13.95" height="30.8" fill="#c9ddcf"/>
<rect x="535.31" y="1062.74" width="14.15" height="30.8" fill="#c2d8d1"/>
<rect x="551.71" y="1062.74" width="13.95" height="30.8" fill="#c9ddcf"/>
<rect x="579.76" y="1062.74" width="14.15" height="30.8" fill="#c2d8d1"/>
<rect x="596.16" y="1062.74" width="13.95" height="30.8" fill="#c9ddcf"/>
<rect x="624.22" y="1062.74" width="14.15" height="30.8" fill="#c2d8d1"/>
<rect x="640.62" y="1062.74" width="13.95" height="30.8" fill="#c9ddcf"/>
<rect x="668.67" y="1062.74" width="14.15" height="30.8" fill="#c9ddcf"/>
<rect x="685.07" y="1062.74" width="13.95" height="30.8" fill="#c9ddcf"/>
<rect x="713.12" y="1062.74" width="14.15" height="30.8" fill="#c9ddcf"/>
<rect x="729.52" y="1062.74" width="13.95" height="30.8" fill="#d1e1cd"/>
<rect x="757.58" y="1062.74" width="14.15" height="30.8" fill="#c2d8d1"/>
<rect x="773.98" y="1062.74" width="13.95" height="30.8" fill="#d1e1cd"/>
<rect x="802.03" y="1062.74" width="14.15" height="30.8" fill="#c2d8d1"/>
<rect x="818.43" y="1062.74" width="13.95" height="30.8" fill="#d1e1cd"/>
<rect x="846.49" y="1062.74" width="14.15" height="30.8" fill="#c2d8d1"/>
<rect x="862.89" y="1062.74" width="13.95" height="30.8" fill="#c9ddcf"/>
<rect x="890.95" y="1062.74" width="14.15" height="30.8" fill="#c9ddcf"/>
<rect x="907.35" y="1062.74" width="13.95" height="30.8" fill="#d1e1cd"/>
<rect x="935.4" y="1062.74" width="14.15" height="30.8" fill="#d1e1cd"/>
<rect x="951.8" y="1062.74" width="13.95" height="30.8" fill="#d7e5cb"/>
<rect x="979.86" y="1062.74" width="14.15" height="30.8" fill="#d7e5cb"/>
<rect x="996.25" y="1062.74" width="13.95" height="30.8" fill="#d7e5cb"/>
<rect x="1024.31" y="1062.74" width="14.15" height="30.8" fill="#d7e5cb"/>
<rect x="1040.71" y="1062.74" width="13.95" height="30.8" fill="#d7e5cb"/>
<rect x="1068.76" y="1062.74" width="14.15" height="30.8" fill="#d7e5cb"/>
<rect x="1085.16" y="1062.74" width="13.95" height="30.8" fill="#dce8ca"/>
<rect x="1113.22" y="1062.74" width="14.15" height="30.8" fill="#e2ecc8"/>
<rect x="1129.62" y="1062.74" width="13.95" height="30.8" fill="#e2ecc8"/>
<rect x="1157.67" y="1062.74" width="14.15" height="30.8" fill="#e2ecc8"/>
<rect x="1174.07" y="1062.74" width="13.95" height="30.8" fill="#e2ecc8"/>
<rect x="1202.13" y="1062.74" width="14.15" height="30.8" fill="#e2ecc8"/>
<rect x="1218.53" y="1062.74" width="13.95" height="30.8" fill="#e2ecc8"/>
<rect x="1246.59" y="1062.74" width="14.15" height="30.8" fill="#e2ecc8"/>
<rect x="1262.99" y="1062.74" width="13.95" height="30.8" fill="#e2ecc8"/>
<rect x="1291.04" y="1062.74" width="14.15" height="30.8" fill="#e2ecc8"/>
<rect x="1307.44" y="1062.74" width="13.95" height="30.8" fill="#e2ecc8"/>
<rect x="1335.49" y="1062.74" width="14.15" height="30.8" fill="#dce8ca"/>
<rect x="1351.89" y="1062.74" width="13.95" height="30.8" fill="#e2ecc8"/>
<rect x="1379.95" y="1062.74" width="14.15" height="30.8" fill="#d7e5cb"/>
<rect x="1396.35" y="1062.74" width="13.95" height="30.8" fill="#d7e5cb"/>
<rect x="1424.4" y="1062.74" width="14.15" height="30.8" fill="#d7e5cb"/>
<rect x="1440.8" y="1062.74" width="13.95" height="30.8" fill="#d7e5cb"/>
<rect x="1468.86" y="1062.74" width="14.15" height="30.8" fill="#d7e5cb"/>
<rect x="1485.26" y="1062.74" width="13.95" height="30.8" fill="#d7e5cb"/>
<rect x="1513.31" y="1062.74" width="14.15" height="30.8" fill="#d7e5cb"/>
<rect x="1529.71" y="1062.74" width="13.95" height="30.8" fill="#d7e5cb"/>
<rect x="1557.77" y="1062.74" width="14.15" height="30.8" fill="#d7e5cb"/>
<rect x="1574.17" y="1062.74" width="13.95" height="30.8" fill="#d7e5cb"/>
<rect x="1602.22" y="1062.74" width="14.15" height="30.8" fill="#d7e5cb"/>
<rect x="1618.62" y="1062.74" width="13.95" height="30.8" fill="#d7e5cb"/>
<rect x="1646.68" y="1062.74" width="14.15" height="30.8" fill="#dce8ca"/>
<rect x="1663.08" y="1062.74" width="13.95" height="30.8" fill="#d7e5cb"/>
<rect x="1691.13" y="1062.74" width="14.15" height="30.8" fill="#dce8ca"/>
<rect x="1707.53" y="1062.74" width="13.95" height="30.8" fill="#dce8ca"/>
<rect x="1735.59" y="1062.74" width="14.15" height="30.8" fill="#e2ecc8"/>
<rect x="1751.99" y="1062.74" width="13.95" height="30.8" fill="#e2ecc8"/>
<rect x="1780.04" y="1062.74" width="14.15" height="30.8" fill="#e2ecc8"/>
<rect x="1796.44" y="1062.74" width="13.95" height="30.8" fill="#e2ecc8"/>
<rect x="1824.5" y="1062.74" width="14.15" height="30.8" fill="#dce8ca"/>
<rect x="1840.9" y="1062.74" width="13.95" height="30.8" fill="#dce8ca"/>
<rect x="1868.95" y="1062.74" width="14.15" height="30.8" fill="#d7e5cb"/>
<rect x="1885.36" y="1062.74" width="13.95" height="30.8" fill="#d7e5cb"/>
<rect x="1913.41" y="1062.74" width="14.15" height="30.8" fill="#d7e5cb"/>
<rect x="1929.81" y="1062.74" width="13.95" height="30.8" fill="#d7e5cb"/>
<rect x="1957.86" y="1062.74" width="14.15" height="30.8" fill="#d7e5cb"/>
<rect x="1974.26" y="1062.74" width="13.95" height="30.8" fill="#d7e5cb"/>
<rect x="490.85" y="1095.62" width="14.15" height="30.8" fill="#c2d8d1"/>
<rect x="507.25" y="1095.62" width="13.95" height="30.8" fill="#bad4d3"/>
<rect x="535.31" y="1095.62" width="14.15" height="30.8" fill="#c2d8d1"/>
<rect x="551.71" y="1095.62" width="13.95" height="30.8" fill="#bad4d3"/>
<rect x="579.76" y="1095.62" width="14.15" height="30.8" fill="#c9ddcf"/>
<rect x="596.16" y="1095.62" width="13.95" height="30.8" fill="#bad4d3"/>
<rect x="624.22" y="1095.62" width="14.15" height="30.8" fill="#d1e1cd"/>
<rect x="640.62" y="1095.62" width="13.95" height="30.8" fill="#c2d8d1"/>
<rect x="668.67" y="1095.62" width="14.15" height="30.8" fill="#d7e5cb"/>
<rect x="685.07" y="1095.62" width="13.95" height="30.8" fill="#c9ddcf"/>
<rect x="713.12" y="1095.62" width="14.15" height="30.8" fill="#dce8ca"/>
<rect x="729.52" y="1095.62" width="13.95" height="30.8" fill="#d1e1cd"/>
<rect x="757.58" y="1095.62" width="14.15" height="30.8" fill="#d7e5cb"/>
<rect x="773.98" y="1095.62" width="13.95" height="30.8" fill="#d7e5cb"/>
<rect x="802.03" y="1095.62" width="14.15" height="30.8" fill="#d7e5cb"/>
<rect x="818.43" y="1095.62" width="13.95" height="30.8" fill="#d1e1cd"/>
<rect x="846.49" y="1095.62" width="14.15" height="30.8" fill="#d7e5cb"/>
<rect x="862.89" y="1095.62" width="13.95" height="30.8" fill="#d7e5cb"/>
<rect x="890.95" y="1095.62" width="14.15" height="30.8" fill="#d7e5cb"/>
<rect x="907.35" y="1095.62" width="13.95" height="30.8" fill="#d7e5cb"/>
<rect x="935.4" y="1095.62" width="14.15" height="30.8" fill="#dce8ca"/>
<rect x="951.8" y="1095.62" width="13.95" height="30.8" fill="#d7e5cb"/>
<rect x="979.86" y="1095.62" width="14.15" height="30.8" fill="#e2ecc8"/>
<rect x="996.25" y="1095.62" width="13.95" height="30.8" fill="#d7e5cb"/>
<rect x="1024.31" y="1095.62" width="14.15" height="30.8" fill="#e2ecc8"/>
<rect x="1040.71" y="1095.62" width="13.95" height="30.8" fill="#e2ecc8"/>
<rect x="1068.76" y="1095.62" width="14.15" height="30.8" fill="#e2ecc8"/>
<rect x="1085.16" y="1095.62" width="13.95" height="30.8" fill="#e2ecc8"/>
<rect x="1113.22" y="1095.62" width="14.15" height="30.8" fill="#e2ecc8"/>
<rect x="1129.62" y="1095.62" width="13.95" height="30.8" fill="#e2ecc8"/>
<rect x="1157.67" y="1095.62" width="14.15" height="30.8" fill="#e2ecc8"/>
<rect x="1174.07" y="1095.62" width="13.95" height="30.8" fill="#dce8ca"/>
<rect x="1202.13" y="1095.62" width="14.15" height="30.8" fill="#e2ecc8"/>
<rect x="1218.53" y="1095.62" width="13.95" height="30.8" fill="#dce8ca"/>
<rect x="1246.59" y="1095.62" width="14.15" height="30.8" fill="#e2ecc8"/>
<rect x="1262.99" y="1095.62" width="13.95" height="30.8" fill="#e2ecc8"/>
<rect x="1291.04" y="1095.62" width="14.15" height="30.8" fill="#e8f0c6"/>
<rect x="1307.44" y="1095.62" width="13.95" height="30.8" fill="#e2ecc8"/>
<rect x="1335.49" y="1095.62" width="14.15" height="30.8" fill="#e2ecc8"/>
<rect x="1351.89" y="1095.62" width="13.95" height="30.8" fill="#e2ecc8"/>
<rect x="1379.95" y="1095.62" width="14.15" height="30.8" fill="#dce8ca"/>
<rect x="1396.35" y="1095.62" width="13.95" height="30.8" fill="#dce8ca"/>
<rect x="1424.4" y="1095.62" width="14.15" height="30.8" fill="#d7e5cb"/>
<rect x="1440.8" y="1095.62" width="13.95" height="30.8" fill="#dce8ca"/>
<rect x="1468.86" y="1095.62" width="14.15" height="30.8" fill="#d7e5cb"/>
<rect x="1485.26" y="1095.62" width="13.95" height="30.8" fill="#d7e5cb"/>
<rect x="1513.31" y="1095.62" width="14.15" height="30.8" fill="#d7e5cb"/>
<rect x="1529.71" y="1095.62" width="13.95" height="30.8" fill="#d7e5cb"/>
<rect x="1557.77" y="1095.62" width="14.15" height="30.8" fill="#d1e1cd"/>
<rect x="1574.17" y="1095.62" width="13.95" height="30.8" fill="#d1e1cd"/>
<rect x="1602.22" y="1095.62" width="14.15" height="30.8" fill="#d1e1cd"/>
<rect x="1618.62" y="1095.62" width="13.95" height="30.8" fill="#d1e1cd"/>
<rect x="1646.68" y="1095.62" width="14.15" height="30.8" fill="#d1e1cd"/>
<rect x="1663.08" y="1095.62" width="13.95" height="30.8" fill="#d1e1cd"/>
<rect x="1691.13" y="1095.62" width="14.15" height="30.8" fill="#d1e1cd"/>
<rect x="1707.53" y="1095.62" width="13.95" height="30.8" fill="#d1e1cd"/>
<rect x="1735.59" y="1095.62" width="14.15" height="30.8" fill="#c9ddcf"/>
<rect x="1751.99" y="1095.62" width="13.95" height="30.8" fill="#c9ddcf"/>
<rect x="1780.04" y="1095.62" width="14.15" height="30.8" fill="#c2d8d1"/>
<rect x="1796.44" y="1095.62" width="13.95" height="30.8" fill="#c2d8d1"/>
<rect x="1824.5" y="1095.62" width="14.15" height="30.8" fill="#c2d8d1"/>
<rect x="1840.9" y="1095.62" width="13.95" height="30.8" fill="#c2d8d1"/>
<rect x="1868.95" y="1095.62" width="14.15" height="30.8" fill="#c2d8d1"/>
<rect x="1885.36" y="1095.62" width="13.95" height="30.8" fill="#c2d8d1"/>
<rect x="1913.41" y="1095.62" width="14.15" height="30.8" fill="#c2d8d1"/>
<rect x="1929.81" y="1095.62" width="13.95" height="30.8" fill="#bad4d3"/>
<rect x="1957.86" y="1095.62" width="14.15" height="30.8" fill="#c9ddcf"/>
<rect x="1974.26" y="1095.62" width="13.95" height="30.8" fill="#c2d8d1"/>
</g>
<g stroke="#2a2a2a" stroke-width="1.6">
<line x1="483.6" x2="488" y1="157.4" y2="157.4"/>
<line x1="483.6" x2="488" y1="190.28" y2="190.28"/>
<line x1="483.6" x2="488" y1="223.16" y2="223.16"/>
<line x1="483.6" x2="488" y1="256.04" y2="256.04"/>
<line x1="483.6" x2="488" y1="288.92" y2="288.92"/>
<line x1="483.6" x2="488" y1="321.8" y2="321.8"/>
<line x1="483.6" x2="488" y1="354.68" y2="354.68"/>
<line x1="483.6" x2="488" y1="387.56" y2="387.56"/>
<line x1="483.6" x2="488" y1="420.44" y2="420.44"/>
<line x1="483.6" x2="488" y1="453.32" y2="453.32"/>
<line x1="483.6" x2="488" y1="486.2" y2="486.2"/>
<line x1="483.6" x2="488" y1="519.08" y2="519.08"/>
<line x1="483.6" x2="488" y1="551.96" y2="551.96"/>
<line x1="483.6" x2="488" y1="584.84" y2="584.84"/>
<line x1="483.6" x2="488" y1="617.72" y2="617.72"/>
<line x1="483.6" x2="488" y1="650.6" y2="650.6"/>
<line x1="483.6" x2="488" y1="683.48" y2="683.48"/>
<line x1="483.6" x2="488" y1="716.36" y2="716.36"/>
<line x1="483.6" x2="488" y1="749.24" y2="749.24"/>
<line x1="483.6" x2="488" y1="782.12" y2="782.12"/>
<line x1="483.6" x2="488" y1="815" y2="815"/>
<line x1="483.6" x2="488" y1="847.88" y2="847.88"/>
<line x1="483.6" x2="488" y1="880.76" y2="880.76"/>
<line x1="483.6" x2="488" y1="913.64" y2="913.64"/>
<line x1="483.6" x2="488" y1="946.52" y2="946.52"/>
<line x1="483.6" x2="488" y1="979.4" y2="979.4"/>
<line x1="483.6" x2="488" y1="1012.28" y2="1012.28"/>
<line x1="483.6" x2="488" y1="1045.16" y2="1045.16"/>
<line x1="483.6" x2="488" y1="1078.04" y2="1078.04"/>
<line x1="483.6" x2="488" y1="1110.92" y2="1110.92"/>
</g>
<g font-size="25.15" text-anchor="end">
<text x="480.4" y="165">Tetrasphaera; midas_s_5; ASV1</text>
<text x="480.4" y="197.88">Ca_Microthrix; parvicella; ASV2</text>
<text x="480.4" y="230.76">Ca_Microthrix; subdominans; ASV5</text>
<text x="480.4" y="263.64">Ca_Competibacter; midas_s_198; ASV305</text>
<text x="480.4" y="296.52">Rhodoferax; midas_s_33; ASV16</text>
<text x="480.4" y="329.4">midas_g_17; ; ASV8</text>
<text x="480.4" y="362.28">Rhodobacter; ; ASV6</text>
<text x="480.4" y="395.16">Ca_Villigracilis; ; ASV18</text>
<text x="480.4" y="428.04">midas_g_59; ; ASV52</text>
<text x="480.4" y="460.92">;; ASV28</text>
<text x="480.4" y="493.8">midas_g_70; ; ASV32</text>
<text x="480.4" y="526.68">Ca_Microthrix; subdominans; ASV27</text>
<text x="480.4" y="559.56">Subgroup_10; midas_s_4082; ASV2974</text>
<text x="480.4" y="592.44">Dokdonella; ; ASV120</text>
<text x="480.4" y="625.32">midas_g_179; midas_s_179; ASV139</text>
<text x="480.4" y="658.2">Ca_Accumulibacter; ; ASV201</text>
<text x="480.4" y="691.08">Dokdonella; midas_s_124; ASV346</text>
<text x="480.4" y="723.96">Dechloromonas; phosphoritropha; ASV9</text>
<text x="480.4" y="756.84">Sulfuritalea; hydrogenivorans; ASV651</text>
<text x="480.4" y="789.72">Ca_Competibacter; midas_s_601; ASV165</text>
<text x="480.4" y="822.6">midas_g_100; midas_s_100; ASV40</text>
<text x="480.4" y="855.48">Ca_Microthrix; subdominans; ASV62</text>
<text x="480.4" y="888.36">;; ASV81</text>
<text x="480.4" y="921.24">midas_g_300; ; ASV99</text>
<text x="480.4" y="954.12">JGI_0001001−H03; midas_s_170; ASV108</text>
<text x="480.4" y="987">Tetrasphaera; midas_s_5; ASV12</text>
<text x="480.4" y="1019.88">Rhodobacter; midas_s_24; ASV19</text>
<text x="480.4" y="1052.76">midas_g_67; midas_s_67; ASV74</text>
<text x="480.4" y="1085.64">Rhodobacter; ; ASV26</text>
<text x="480.4" y="1118.52">Trichococcus; midas_s_4; ASV4</text>
</g>
<g stroke="#2a2a2a" stroke-width="1.6">
<line x1="497.75" x2="497.75" y1="1130.2" y2="1134.6"/>
<line x1="514.2" x2="514.2" y1="1130.2" y2="1134.6"/>
<line x1="542.21" x2="542.21" y1="1130.2" y2="1134.6"/>
<line x1="558.66" x2="558.66" y1="1130.2" y2="1134.6"/>
<line x1="586.66" x2="586.66" y1="1130.2" y2="1134.6"/>
<line x1="603.11" x2="603.11" y1="1130.2" y2="1134.6"/>
<line x1="631.12" x2="631.12" y1="1130.2" y2="1134.6"/>
<line x1="647.57" x2="647.57" y1="1130.2" y2="1134.6"/>
<line x1="675.57" x2="675.57" y1="1130.2" y2="1134.6"/>
<line x1="692.02" x2="692.02" y1="1130.2" y2="1134.6"/>
<line x1="720.02" x2="720.02" y1="1130.2" y2="1134.6"/>
<line x1="736.48" x2="736.48" y1="1130.2" y2="1134.6"/>
<line x1="764.48" x2="764.48" y1="1130.2" y2="1134.6"/>
<line x1="780.93" x2="780.93" y1="1130.2" y2="1134.6"/>
<line x1="808.93" x2="808.93" y1="1130.2" y2="1134.6"/>
<line x1="825.38" x2="825.38" y1="1130.2" y2="1134.6"/>
<line x1="853.39" x2="853.39" y1="1130.2" y2="1134.6"/>
<line x1="869.84" x2="869.84" y1="1130.2" y2="1134.6"/>
<line x1="897.85" x2="897.85" y1="1130.2" y2="1134.6"/>
<line x1="914.3" x2="914.3" y1="1130.2" y2="1134.6"/>
<line x1="942.3" x2="942.3" y1="1130.2" y2="1134.6"/>
<line x1="958.75" x2="958.75" y1="1130.2" y2="1134.6"/>
<line x1="986.75" x2="986.75" y1="1130.2" y2="1134.6"/>
<line x1="1003.21" x2="1003.21" y1="1130.2" y2="1134.6"/>
<line x1="1031.21" x2="1031.21" y1="1130.2" y2="1134.6"/>
<line x1="1047.66" x2="1047.66" y1="1130.2" y2="1134.6"/>
<line x1="1075.66" x2="1075.66" y1="1130.2" y2="1134.6"/>
<line x1="1092.12" x2="1092.12" y1="1130.2" y2="1134.6"/>
<line x1="1120.12" x2="1120.12" y1="1130.2" y2="1134.6"/>
<line x1="1136.57" x2="1136.57" y1="1130.2" y2="1134.6"/>
<line x1="1164.57" x2="1164.57" y1="1130.2" y2="1134.6"/>
<line x1="1181.02" x2="1181.02" y1="1130.2" y2="1134.6"/>
<line x1="1209.03" x2="1209.03" y1="1130.2" y2="1134.6"/>
<line x1="1225.48" x2="1225.48" y1="1130.2" y2="1134.6"/>
<line x1="1253.49" x2="1253.49" y1="1130.2" y2="1134.6"/>
<line x1="1269.94" x2="1269.94" y1="1130.2" y2="1134.6"/>
<line x1="1297.94" x2="1297.94" y1="1130.2" y2="1134.6"/>
<line x1="1314.39" x2="1314.39" y1="1130.2" y2="1134.6"/>
<line x1="1342.39" x2="1342.39" y1="1130.2" y2="1134.6"/>
<line x1="1358.85" x2="1358.85" y1="1130.2" y2="1134.6"/>
<line x1="1386.85" x2="1386.85" y1="1130.2" y2="1134.6"/>
<line x1="1403.3" x2="1403.3" y1="1130.2" y2="1134.6"/>
<line x1="1431.3" x2="1431.3" y1="1130.2" y2="1134.6"/>
<line x1="1447.75" x2="1447.75" y1="1130.2" y2="1134.6"/>
<line x1="1475.76" x2="1475.76" y1="1130.2" y2="1134.6"/>
<line x1="1492.21" x2="1492.21" y1="1130.2" y2="1134.6"/>
<line x1="1520.21" x2="1520.21" y1="1130.2" y2="1134.6"/>
<line x1="1536.66" x2="1536.66" y1="1130.2" y2="1134.6"/>
<line x1="1564.67" x2="1564.67" y1="1130.2" y2="1134.6"/>
<line x1="1581.12" x2="1581.12" y1="1130.2" y2="1134.6"/>
<line x1="1609.12" x2="1609.12" y1="1130.2" y2="1134.6"/>
<line x1="1625.58" x2="1625.58" y1="1130.2" y2="1134.6"/>
<line x1="1653.58" x2="1653.58" y1="1130.2" y2="1134.6"/>
<line x1="1670.03" x2="1670.03" y1="1130.2" y2="1134.6"/>
<line x1="1698.03" x2="1698.03" y1="1130.2" y2="1134.6"/>
<line x1="1714.48" x2="1714.48" y1="1130.2" y2="1134.6"/>
<line x1="1742.49" x2="1742.49" y1="1130.2" y2="1134.6"/>
<line x1="1758.94" x2="1758.94" y1="1130.2" y2="1134.6"/>
<line x1="1786.94" x2="1786.94" y1="1130.2" y2="1134.6"/>
<line x1="1803.39" x2="1803.39" y1="1130.2" y2="1134.6"/>
<line x1="1831.4" x2="1831.4" y1="1130.2" y2="1134.6"/>
<line x1="1847.85" x2="1847.85" y1="1130.2" y2="1134.6"/>
<line x1="1875.86" x2="1875.86" y1="1130.2" y2="1134.6"/>
<line x1="1892.31" x2="1892.31" y1="1130.2" y2="1134.6"/>
<line x1="1920.31" x2="1920.31" y1="1130.2" y2="1134.6"/>
<line x1="1936.76" x2="1936.76" y1="1130.2" y2="1134.6"/>
<line x1="1964.76" x2="1964.76" y1="1130.2" y2="1134.6"/>
<line x1="1981.21" x2="1981.21" y1="1130.2" y2="1134.6"/>
</g>
<g font-size="21.8" text-anchor="end">
<text transform="translate(505.9,1138.4) rotate(-90)">real</text>
<text transform="translate(522.1,1139) rotate(-90)">predicted</text>
<text transform="translate(550.36,1138.4) rotate(-90)">real</text>
<text transform="translate(566.56,1139) rotate(-90)">predicted</text>
<text transform="translate(594.81,1138.4) rotate(-90)">real</text>
<text transform="translate(611.01,1139) rotate(-90)">predicted</text>
<text transform="translate(639.26,1138.4) rotate(-90)">real</text>
<text transform="translate(655.47,1139) rotate(-90)">predicted</text>
<text transform="translate(683.72,1138.4) rotate(-90)">real</text>
<text transform="translate(699.92,1139) rotate(-90)">predicted</text>
<text transform="translate(728.17,1138.4) rotate(-90)">real</text>
<text transform="translate(744.38,1139) rotate(-90)">predicted</text>
<text transform="translate(772.63,1138.4) rotate(-90)">real</text>
<text transform="translate(788.83,1139) rotate(-90)">predicted</text>
<text transform="translate(817.08,1138.4) rotate(-90)">real</text>
<text transform="translate(833.28,1139) rotate(-90)">predicted</text>
<text transform="translate(861.54,1138.4) rotate(-90)">real</text>
<text transform="translate(877.74,1139) rotate(-90)">predicted</text>
<text transform="translate(906,1138.4) rotate(-90)">real</text>
<text transform="translate(922.2,1139) rotate(-90)">predicted</text>
<text transform="translate(950.45,1138.4) rotate(-90)">real</text>
<text transform="translate(966.65,1139) rotate(-90)">predicted</text>
<text transform="translate(994.9,1138.4) rotate(-90)">real</text>
<text transform="translate(1011.11,1139) rotate(-90)">predicted</text>
<text transform="translate(1039.36,1138.4) rotate(-90)">real</text>
<text transform="translate(1055.56,1139) rotate(-90)">predicted</text>
<text transform="translate(1083.82,1138.4) rotate(-90)">real</text>
<text transform="translate(1100.01,1139) rotate(-90)">predicted</text>
<text transform="translate(1128.27,1138.4) rotate(-90)">real</text>
<text transform="translate(1144.47,1139) rotate(-90)">predicted</text>
<text transform="translate(1172.72,1138.4) rotate(-90)">real</text>
<text transform="translate(1188.92,1139) rotate(-90)">predicted</text>
<text transform="translate(1217.18,1138.4) rotate(-90)">real</text>
<text transform="translate(1233.38,1139) rotate(-90)">predicted</text>
<text transform="translate(1261.64,1138.4) rotate(-90)">real</text>
<text transform="translate(1277.84,1139) rotate(-90)">predicted</text>
<text transform="translate(1306.09,1138.4) rotate(-90)">real</text>
<text transform="translate(1322.29,1139) rotate(-90)">predicted</text>
<text transform="translate(1350.55,1138.4) rotate(-90)">real</text>
<text transform="translate(1366.74,1139) rotate(-90)">predicted</text>
<text transform="translate(1395,1138.4) rotate(-90)">real</text>
<text transform="translate(1411.2,1139) rotate(-90)">predicted</text>
<text transform="translate(1439.45,1138.4) rotate(-90)">real</text>
<text transform="translate(1455.65,1139) rotate(-90)">predicted</text>
<text transform="translate(1483.91,1138.4) rotate(-90)">real</text>
<text transform="translate(1500.11,1139) rotate(-90)">predicted</text>
<text transform="translate(1528.37,1138.4) rotate(-90)">real</text>
<text transform="translate(1544.56,1139) rotate(-90)">predicted</text>
<text transform="translate(1572.82,1138.4) rotate(-90)">real</text>
<text transform="translate(1589.02,1139) rotate(-90)">predicted</text>
<text transform="translate(1617.28,1138.4) rotate(-90)">real</text>
<text transform="translate(1633.47,1139) rotate(-90)">predicted</text>
<text transform="translate(1661.73,1138.4) rotate(-90)">real</text>
<text transform="translate(1677.93,1139) rotate(-90)">predicted</text>
<text transform="translate(1706.18,1138.4) rotate(-90)">real</text>
<text transform="translate(1722.38,1139) rotate(-90)">predicted</text>
<text transform="translate(1750.64,1138.4) rotate(-90)">real</text>
<text transform="translate(1766.84,1139) rotate(-90)">predicted</text>
<text transform="translate(1795.1,1138.4) rotate(-90)">real</text>
<text transform="translate(1811.29,1139) rotate(-90)">predicted</text>
<text transform="translate(1839.55,1138.4) rotate(-90)">real</text>
<text transform="translate(1855.75,1139) rotate(-90)">predicted</text>
<text transform="translate(1884.01,1138.4) rotate(-90)">real</text>
<text transform="translate(1900.2,1139) rotate(-90)">predicted</text>
<text transform="translate(1928.46,1138.4) rotate(-90)">real</text>
<text transform="translate(1944.66,1139) rotate(-90)">predicted</text>
<text transform="translate(1972.91,1138.4) rotate(-90)">real</text>
<text transform="translate(1989.11,1139) rotate(-90)">predicted</text>
</g>
<defs><linearGradient id="cb" x1="0" x2="1" y1="0" y2="0">
<stop offset="0" stop-color="#91bfdb"/>
<stop offset="0.03" stop-color="#98c2da"/>
<stop offset="0.05" stop-color="#9ec5d9"/>
<stop offset="0.07" stop-color="#a4c8d7"/>
<stop offset="0.1" stop-color="#aacbd6"/>
<stop offset="0.12" stop-color="#b0ced5"/>
<stop offset="0.15" stop-color="#b6d2d3"/>
<stop offset="0.17" stop-color="#bcd5d2"/>
<stop offset="0.2" stop-color="#c1d8d1"/>
<stop offset="0.23" stop-color="#c7dbcf"/>
<stop offset="0.25" stop-color="#ccdece"/>
<stop offset="0.28" stop-color="#d1e2cd"/>
<stop offset="0.3" stop-color="#d7e5cb"/>
<stop offset="0.33" stop-color="#dce8ca"/>
<stop offset="0.35" stop-color="#e1ebc8"/>
<stop offset="0.38" stop-color="#e6efc7"/>
<stop offset="0.4" stop-color="#ebf2c5"/>
<stop offset="0.42" stop-color="#f0f5c4"/>
<stop offset="0.45" stop-color="#f5f8c2"/>
<stop offset="0.47" stop-color="#fafcc1"/>
<stop offset="0.5" stop-color="#ffffbf"/>
<stop offset="0.53" stop-color="#fff9ba"/>
<stop offset="0.55" stop-color="#fff4b4"/>
<stop offset="0.57" stop-color="#ffeeaf"/>
<stop offset="0.6" stop-color="#ffe9aa"/>
<stop offset="0.62" stop-color="#ffe3a5"/>
<stop offset="0.65" stop-color="#ffdd9f"/>
<stop offset="0.68" stop-color="#ffd89a"/>
<stop offset="0.7" stop-color="#ffd295"/>
<stop offset="0.72" stop-color="#ffcc90"/>
<stop offset="0.75" stop-color="#ffc78b"/>
<stop offset="0.78" stop-color="#ffc186"/>
<stop offset="0.8" stop-color="#ffbc81"/>
<stop offset="0.82" stop-color="#ffb67b"/>
<stop offset="0.85" stop-color="#ffb076"/>
<stop offset="0.88" stop-color="#ffaa72"/>
<stop offset="0.9" stop-color="#ffa56d"/>
<stop offset="0.93" stop-color="#ff9f68"/>
<stop offset="0.95" stop-color="#fe9963"/>
<stop offset="0.97" stop-color="#fd935e"/>
<stop offset="1" stop-color="#fc8d59"/>
</linearGradient></defs>
<rect x="1320.0" y="1253.9" width="137" height="28" fill="url(#cb)"/>
<g stroke="#333" stroke-width="1.2">
<line x1="1321.3" x2="1321.3" y1="1253.9" y2="1259.6000000000001"/>
<line x1="1321.3" x2="1321.3" y1="1276.2" y2="1281.9"/>
<line x1="1381.5" x2="1381.5" y1="1253.9" y2="1259.6000000000001"/>
<line x1="1381.5" x2="1381.5" y1="1276.2" y2="1281.9"/>
<line x1="1406.5" x2="1406.5" y1="1253.9" y2="1259.6000000000001"/>
<line x1="1406.5" x2="1406.5" y1="1276.2" y2="1281.9"/>
<line x1="1425.5" x2="1425.5" y1="1253.9" y2="1259.6000000000001"/>
<line x1="1425.5" x2="1425.5" y1="1276.2" y2="1281.9"/>
<line x1="1455.7" x2="1455.7" y1="1253.9" y2="1259.6000000000001"/>
<line x1="1455.7" x2="1455.7" y1="1276.2" y2="1281.9"/>
</g>
<g font-size="22.2" text-anchor="middle">
<text x="1321.3" y="1310.9">0</text>
<text x="1381.5" y="1310.9">1</text>
<text x="1406.5" y="1310.9">2</text>
<text x="1425.5" y="1310.9">3</text>
<text x="1455.7" y="1310.9">5</text>
</g>
<text transform="translate(1305.8,1294.9) scale(1,1.035)" font-size="28.0" text-anchor="end">% Relative Abundance</text>
</svg></body></html>
